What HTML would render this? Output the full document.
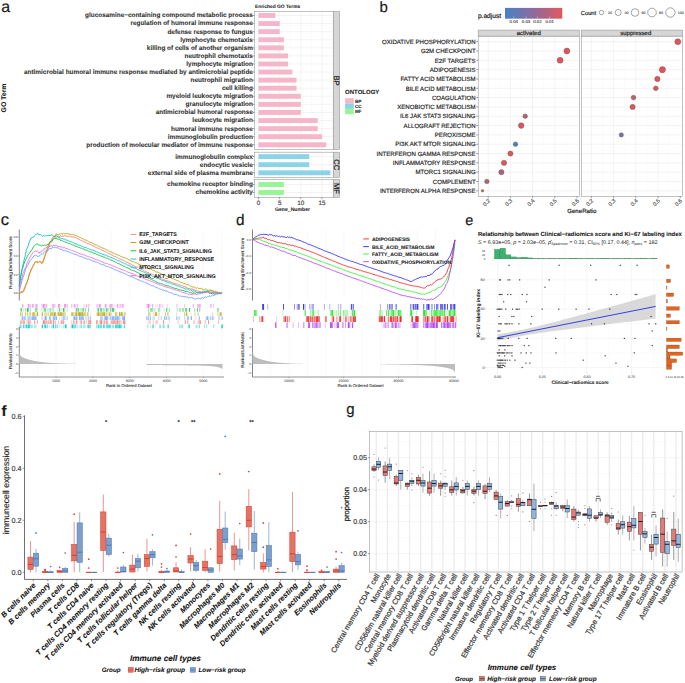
<!DOCTYPE html>
<html><head><meta charset="utf-8"><title>Figure</title>
<style>html,body{margin:0;padding:0;background:#fff;width:685px;height:683px;overflow:hidden}
svg{display:block;font-family:"Liberation Sans",sans-serif;text-rendering:geometricPrecision}</style></head>
<body><svg width="685" height="683" viewBox="0 0 685 683" font-family="Liberation Sans, sans-serif"><text x="1.2" y="12.2" font-size="16" text-anchor="start" fill="#1a1a1a" stroke="#1a1a1a" stroke-width="0.19">a</text>
<text x="255" y="7.8" font-size="4.85" font-weight="bold" text-anchor="start" fill="#1a1a1a" stroke="#1a1a1a" stroke-width="0.06">Enriched GO Terms</text>
<text x="6.2" y="98" font-size="6.9" font-weight="bold" text-anchor="middle" fill="#1a1a1a" stroke="#1a1a1a" stroke-width="0.08" transform="rotate(-90 6.2 98)">GO Term</text>
<rect x="254.5" y="11.6" width="78.9" height="137.8" fill="#fff" stroke="none" stroke-width="0.5"/>
<line x1="269.07" y1="11.6" x2="269.07" y2="149.4" stroke="#f3f3f3" stroke-width="0.35"/>
<line x1="290.23" y1="11.6" x2="290.23" y2="149.4" stroke="#f3f3f3" stroke-width="0.35"/>
<line x1="311.38" y1="11.6" x2="311.38" y2="149.4" stroke="#f3f3f3" stroke-width="0.35"/>
<line x1="332.52" y1="11.6" x2="332.52" y2="149.4" stroke="#f3f3f3" stroke-width="0.35"/>
<line x1="258.5" y1="11.6" x2="258.5" y2="149.4" stroke="#ebebeb" stroke-width="0.6"/>
<line x1="279.65" y1="11.6" x2="279.65" y2="149.4" stroke="#ebebeb" stroke-width="0.6"/>
<line x1="300.8" y1="11.6" x2="300.8" y2="149.4" stroke="#ebebeb" stroke-width="0.6"/>
<line x1="321.95" y1="11.6" x2="321.95" y2="149.4" stroke="#ebebeb" stroke-width="0.6"/>
<line x1="254.5" y1="15.5" x2="333.4" y2="15.5" stroke="#ebebeb" stroke-width="0.6"/>
<line x1="254.5" y1="23.58" x2="333.4" y2="23.58" stroke="#ebebeb" stroke-width="0.6"/>
<line x1="254.5" y1="31.66" x2="333.4" y2="31.66" stroke="#ebebeb" stroke-width="0.6"/>
<line x1="254.5" y1="39.74" x2="333.4" y2="39.74" stroke="#ebebeb" stroke-width="0.6"/>
<line x1="254.5" y1="47.82" x2="333.4" y2="47.82" stroke="#ebebeb" stroke-width="0.6"/>
<line x1="254.5" y1="55.9" x2="333.4" y2="55.9" stroke="#ebebeb" stroke-width="0.6"/>
<line x1="254.5" y1="63.98" x2="333.4" y2="63.98" stroke="#ebebeb" stroke-width="0.6"/>
<line x1="254.5" y1="72.06" x2="333.4" y2="72.06" stroke="#ebebeb" stroke-width="0.6"/>
<line x1="254.5" y1="80.14" x2="333.4" y2="80.14" stroke="#ebebeb" stroke-width="0.6"/>
<line x1="254.5" y1="88.22" x2="333.4" y2="88.22" stroke="#ebebeb" stroke-width="0.6"/>
<line x1="254.5" y1="96.3" x2="333.4" y2="96.3" stroke="#ebebeb" stroke-width="0.6"/>
<line x1="254.5" y1="104.38" x2="333.4" y2="104.38" stroke="#ebebeb" stroke-width="0.6"/>
<line x1="254.5" y1="112.46" x2="333.4" y2="112.46" stroke="#ebebeb" stroke-width="0.6"/>
<line x1="254.5" y1="120.54" x2="333.4" y2="120.54" stroke="#ebebeb" stroke-width="0.6"/>
<line x1="254.5" y1="128.62" x2="333.4" y2="128.62" stroke="#ebebeb" stroke-width="0.6"/>
<line x1="254.5" y1="136.7" x2="333.4" y2="136.7" stroke="#ebebeb" stroke-width="0.6"/>
<line x1="254.5" y1="144.78" x2="333.4" y2="144.78" stroke="#ebebeb" stroke-width="0.6"/>
<rect x="258.5" y="13.05" width="16.92" height="4.9" fill="#f4b6c8" stroke="none" stroke-width="0.5"/>
<text x="252.9" y="17.4" font-size="6.42" font-weight="bold" text-anchor="end" fill="#333" stroke="#333" stroke-width="0.08">glucosamine−containing compound metabolic process</text>
<line x1="252.6" y1="15.5" x2="254.5" y2="15.5" stroke="#444" stroke-width="0.5"/>
<rect x="258.5" y="21.13" width="21.15" height="4.9" fill="#f4b6c8" stroke="none" stroke-width="0.5"/>
<text x="252.9" y="25.48" font-size="6.42" font-weight="bold" text-anchor="end" fill="#333" stroke="#333" stroke-width="0.08">regulation of humoral immune response</text>
<line x1="252.6" y1="23.58" x2="254.5" y2="23.58" stroke="#444" stroke-width="0.5"/>
<rect x="258.5" y="29.21" width="21.15" height="4.9" fill="#f4b6c8" stroke="none" stroke-width="0.5"/>
<text x="252.9" y="33.56" font-size="6.42" font-weight="bold" text-anchor="end" fill="#333" stroke="#333" stroke-width="0.08">defense response to fungus</text>
<line x1="252.6" y1="31.66" x2="254.5" y2="31.66" stroke="#444" stroke-width="0.5"/>
<rect x="258.5" y="37.29" width="25.38" height="4.9" fill="#f4b6c8" stroke="none" stroke-width="0.5"/>
<text x="252.9" y="41.64" font-size="6.42" font-weight="bold" text-anchor="end" fill="#333" stroke="#333" stroke-width="0.08">lymphocyte chemotaxis</text>
<line x1="252.6" y1="39.74" x2="254.5" y2="39.74" stroke="#444" stroke-width="0.5"/>
<rect x="258.5" y="45.37" width="25.38" height="4.9" fill="#f4b6c8" stroke="none" stroke-width="0.5"/>
<text x="252.9" y="49.72" font-size="6.42" font-weight="bold" text-anchor="end" fill="#333" stroke="#333" stroke-width="0.08">killing of cells of another organism</text>
<line x1="252.6" y1="47.82" x2="254.5" y2="47.82" stroke="#444" stroke-width="0.5"/>
<rect x="258.5" y="53.45" width="29.61" height="4.9" fill="#f4b6c8" stroke="none" stroke-width="0.5"/>
<text x="252.9" y="57.8" font-size="6.42" font-weight="bold" text-anchor="end" fill="#333" stroke="#333" stroke-width="0.08">neutrophil chemotaxis</text>
<line x1="252.6" y1="55.9" x2="254.5" y2="55.9" stroke="#444" stroke-width="0.5"/>
<rect x="258.5" y="61.53" width="29.61" height="4.9" fill="#f4b6c8" stroke="none" stroke-width="0.5"/>
<text x="252.9" y="65.88" font-size="6.42" font-weight="bold" text-anchor="end" fill="#333" stroke="#333" stroke-width="0.08">lymphocyte migration</text>
<line x1="252.6" y1="63.98" x2="254.5" y2="63.98" stroke="#444" stroke-width="0.5"/>
<rect x="258.5" y="69.61" width="33.84" height="4.9" fill="#f4b6c8" stroke="none" stroke-width="0.5"/>
<text x="252.9" y="73.96" font-size="6.42" font-weight="bold" text-anchor="end" fill="#333" stroke="#333" stroke-width="0.08">antimicrobial humoral immune response mediated by antimicrobial peptide</text>
<line x1="252.6" y1="72.06" x2="254.5" y2="72.06" stroke="#444" stroke-width="0.5"/>
<rect x="258.5" y="77.69" width="38.07" height="4.9" fill="#f4b6c8" stroke="none" stroke-width="0.5"/>
<text x="252.9" y="82.04" font-size="6.42" font-weight="bold" text-anchor="end" fill="#333" stroke="#333" stroke-width="0.08">neutrophil migration</text>
<line x1="252.6" y1="80.14" x2="254.5" y2="80.14" stroke="#444" stroke-width="0.5"/>
<rect x="258.5" y="85.77" width="38.07" height="4.9" fill="#f4b6c8" stroke="none" stroke-width="0.5"/>
<text x="252.9" y="90.12" font-size="6.42" font-weight="bold" text-anchor="end" fill="#333" stroke="#333" stroke-width="0.08">cell killing</text>
<line x1="252.6" y1="88.22" x2="254.5" y2="88.22" stroke="#444" stroke-width="0.5"/>
<rect x="258.5" y="93.85" width="42.3" height="4.9" fill="#f4b6c8" stroke="none" stroke-width="0.5"/>
<text x="252.9" y="98.2" font-size="6.42" font-weight="bold" text-anchor="end" fill="#333" stroke="#333" stroke-width="0.08">myeloid leukocyte migration</text>
<line x1="252.6" y1="96.3" x2="254.5" y2="96.3" stroke="#444" stroke-width="0.5"/>
<rect x="258.5" y="101.93" width="42.3" height="4.9" fill="#f4b6c8" stroke="none" stroke-width="0.5"/>
<text x="252.9" y="106.28" font-size="6.42" font-weight="bold" text-anchor="end" fill="#333" stroke="#333" stroke-width="0.08">granulocyte migration</text>
<line x1="252.6" y1="104.38" x2="254.5" y2="104.38" stroke="#444" stroke-width="0.5"/>
<rect x="258.5" y="110.01" width="42.3" height="4.9" fill="#f4b6c8" stroke="none" stroke-width="0.5"/>
<text x="252.9" y="114.36" font-size="6.42" font-weight="bold" text-anchor="end" fill="#333" stroke="#333" stroke-width="0.08">antimicrobial humoral response</text>
<line x1="252.6" y1="112.46" x2="254.5" y2="112.46" stroke="#444" stroke-width="0.5"/>
<rect x="258.5" y="118.09" width="59.22" height="4.9" fill="#f4b6c8" stroke="none" stroke-width="0.5"/>
<text x="252.9" y="122.44" font-size="6.42" font-weight="bold" text-anchor="end" fill="#333" stroke="#333" stroke-width="0.08">leukocyte migration</text>
<line x1="252.6" y1="120.54" x2="254.5" y2="120.54" stroke="#444" stroke-width="0.5"/>
<rect x="258.5" y="126.17" width="59.22" height="4.9" fill="#f4b6c8" stroke="none" stroke-width="0.5"/>
<text x="252.9" y="130.52" font-size="6.42" font-weight="bold" text-anchor="end" fill="#333" stroke="#333" stroke-width="0.08">humoral immune response</text>
<line x1="252.6" y1="128.62" x2="254.5" y2="128.62" stroke="#444" stroke-width="0.5"/>
<rect x="258.5" y="134.25" width="63.45" height="4.9" fill="#f4b6c8" stroke="none" stroke-width="0.5"/>
<text x="252.9" y="138.6" font-size="6.42" font-weight="bold" text-anchor="end" fill="#333" stroke="#333" stroke-width="0.08">immunoglobulin production</text>
<line x1="252.6" y1="136.7" x2="254.5" y2="136.7" stroke="#444" stroke-width="0.5"/>
<rect x="258.5" y="142.33" width="67.68" height="4.9" fill="#f4b6c8" stroke="none" stroke-width="0.5"/>
<text x="252.9" y="146.68" font-size="6.42" font-weight="bold" text-anchor="end" fill="#333" stroke="#333" stroke-width="0.08">production of molecular mediator of immune response</text>
<line x1="252.6" y1="144.78" x2="254.5" y2="144.78" stroke="#444" stroke-width="0.5"/>
<rect x="254.5" y="11.6" width="78.9" height="137.8" fill="none" stroke="#9a9a9a" stroke-width="0.6"/>
<rect x="333.4" y="11.6" width="6.3" height="137.8" fill="#d6d6d6" stroke="#9a9a9a" stroke-width="0.6"/>
<text x="333.9" y="80.5" font-size="7.6" text-anchor="middle" fill="#1a1a1a" stroke="#1a1a1a" stroke-width="0.23" transform="rotate(90 333.9 80.5)">BP</text>
<rect x="254.5" y="152.2" width="78.9" height="25.2" fill="#fff" stroke="none" stroke-width="0.5"/>
<line x1="269.07" y1="152.2" x2="269.07" y2="177.4" stroke="#f3f3f3" stroke-width="0.35"/>
<line x1="290.23" y1="152.2" x2="290.23" y2="177.4" stroke="#f3f3f3" stroke-width="0.35"/>
<line x1="311.38" y1="152.2" x2="311.38" y2="177.4" stroke="#f3f3f3" stroke-width="0.35"/>
<line x1="332.52" y1="152.2" x2="332.52" y2="177.4" stroke="#f3f3f3" stroke-width="0.35"/>
<line x1="258.5" y1="152.2" x2="258.5" y2="177.4" stroke="#ebebeb" stroke-width="0.6"/>
<line x1="279.65" y1="152.2" x2="279.65" y2="177.4" stroke="#ebebeb" stroke-width="0.6"/>
<line x1="300.8" y1="152.2" x2="300.8" y2="177.4" stroke="#ebebeb" stroke-width="0.6"/>
<line x1="321.95" y1="152.2" x2="321.95" y2="177.4" stroke="#ebebeb" stroke-width="0.6"/>
<line x1="254.5" y1="156.6" x2="333.4" y2="156.6" stroke="#ebebeb" stroke-width="0.6"/>
<line x1="254.5" y1="164.7" x2="333.4" y2="164.7" stroke="#ebebeb" stroke-width="0.6"/>
<line x1="254.5" y1="172.8" x2="333.4" y2="172.8" stroke="#ebebeb" stroke-width="0.6"/>
<rect x="258.5" y="154.15" width="50.76" height="4.9" fill="#8dd3e8" stroke="none" stroke-width="0.5"/>
<text x="252.9" y="158.5" font-size="6.42" font-weight="bold" text-anchor="end" fill="#333" stroke="#333" stroke-width="0.08">immunoglobulin complex</text>
<line x1="252.6" y1="156.6" x2="254.5" y2="156.6" stroke="#444" stroke-width="0.5"/>
<rect x="258.5" y="162.25" width="50.76" height="4.9" fill="#8dd3e8" stroke="none" stroke-width="0.5"/>
<text x="252.9" y="166.6" font-size="6.42" font-weight="bold" text-anchor="end" fill="#333" stroke="#333" stroke-width="0.08">endocytic vesicle</text>
<line x1="252.6" y1="164.7" x2="254.5" y2="164.7" stroke="#444" stroke-width="0.5"/>
<rect x="258.5" y="170.35" width="71.91" height="4.9" fill="#8dd3e8" stroke="none" stroke-width="0.5"/>
<text x="252.9" y="174.7" font-size="6.42" font-weight="bold" text-anchor="end" fill="#333" stroke="#333" stroke-width="0.08">external side of plasma membrane</text>
<line x1="252.6" y1="172.8" x2="254.5" y2="172.8" stroke="#444" stroke-width="0.5"/>
<rect x="254.5" y="152.2" width="78.9" height="25.2" fill="none" stroke="#9a9a9a" stroke-width="0.6"/>
<rect x="333.4" y="152.2" width="6.3" height="25.2" fill="#d6d6d6" stroke="#9a9a9a" stroke-width="0.6"/>
<text x="333.9" y="164.8" font-size="7.6" text-anchor="middle" fill="#1a1a1a" stroke="#1a1a1a" stroke-width="0.23" transform="rotate(90 333.9 164.8)">CC</text>
<rect x="254.5" y="179.6" width="78.9" height="17.8" fill="#fff" stroke="none" stroke-width="0.5"/>
<line x1="269.07" y1="179.6" x2="269.07" y2="197.4" stroke="#f3f3f3" stroke-width="0.35"/>
<line x1="290.23" y1="179.6" x2="290.23" y2="197.4" stroke="#f3f3f3" stroke-width="0.35"/>
<line x1="311.38" y1="179.6" x2="311.38" y2="197.4" stroke="#f3f3f3" stroke-width="0.35"/>
<line x1="332.52" y1="179.6" x2="332.52" y2="197.4" stroke="#f3f3f3" stroke-width="0.35"/>
<line x1="258.5" y1="179.6" x2="258.5" y2="197.4" stroke="#ebebeb" stroke-width="0.6"/>
<line x1="279.65" y1="179.6" x2="279.65" y2="197.4" stroke="#ebebeb" stroke-width="0.6"/>
<line x1="300.8" y1="179.6" x2="300.8" y2="197.4" stroke="#ebebeb" stroke-width="0.6"/>
<line x1="321.95" y1="179.6" x2="321.95" y2="197.4" stroke="#ebebeb" stroke-width="0.6"/>
<line x1="254.5" y1="184.5" x2="333.4" y2="184.5" stroke="#ebebeb" stroke-width="0.6"/>
<line x1="254.5" y1="192.5" x2="333.4" y2="192.5" stroke="#ebebeb" stroke-width="0.6"/>
<rect x="258.5" y="182.05" width="25.38" height="4.9" fill="#97f595" stroke="none" stroke-width="0.5"/>
<text x="252.9" y="186.4" font-size="6.42" font-weight="bold" text-anchor="end" fill="#333" stroke="#333" stroke-width="0.08">chemokine receptor binding</text>
<line x1="252.6" y1="184.5" x2="254.5" y2="184.5" stroke="#444" stroke-width="0.5"/>
<rect x="258.5" y="190.05" width="25.38" height="4.9" fill="#97f595" stroke="none" stroke-width="0.5"/>
<text x="252.9" y="194.4" font-size="6.42" font-weight="bold" text-anchor="end" fill="#333" stroke="#333" stroke-width="0.08">chemokine activity</text>
<line x1="252.6" y1="192.5" x2="254.5" y2="192.5" stroke="#444" stroke-width="0.5"/>
<rect x="254.5" y="179.6" width="78.9" height="17.8" fill="none" stroke="#9a9a9a" stroke-width="0.6"/>
<rect x="333.4" y="179.6" width="6.3" height="17.8" fill="#d6d6d6" stroke="#9a9a9a" stroke-width="0.6"/>
<text x="333.9" y="188.5" font-size="7.6" text-anchor="middle" fill="#1a1a1a" stroke="#1a1a1a" stroke-width="0.23" transform="rotate(90 333.9 188.5)">MF</text>
<line x1="258.5" y1="197.4" x2="258.5" y2="199.2" stroke="#444" stroke-width="0.5"/>
<text x="258.5" y="205" font-size="6.3" text-anchor="middle" fill="#4d4d4d" stroke="#4d4d4d" stroke-width="0.19">0</text>
<line x1="279.65" y1="197.4" x2="279.65" y2="199.2" stroke="#444" stroke-width="0.5"/>
<text x="279.65" y="205" font-size="6.3" text-anchor="middle" fill="#4d4d4d" stroke="#4d4d4d" stroke-width="0.19">5</text>
<line x1="300.8" y1="197.4" x2="300.8" y2="199.2" stroke="#444" stroke-width="0.5"/>
<text x="300.8" y="205" font-size="6.3" text-anchor="middle" fill="#4d4d4d" stroke="#4d4d4d" stroke-width="0.19">10</text>
<line x1="321.95" y1="197.4" x2="321.95" y2="199.2" stroke="#444" stroke-width="0.5"/>
<text x="321.95" y="205" font-size="6.3" text-anchor="middle" fill="#4d4d4d" stroke="#4d4d4d" stroke-width="0.19">15</text>
<text x="292.5" y="210.7" font-size="5.12" font-weight="bold" text-anchor="middle" fill="#1a1a1a" stroke="#1a1a1a" stroke-width="0.06">Gene_Number</text>
<text x="345.1" y="94.1" font-size="6" font-weight="bold" text-anchor="start" fill="#1a1a1a" stroke="#1a1a1a" stroke-width="0.07">ONTOLOGY</text>
<rect x="345.1" y="98.2" width="8.7" height="5.35" fill="#f4b6c8" stroke="none" stroke-width="0.5"/>
<text x="355" y="102.6" font-size="4.6" font-weight="bold" text-anchor="start" fill="#1a1a1a" stroke="#1a1a1a" stroke-width="0.06">BP</text>
<rect x="345.1" y="103.55" width="8.7" height="5.35" fill="#8dd3e8" stroke="none" stroke-width="0.5"/>
<text x="355" y="107.95" font-size="4.6" font-weight="bold" text-anchor="start" fill="#1a1a1a" stroke="#1a1a1a" stroke-width="0.06">CC</text>
<rect x="345.1" y="108.9" width="8.7" height="5.35" fill="#97f595" stroke="none" stroke-width="0.5"/>
<text x="355" y="113.3" font-size="4.6" font-weight="bold" text-anchor="start" fill="#1a1a1a" stroke="#1a1a1a" stroke-width="0.06">MF</text>
<text x="379.5" y="12.3" font-size="15" text-anchor="start" fill="#1a1a1a" stroke="#1a1a1a" stroke-width="0.18">b</text>
<rect x="478.2" y="36.1" width="101.2" height="160.4" fill="#fff" stroke="none" stroke-width="0.5"/>
<line x1="488.2" y1="36.1" x2="488.2" y2="196.5" stroke="#ebebeb" stroke-width="0.6"/>
<line x1="499.3" y1="36.1" x2="499.3" y2="196.5" stroke="#f3f3f3" stroke-width="0.35"/>
<line x1="510.4" y1="36.1" x2="510.4" y2="196.5" stroke="#ebebeb" stroke-width="0.6"/>
<line x1="521.5" y1="36.1" x2="521.5" y2="196.5" stroke="#f3f3f3" stroke-width="0.35"/>
<line x1="532.6" y1="36.1" x2="532.6" y2="196.5" stroke="#ebebeb" stroke-width="0.6"/>
<line x1="543.7" y1="36.1" x2="543.7" y2="196.5" stroke="#f3f3f3" stroke-width="0.35"/>
<line x1="554.8" y1="36.1" x2="554.8" y2="196.5" stroke="#ebebeb" stroke-width="0.6"/>
<line x1="565.9" y1="36.1" x2="565.9" y2="196.5" stroke="#f3f3f3" stroke-width="0.35"/>
<line x1="478.2" y1="41.7" x2="579.4" y2="41.7" stroke="#ebebeb" stroke-width="0.6"/>
<line x1="478.2" y1="51.02" x2="579.4" y2="51.02" stroke="#ebebeb" stroke-width="0.6"/>
<line x1="478.2" y1="60.34" x2="579.4" y2="60.34" stroke="#ebebeb" stroke-width="0.6"/>
<line x1="478.2" y1="69.66" x2="579.4" y2="69.66" stroke="#ebebeb" stroke-width="0.6"/>
<line x1="478.2" y1="78.98" x2="579.4" y2="78.98" stroke="#ebebeb" stroke-width="0.6"/>
<line x1="478.2" y1="88.3" x2="579.4" y2="88.3" stroke="#ebebeb" stroke-width="0.6"/>
<line x1="478.2" y1="97.62" x2="579.4" y2="97.62" stroke="#ebebeb" stroke-width="0.6"/>
<line x1="478.2" y1="106.94" x2="579.4" y2="106.94" stroke="#ebebeb" stroke-width="0.6"/>
<line x1="478.2" y1="116.26" x2="579.4" y2="116.26" stroke="#ebebeb" stroke-width="0.6"/>
<line x1="478.2" y1="125.58" x2="579.4" y2="125.58" stroke="#ebebeb" stroke-width="0.6"/>
<line x1="478.2" y1="134.9" x2="579.4" y2="134.9" stroke="#ebebeb" stroke-width="0.6"/>
<line x1="478.2" y1="144.22" x2="579.4" y2="144.22" stroke="#ebebeb" stroke-width="0.6"/>
<line x1="478.2" y1="153.54" x2="579.4" y2="153.54" stroke="#ebebeb" stroke-width="0.6"/>
<line x1="478.2" y1="162.86" x2="579.4" y2="162.86" stroke="#ebebeb" stroke-width="0.6"/>
<line x1="478.2" y1="172.18" x2="579.4" y2="172.18" stroke="#ebebeb" stroke-width="0.6"/>
<line x1="478.2" y1="181.5" x2="579.4" y2="181.5" stroke="#ebebeb" stroke-width="0.6"/>
<line x1="478.2" y1="190.82" x2="579.4" y2="190.82" stroke="#ebebeb" stroke-width="0.6"/>
<rect x="478.2" y="36.1" width="101.2" height="160.4" fill="none" stroke="#9a9a9a" stroke-width="0.6"/>
<rect x="478.2" y="30.1" width="101.2" height="6" fill="#d6d6d6" stroke="#9a9a9a" stroke-width="0.6"/>
<text x="528.8" y="35" font-size="6" text-anchor="middle" fill="#1a1a1a" stroke="#1a1a1a" stroke-width="0.18">activated</text>
<line x1="488.2" y1="196.5" x2="488.2" y2="198.3" stroke="#444" stroke-width="0.5"/>
<text x="490.5" y="201" font-size="5.5" text-anchor="end" fill="#4d4d4d" stroke="#4d4d4d" stroke-width="0.16" transform="rotate(-45 490.5 201)">0.2</text>
<line x1="510.4" y1="196.5" x2="510.4" y2="198.3" stroke="#444" stroke-width="0.5"/>
<text x="512.7" y="201" font-size="5.5" text-anchor="end" fill="#4d4d4d" stroke="#4d4d4d" stroke-width="0.16" transform="rotate(-45 512.7 201)">0.3</text>
<line x1="532.6" y1="196.5" x2="532.6" y2="198.3" stroke="#444" stroke-width="0.5"/>
<text x="534.9" y="201" font-size="5.5" text-anchor="end" fill="#4d4d4d" stroke="#4d4d4d" stroke-width="0.16" transform="rotate(-45 534.9 201)">0.4</text>
<line x1="554.8" y1="196.5" x2="554.8" y2="198.3" stroke="#444" stroke-width="0.5"/>
<text x="557.1" y="201" font-size="5.5" text-anchor="end" fill="#4d4d4d" stroke="#4d4d4d" stroke-width="0.16" transform="rotate(-45 557.1 201)">0.5</text>
<line x1="577" y1="196.5" x2="577" y2="198.3" stroke="#444" stroke-width="0.5"/>
<text x="579.3" y="201" font-size="5.5" text-anchor="end" fill="#4d4d4d" stroke="#4d4d4d" stroke-width="0.16" transform="rotate(-45 579.3 201)">0.6</text>
<rect x="581.3" y="36.1" width="101.3" height="160.4" fill="#fff" stroke="none" stroke-width="0.5"/>
<line x1="591.4" y1="36.1" x2="591.4" y2="196.5" stroke="#ebebeb" stroke-width="0.6"/>
<line x1="602.5" y1="36.1" x2="602.5" y2="196.5" stroke="#f3f3f3" stroke-width="0.35"/>
<line x1="613.6" y1="36.1" x2="613.6" y2="196.5" stroke="#ebebeb" stroke-width="0.6"/>
<line x1="624.7" y1="36.1" x2="624.7" y2="196.5" stroke="#f3f3f3" stroke-width="0.35"/>
<line x1="635.8" y1="36.1" x2="635.8" y2="196.5" stroke="#ebebeb" stroke-width="0.6"/>
<line x1="646.9" y1="36.1" x2="646.9" y2="196.5" stroke="#f3f3f3" stroke-width="0.35"/>
<line x1="658" y1="36.1" x2="658" y2="196.5" stroke="#ebebeb" stroke-width="0.6"/>
<line x1="669.1" y1="36.1" x2="669.1" y2="196.5" stroke="#f3f3f3" stroke-width="0.35"/>
<line x1="581.3" y1="41.7" x2="682.6" y2="41.7" stroke="#ebebeb" stroke-width="0.6"/>
<line x1="581.3" y1="51.02" x2="682.6" y2="51.02" stroke="#ebebeb" stroke-width="0.6"/>
<line x1="581.3" y1="60.34" x2="682.6" y2="60.34" stroke="#ebebeb" stroke-width="0.6"/>
<line x1="581.3" y1="69.66" x2="682.6" y2="69.66" stroke="#ebebeb" stroke-width="0.6"/>
<line x1="581.3" y1="78.98" x2="682.6" y2="78.98" stroke="#ebebeb" stroke-width="0.6"/>
<line x1="581.3" y1="88.3" x2="682.6" y2="88.3" stroke="#ebebeb" stroke-width="0.6"/>
<line x1="581.3" y1="97.62" x2="682.6" y2="97.62" stroke="#ebebeb" stroke-width="0.6"/>
<line x1="581.3" y1="106.94" x2="682.6" y2="106.94" stroke="#ebebeb" stroke-width="0.6"/>
<line x1="581.3" y1="116.26" x2="682.6" y2="116.26" stroke="#ebebeb" stroke-width="0.6"/>
<line x1="581.3" y1="125.58" x2="682.6" y2="125.58" stroke="#ebebeb" stroke-width="0.6"/>
<line x1="581.3" y1="134.9" x2="682.6" y2="134.9" stroke="#ebebeb" stroke-width="0.6"/>
<line x1="581.3" y1="144.22" x2="682.6" y2="144.22" stroke="#ebebeb" stroke-width="0.6"/>
<line x1="581.3" y1="153.54" x2="682.6" y2="153.54" stroke="#ebebeb" stroke-width="0.6"/>
<line x1="581.3" y1="162.86" x2="682.6" y2="162.86" stroke="#ebebeb" stroke-width="0.6"/>
<line x1="581.3" y1="172.18" x2="682.6" y2="172.18" stroke="#ebebeb" stroke-width="0.6"/>
<line x1="581.3" y1="181.5" x2="682.6" y2="181.5" stroke="#ebebeb" stroke-width="0.6"/>
<line x1="581.3" y1="190.82" x2="682.6" y2="190.82" stroke="#ebebeb" stroke-width="0.6"/>
<rect x="581.3" y="36.1" width="101.3" height="160.4" fill="none" stroke="#9a9a9a" stroke-width="0.6"/>
<rect x="581.3" y="30.1" width="101.3" height="6" fill="#d6d6d6" stroke="#9a9a9a" stroke-width="0.6"/>
<text x="635.75" y="35" font-size="6" text-anchor="middle" fill="#1a1a1a" stroke="#1a1a1a" stroke-width="0.18">suppressed</text>
<line x1="591.4" y1="196.5" x2="591.4" y2="198.3" stroke="#444" stroke-width="0.5"/>
<text x="593.7" y="201" font-size="5.5" text-anchor="end" fill="#4d4d4d" stroke="#4d4d4d" stroke-width="0.16" transform="rotate(-45 593.7 201)">0.2</text>
<line x1="613.6" y1="196.5" x2="613.6" y2="198.3" stroke="#444" stroke-width="0.5"/>
<text x="615.9" y="201" font-size="5.5" text-anchor="end" fill="#4d4d4d" stroke="#4d4d4d" stroke-width="0.16" transform="rotate(-45 615.9 201)">0.3</text>
<line x1="635.8" y1="196.5" x2="635.8" y2="198.3" stroke="#444" stroke-width="0.5"/>
<text x="638.1" y="201" font-size="5.5" text-anchor="end" fill="#4d4d4d" stroke="#4d4d4d" stroke-width="0.16" transform="rotate(-45 638.1 201)">0.4</text>
<line x1="658" y1="196.5" x2="658" y2="198.3" stroke="#444" stroke-width="0.5"/>
<text x="660.3" y="201" font-size="5.5" text-anchor="end" fill="#4d4d4d" stroke="#4d4d4d" stroke-width="0.16" transform="rotate(-45 660.3 201)">0.5</text>
<line x1="680.2" y1="196.5" x2="680.2" y2="198.3" stroke="#444" stroke-width="0.5"/>
<text x="682.5" y="201" font-size="5.5" text-anchor="end" fill="#4d4d4d" stroke="#4d4d4d" stroke-width="0.16" transform="rotate(-45 682.5 201)">0.6</text>
<text x="475.6" y="43.9" font-size="6.07" text-anchor="end" fill="#2a2a2a" stroke="#2a2a2a" stroke-width="0.18">OXIDATIVE PHOSPHORYLATION</text>
<line x1="476.2" y1="41.7" x2="478.2" y2="41.7" stroke="#444" stroke-width="0.5"/>
<text x="475.6" y="53.22" font-size="6.07" text-anchor="end" fill="#2a2a2a" stroke="#2a2a2a" stroke-width="0.18">G2M CHECKPOINT</text>
<line x1="476.2" y1="51.02" x2="478.2" y2="51.02" stroke="#444" stroke-width="0.5"/>
<text x="475.6" y="62.54" font-size="6.07" text-anchor="end" fill="#2a2a2a" stroke="#2a2a2a" stroke-width="0.18">E2F TARGETS</text>
<line x1="476.2" y1="60.34" x2="478.2" y2="60.34" stroke="#444" stroke-width="0.5"/>
<text x="475.6" y="71.86" font-size="6.07" text-anchor="end" fill="#2a2a2a" stroke="#2a2a2a" stroke-width="0.18">ADIPOGENESIS</text>
<line x1="476.2" y1="69.66" x2="478.2" y2="69.66" stroke="#444" stroke-width="0.5"/>
<text x="475.6" y="81.18" font-size="6.07" text-anchor="end" fill="#2a2a2a" stroke="#2a2a2a" stroke-width="0.18">FATTY ACID METABOLISM</text>
<line x1="476.2" y1="78.98" x2="478.2" y2="78.98" stroke="#444" stroke-width="0.5"/>
<text x="475.6" y="90.5" font-size="6.07" text-anchor="end" fill="#2a2a2a" stroke="#2a2a2a" stroke-width="0.18">BILE ACID METABOLISM</text>
<line x1="476.2" y1="88.3" x2="478.2" y2="88.3" stroke="#444" stroke-width="0.5"/>
<text x="475.6" y="99.82" font-size="6.07" text-anchor="end" fill="#2a2a2a" stroke="#2a2a2a" stroke-width="0.18">COAGULATION</text>
<line x1="476.2" y1="97.62" x2="478.2" y2="97.62" stroke="#444" stroke-width="0.5"/>
<text x="475.6" y="109.14" font-size="6.07" text-anchor="end" fill="#2a2a2a" stroke="#2a2a2a" stroke-width="0.18">XENOBIOTIC METABOLISM</text>
<line x1="476.2" y1="106.94" x2="478.2" y2="106.94" stroke="#444" stroke-width="0.5"/>
<text x="475.6" y="118.46" font-size="6.07" text-anchor="end" fill="#2a2a2a" stroke="#2a2a2a" stroke-width="0.18">IL6 JAK STAT3 SIGNALING</text>
<line x1="476.2" y1="116.26" x2="478.2" y2="116.26" stroke="#444" stroke-width="0.5"/>
<text x="475.6" y="127.78" font-size="6.07" text-anchor="end" fill="#2a2a2a" stroke="#2a2a2a" stroke-width="0.18">ALLOGRAFT REJECTION</text>
<line x1="476.2" y1="125.58" x2="478.2" y2="125.58" stroke="#444" stroke-width="0.5"/>
<text x="475.6" y="137.1" font-size="6.07" text-anchor="end" fill="#2a2a2a" stroke="#2a2a2a" stroke-width="0.18">PEROXISOME</text>
<line x1="476.2" y1="134.9" x2="478.2" y2="134.9" stroke="#444" stroke-width="0.5"/>
<text x="475.6" y="146.42" font-size="6.07" text-anchor="end" fill="#2a2a2a" stroke="#2a2a2a" stroke-width="0.18">PI3K AKT MTOR SIGNALING</text>
<line x1="476.2" y1="144.22" x2="478.2" y2="144.22" stroke="#444" stroke-width="0.5"/>
<text x="475.6" y="155.74" font-size="6.07" text-anchor="end" fill="#2a2a2a" stroke="#2a2a2a" stroke-width="0.18">INTERFERON GAMMA RESPONSE</text>
<line x1="476.2" y1="153.54" x2="478.2" y2="153.54" stroke="#444" stroke-width="0.5"/>
<text x="475.6" y="165.06" font-size="6.07" text-anchor="end" fill="#2a2a2a" stroke="#2a2a2a" stroke-width="0.18">INFLAMMATORY RESPONSE</text>
<line x1="476.2" y1="162.86" x2="478.2" y2="162.86" stroke="#444" stroke-width="0.5"/>
<text x="475.6" y="174.38" font-size="6.07" text-anchor="end" fill="#2a2a2a" stroke="#2a2a2a" stroke-width="0.18">MTORC1 SIGNALING</text>
<line x1="476.2" y1="172.18" x2="478.2" y2="172.18" stroke="#444" stroke-width="0.5"/>
<text x="475.6" y="183.7" font-size="6.07" text-anchor="end" fill="#2a2a2a" stroke="#2a2a2a" stroke-width="0.18">COMPLEMENT</text>
<line x1="476.2" y1="181.5" x2="478.2" y2="181.5" stroke="#444" stroke-width="0.5"/>
<text x="475.6" y="193.02" font-size="6.07" text-anchor="end" fill="#2a2a2a" stroke="#2a2a2a" stroke-width="0.18">INTERFERON ALPHA RESPONSE</text>
<line x1="476.2" y1="190.82" x2="478.2" y2="190.82" stroke="#444" stroke-width="0.5"/>
<text x="581.8" y="212.6" font-size="6.1" text-anchor="middle" fill="#1a1a1a" stroke="#1a1a1a" stroke-width="0.18">GeneRatio</text>
<circle cx="566.9" cy="51.02" r="3" fill="#e0555a" stroke="#4a4a4a" stroke-width="0.35"/>
<circle cx="560.1" cy="60.34" r="3" fill="#e0555a" stroke="#4a4a4a" stroke-width="0.35"/>
<circle cx="525.2" cy="116.26" r="2.3" fill="#b96074" stroke="#4a4a4a" stroke-width="0.35"/>
<circle cx="521.2" cy="125.58" r="2.8" fill="#d8575f" stroke="#4a4a4a" stroke-width="0.35"/>
<circle cx="515.5" cy="144.22" r="2.3" fill="#4682c3" stroke="#4a4a4a" stroke-width="0.35"/>
<circle cx="510.4" cy="153.54" r="2.6" fill="#e0555a" stroke="#4a4a4a" stroke-width="0.35"/>
<circle cx="504" cy="162.86" r="2.7" fill="#e0555a" stroke="#4a4a4a" stroke-width="0.35"/>
<circle cx="501.4" cy="172.18" r="2.6" fill="#b16279" stroke="#4a4a4a" stroke-width="0.35"/>
<circle cx="486.9" cy="181.5" r="2.3" fill="#b96074" stroke="#4a4a4a" stroke-width="0.35"/>
<circle cx="482.5" cy="190.82" r="1.3" fill="#d05964" stroke="#4a4a4a" stroke-width="0.35"/>
<circle cx="677.8" cy="41.7" r="3" fill="#e0555a" stroke="#4a4a4a" stroke-width="0.35"/>
<circle cx="662.4" cy="69.66" r="3.1" fill="#e0555a" stroke="#4a4a4a" stroke-width="0.35"/>
<circle cx="657.4" cy="78.98" r="2.7" fill="#e0555a" stroke="#4a4a4a" stroke-width="0.35"/>
<circle cx="655.8" cy="88.3" r="2.4" fill="#e0555a" stroke="#4a4a4a" stroke-width="0.35"/>
<circle cx="633.5" cy="97.62" r="2.4" fill="#c15e6f" stroke="#4a4a4a" stroke-width="0.35"/>
<circle cx="632.6" cy="106.94" r="2.6" fill="#e0555a" stroke="#4a4a4a" stroke-width="0.35"/>
<circle cx="621.3" cy="134.9" r="2.2" fill="#7b729e" stroke="#4a4a4a" stroke-width="0.35"/>
<defs><linearGradient id="cb" x1="0" x2="1" y1="0" y2="0"><stop offset="0" stop-color="#4682c3"/><stop offset="0.5" stop-color="#8e6a9e"/><stop offset="1" stop-color="#e05a5e"/></linearGradient></defs>
<rect x="505" y="7.9" width="57.3" height="10.8" fill="url(#cb)" stroke="none" stroke-width="0.5"/>
<line x1="513.8" y1="16.5" x2="513.8" y2="18.7" stroke="#fff" stroke-width="0.4"/>
<line x1="526" y1="16.5" x2="526" y2="18.7" stroke="#fff" stroke-width="0.4"/>
<line x1="537.4" y1="16.5" x2="537.4" y2="18.7" stroke="#fff" stroke-width="0.4"/>
<line x1="549.7" y1="16.5" x2="549.7" y2="18.7" stroke="#fff" stroke-width="0.4"/>
<text x="513.8" y="23.4" font-size="4.3" text-anchor="middle" fill="#1a1a1a" stroke="#1a1a1a" stroke-width="0.09">0.04</text>
<text x="526" y="23.4" font-size="4.3" text-anchor="middle" fill="#1a1a1a" stroke="#1a1a1a" stroke-width="0.09">0.03</text>
<text x="537.4" y="23.4" font-size="4.3" text-anchor="middle" fill="#1a1a1a" stroke="#1a1a1a" stroke-width="0.09">0.02</text>
<text x="549.7" y="23.4" font-size="4.3" text-anchor="middle" fill="#1a1a1a" stroke="#1a1a1a" stroke-width="0.09">0.01</text>
<text x="477.9" y="17.6" font-size="6.65" text-anchor="start" fill="#1a1a1a" stroke="#1a1a1a" stroke-width="0.2">p.adjust</text>
<text x="580.8" y="14.6" font-size="5.77" text-anchor="start" fill="#1a1a1a" stroke="#1a1a1a" stroke-width="0.17">Count</text>
<circle cx="601.5" cy="12.5" r="2.2" fill="none" stroke="#333" stroke-width="0.45"/>
<text x="610.1" y="13.9" font-size="3.6" text-anchor="middle" fill="#1a1a1a" stroke="#1a1a1a" stroke-width="0.07">20</text>
<circle cx="618.2" cy="12.5" r="3" fill="none" stroke="#333" stroke-width="0.45"/>
<text x="626.5" y="13.9" font-size="3.6" text-anchor="middle" fill="#1a1a1a" stroke="#1a1a1a" stroke-width="0.07">40</text>
<circle cx="635" cy="12.5" r="3.8" fill="none" stroke="#333" stroke-width="0.45"/>
<text x="643.4" y="13.9" font-size="3.6" text-anchor="middle" fill="#1a1a1a" stroke="#1a1a1a" stroke-width="0.07">60</text>
<circle cx="652" cy="12.5" r="4.3" fill="none" stroke="#333" stroke-width="0.45"/>
<text x="661" y="13.9" font-size="3.6" text-anchor="middle" fill="#1a1a1a" stroke="#1a1a1a" stroke-width="0.07">80</text>
<circle cx="670.4" cy="12.5" r="4.7" fill="none" stroke="#333" stroke-width="0.45"/>
<text x="680.8" y="13.9" font-size="3.6" text-anchor="middle" fill="#1a1a1a" stroke="#1a1a1a" stroke-width="0.07">100</text>
<text x="0.8" y="224.8" font-size="16.5" text-anchor="start" fill="#1a1a1a" stroke="#1a1a1a" stroke-width="0.2">c</text>
<line x1="37.7" y1="230" x2="37.7" y2="300" stroke="#f0f0f0" stroke-width="0.5"/>
<line x1="37.7" y1="328" x2="37.7" y2="377" stroke="#f0f0f0" stroke-width="0.5"/>
<line x1="56.1" y1="230" x2="56.1" y2="300" stroke="#f0f0f0" stroke-width="0.5"/>
<line x1="56.1" y1="328" x2="56.1" y2="377" stroke="#f0f0f0" stroke-width="0.5"/>
<line x1="74.5" y1="230" x2="74.5" y2="300" stroke="#f0f0f0" stroke-width="0.5"/>
<line x1="74.5" y1="328" x2="74.5" y2="377" stroke="#f0f0f0" stroke-width="0.5"/>
<line x1="92.9" y1="230" x2="92.9" y2="300" stroke="#f0f0f0" stroke-width="0.5"/>
<line x1="92.9" y1="328" x2="92.9" y2="377" stroke="#f0f0f0" stroke-width="0.5"/>
<line x1="111.3" y1="230" x2="111.3" y2="300" stroke="#f0f0f0" stroke-width="0.5"/>
<line x1="111.3" y1="328" x2="111.3" y2="377" stroke="#f0f0f0" stroke-width="0.5"/>
<line x1="129.7" y1="230" x2="129.7" y2="300" stroke="#f0f0f0" stroke-width="0.5"/>
<line x1="129.7" y1="328" x2="129.7" y2="377" stroke="#f0f0f0" stroke-width="0.5"/>
<line x1="148.1" y1="230" x2="148.1" y2="300" stroke="#f0f0f0" stroke-width="0.5"/>
<line x1="148.1" y1="328" x2="148.1" y2="377" stroke="#f0f0f0" stroke-width="0.5"/>
<line x1="166.5" y1="230" x2="166.5" y2="300" stroke="#f0f0f0" stroke-width="0.5"/>
<line x1="166.5" y1="328" x2="166.5" y2="377" stroke="#f0f0f0" stroke-width="0.5"/>
<line x1="184.9" y1="230" x2="184.9" y2="300" stroke="#f0f0f0" stroke-width="0.5"/>
<line x1="184.9" y1="328" x2="184.9" y2="377" stroke="#f0f0f0" stroke-width="0.5"/>
<line x1="203.3" y1="230" x2="203.3" y2="300" stroke="#f0f0f0" stroke-width="0.5"/>
<line x1="203.3" y1="328" x2="203.3" y2="377" stroke="#f0f0f0" stroke-width="0.5"/>
<line x1="221.7" y1="230" x2="221.7" y2="300" stroke="#f0f0f0" stroke-width="0.5"/>
<line x1="221.7" y1="328" x2="221.7" y2="377" stroke="#f0f0f0" stroke-width="0.5"/>
<text x="17.7" y="294.25" font-size="2.9" text-anchor="end" fill="#555" stroke="#555" stroke-width="0.06">0.0</text>
<line x1="18.1" y1="293.2" x2="19.3" y2="293.2" stroke="#555" stroke-width="0.35"/>
<text x="17.7" y="275.65" font-size="2.9" text-anchor="end" fill="#555" stroke="#555" stroke-width="0.06">0.2</text>
<line x1="18.1" y1="274.6" x2="19.3" y2="274.6" stroke="#555" stroke-width="0.35"/>
<text x="17.7" y="257.05" font-size="2.9" text-anchor="end" fill="#555" stroke="#555" stroke-width="0.06">0.4</text>
<line x1="18.1" y1="256" x2="19.3" y2="256" stroke="#555" stroke-width="0.35"/>
<text x="17.7" y="238.45" font-size="2.9" text-anchor="end" fill="#555" stroke="#555" stroke-width="0.06">0.6</text>
<line x1="18.1" y1="237.4" x2="19.3" y2="237.4" stroke="#555" stroke-width="0.35"/>
<line x1="19.3" y1="229.5" x2="19.3" y2="300.5" stroke="#333" stroke-width="0.6"/>
<polyline points="19.3,294.13 20.2,292.64 21.1,292.35 22,292.43 22.9,292.26 23.8,291.25 24.7,289.09 25.6,286.21 26.5,284.49 27.4,281.38 28.3,278.37 29.2,275.03 30.1,272.78 31,270.62 31.9,268.16 32.8,266.62 33.7,265.41 34.6,262.68 35.5,261.71 36.4,261.81 37.3,261.52 38.2,262.25 39.1,261.47 40,261.3 40.9,261.81 41.8,262.32 42.7,263.06 43.6,260.75 44.5,258.09 45.4,255.25 46.3,252.78 47.2,251.18 48.1,248.28 49,246.87 49.9,243.74 50.8,242.51 51.7,241.71 52.6,239.06 53.5,238.07 54.4,237.09 55.3,236.98 56.2,237.64 57.1,236.56 58,235.73 58.9,236.63 59.8,236.48 60.7,235.64 61.6,236.62 62.5,236.03 63.4,236.5 64.3,235.38 65.2,235.87 66.1,236.05 67,236.32 67.9,236.33 68.8,236.37 69.7,236.26 70.6,236.9 71.5,236.79 72.4,236.85 73.3,237.09 74.2,237.08 75.1,237.42 76,237.6 76.9,238.25 77.8,238.69 78.7,239.2 79.6,239.54 80.5,240.1 81.4,240.42 82.3,241.02 83.2,241.51 84.1,241.94 85,242.12 85.9,242.52 86.8,243.06 87.7,243.72 88.6,243.75 89.5,244.11 90.4,244.51 91.3,244.99 92.2,245.39 93.1,245.81 94,246.46 94.9,246.98 95.8,247.23 96.7,247.91 97.6,248.02 98.5,248.43 99.4,248.84 100.3,249.45 101.2,249.66 102.1,250.31 103,250.82 103.9,251.13 104.8,251.36 105.7,251.84 106.6,252.34 107.5,253.19 108.4,253.31 109.3,253.81 110.2,254.16 111.1,254.47 112,255.26 112.9,255.4 113.8,256.21 114.7,256.58 115.6,256.67 116.5,257.38 117.4,257.53 118.3,258.39 119.2,258.8 120.1,258.91 121,259.73 121.9,259.85 122.8,260.09 123.7,260.74 124.6,261.09 125.5,261.92 126.4,261.99 127.3,262.44 128.2,262.9 129.1,263.44 130,263.89 130.9,263.96 131.8,264.96 132.7,265.4 133.6,265.28 134.5,266.18 135.4,266.65 136.3,267.03 137.2,267.11 138.1,267.47 139,268.45 139.9,268.64 140.8,269.27 141.7,269.61 142.6,270.07 143.5,270.25 144.4,270.86 145.3,271.4 146.2,271.64 147.1,272.36 148,272.75 148.9,272.66 149.8,273.57 150.7,273.91 151.6,274.12 152.5,274.49 153.4,274.88 154.3,275.76 155.2,275.9 156.1,276.16 157,277.13 157.9,277.2 158.8,277.53 159.7,278.27 160.6,278.67 161.5,278.77 162.4,279.17 163.3,279.64 164.2,279.77 165.1,280.11 166,280.32 166.9,280.67 167.8,281.09 168.7,281.37 169.6,281.39 170.5,282.05 171.4,282.17 172.3,282.8 173.2,282.68 174.1,283.23 175,283.71 175.9,283.87 176.8,284.2 177.7,284.09 178.6,284.75 179.5,285.1 180.4,285.36 181.3,285.32 182.2,285.81 183.1,286.13 184,286.38 184.9,286.88 185.8,287.17 186.7,287.33 187.6,288.47 188.5,288.5 189.4,288.59 190.3,289.03 191.2,288.71 192.1,289.38 193,288.91 193.9,289.65 194.8,290.15 195.7,290.44 196.6,290.28 197.5,290.97 198.4,290.89 199.3,292.08 200.2,291.74 201.1,292.22 202,292.57 202.9,292.23 203.8,292.49 204.7,292.58 205.6,292.13 206.5,291.61 207.4,291.85 208.3,291.79 209.2,291.22 210.1,290.45 211,290.63 211.9,291 212.8,292.21 213.7,291.28 214.6,292.1 215.5,293.2 216.4,292.43 217.3,292.11 218.2,293.05 219.1,292.71 220,293.32 220.9,293.54 221.8,292.86" fill="none" stroke="#f8766d" stroke-width="0.85"/>
<polyline points="19.3,293.2 20.2,293.31 21.1,291.82 22,291.52 22.9,291.67 23.8,289.35 24.7,287.46 25.6,285.2 26.5,282.84 27.4,281.02 28.3,278.26 29.2,274.21 30.1,271.95 31,269.04 31.9,268.61 32.8,266.4 33.7,264.43 34.6,263.61 35.5,261.76 36.4,261.68 37.3,262.82 38.2,262.68 39.1,261.76 40,261.5 40.9,262.91 41.8,263.73 42.7,261.51 43.6,259.46 44.5,256.55 45.4,253.59 46.3,251 47.2,248.91 48.1,246.42 49,243.95 49.9,242.11 50.8,241 51.7,240.03 52.6,237.46 53.5,237.01 54.4,236.02 55.3,235.84 56.2,233.87 57.1,233.99 58,235.01 58.9,234.61 59.8,233.95 60.7,233.89 61.6,233.47 62.5,234.16 63.4,233.47 64.3,233.63 65.2,233.92 66.1,233.67 67,233.52 67.9,233.69 68.8,234.04 69.7,234.14 70.6,234.62 71.5,234.65 72.4,234.47 73.3,234.84 74.2,235.14 75.1,235.09 76,235.42 76.9,235.86 77.8,236.47 78.7,236.85 79.6,237.23 80.5,237.5 81.4,238.07 82.3,238.57 83.2,238.94 84.1,239.63 85,240.05 85.9,240.08 86.8,240.34 87.7,240.99 88.6,241.53 89.5,242.09 90.4,242.32 91.3,242.45 92.2,243 93.1,243.56 94,243.8 94.9,244.59 95.8,244.85 96.7,245.01 97.6,245.66 98.5,246.15 99.4,246.69 100.3,246.95 101.2,247.13 102.1,248.11 103,248.07 103.9,248.48 104.8,248.86 105.7,249.37 106.6,249.75 107.5,250.35 108.4,250.75 109.3,251.25 110.2,251.89 111.1,251.79 112,252.36 112.9,252.98 113.8,253.19 114.7,253.59 115.6,254.06 116.5,254.46 117.4,254.73 118.3,255.07 119.2,255.47 120.1,255.96 121,256.6 121.9,256.88 122.8,257.3 123.7,257.45 124.6,257.68 125.5,258.1 126.4,258.5 127.3,258.88 128.2,259.6 129.1,259.65 130,260.14 130.9,260.88 131.8,261.31 132.7,261.7 133.6,261.66 134.5,262.35 135.4,262.82 136.3,262.91 137.2,263.47 138.1,264.02 139,264.36 139.9,264.53 140.8,265.14 141.7,265.47 142.6,265.6 143.5,266.14 144.4,266.61 145.3,266.92 146.2,267.58 147.1,267.75 148,268.12 148.9,268.65 149.8,269.09 150.7,269.01 151.6,269.64 152.5,270.21 153.4,270.36 154.3,270.63 155.2,271.49 156.1,271.89 157,272.2 157.9,272.25 158.8,272.98 159.7,273.05 160.6,273.45 161.5,273.91 162.4,274.48 163.3,274.42 164.2,274.9 165.1,275.45 166,276.01 166.9,276.14 167.8,276.67 168.7,276.95 169.6,277.48 170.5,277.68 171.4,278.4 172.3,278.64 173.2,278.63 174.1,279.06 175,279.78 175.9,279.84 176.8,280.55 177.7,280.55 178.6,281.05 179.5,281.63 180.4,282.11 181.3,282.64 182.2,282.5 183.1,283.38 184,283.3 184.9,283.6 185.8,284.21 186.7,284.83 187.6,284.47 188.5,284.7 189.4,285.48 190.3,286.1 191.2,286.52 192.1,286.79 193,287.23 193.9,286.76 194.8,287.34 195.7,287.93 196.6,288.28 197.5,287.68 198.4,288.45 199.3,288.37 200.2,288.84 201.1,288.19 202,288.3 202.9,289.77 203.8,289.66 204.7,289.63 205.6,288.8 206.5,289.26 207.4,290.08 208.3,290.44 209.2,289.96 210.1,289.93 211,290 211.9,291.08 212.8,290.49 213.7,290.99 214.6,291.5 215.5,290.97 216.4,292.29 217.3,291.77 218.2,292.93 219.1,293.02 220,292.12 220.9,293.37 221.8,292.77" fill="none" stroke="#b79f00" stroke-width="0.85"/>
<polyline points="19.3,287.06 20.2,280.33 21.1,274.29 22,269.98 22.9,267.6 23.8,264.14 24.7,261.95 25.6,259.71 26.5,258.11 27.4,256.24 28.3,254.81 29.2,253.42 30.1,252.62 31,250.88 31.9,249.77 32.8,248.11 33.7,246.54 34.6,245.44 35.5,244.88 36.4,243.86 37.3,243.85 38.2,244.65 39.1,245.11 40,244.91 40.9,245.58 41.8,245.94 42.7,245.09 43.6,245.39 44.5,245.1 45.4,245.34 46.3,245.41 47.2,244.72 48.1,244.76 49,243.48 49.9,241.97 50.8,241.67 51.7,241.62 52.6,239.78 53.5,239.14 54.4,238.55 55.3,238.38 56.2,238.69 57.1,238.74 58,239.48 58.9,238.89 59.8,239.27 60.7,240.81 61.6,240.28 62.5,240.69 63.4,241.41 64.3,241.66 65.2,242.06 66.1,242.15 67,242.75 67.9,242.9 68.8,243.54 69.7,243.57 70.6,243.91 71.5,244.52 72.4,244.81 73.3,244.95 74.2,245.41 75.1,245.9 76,246.41 76.9,246.7 77.8,246.83 78.7,247.49 79.6,247.4 80.5,248.13 81.4,248.1 82.3,248.8 83.2,248.77 84.1,249.27 85,249.74 85.9,250.08 86.8,250.35 87.7,250.73 88.6,251.25 89.5,251.66 90.4,251.83 91.3,251.93 92.2,252.46 93.1,253.13 94,253.04 94.9,253.45 95.8,253.69 96.7,254.46 97.6,254.48 98.5,255.24 99.4,255.24 100.3,255.81 101.2,256.19 102.1,256.15 103,256.96 103.9,257.06 104.8,257.21 105.7,257.92 106.6,258.29 107.5,258.24 108.4,258.87 109.3,259.04 110.2,259.82 111.1,260.05 112,260.6 112.9,260.74 113.8,261.52 114.7,261.43 115.6,262.42 116.5,262.44 117.4,263.29 118.3,263.58 119.2,263.69 120.1,264.51 121,264.93 121.9,265.06 122.8,265.68 123.7,266.31 124.6,266.18 125.5,267.12 126.4,267.62 127.3,267.87 128.2,268.14 129.1,268.5 130,269.31 130.9,269.61 131.8,270.22 132.7,270.41 133.6,270.65 134.5,271.1 135.4,271.44 136.3,271.96 137.2,272.33 138.1,272.86 139,273.43 139.9,274.01 140.8,274.18 141.7,274.82 142.6,275.38 143.5,275.61 144.4,275.79 145.3,276.67 146.2,276.83 147.1,277.38 148,277.74 148.9,278.39 149.8,278.34 150.7,279.19 151.6,279.42 152.5,279.96 153.4,280.64 154.3,280.75 155.2,281.43 156.1,281.91 157,282.36 157.9,282.72 158.8,283.19 159.7,283.3 160.6,283.71 161.5,283.7 162.4,284.01 163.3,284.25 164.2,284.98 165.1,285.13 166,285.52 166.9,285.59 167.8,285.85 168.7,286.02 169.6,286.35 170.5,286.9 171.4,287.07 172.3,287.29 173.2,287.87 174.1,288.13 175,288.19 175.9,288.64 176.8,288.55 177.7,289.11 178.6,289.47 179.5,289.7 180.4,289.95 181.3,290.23 182.2,290.33 183.1,290.64 184,291.01 184.9,291.09 185.8,291.62 186.7,291.48 187.6,291.31 188.5,291.93 189.4,292.65 190.3,292.72 191.2,292.61 192.1,293.4 193,292.86 193.9,292.7 194.8,293.21 195.7,293.34 196.6,292.28 197.5,292.93 198.4,292.71 199.3,292.11 200.2,292.52 201.1,292.79 202,291.55 202.9,292.25 203.8,292.57 204.7,291.37 205.6,292.03 206.5,291.82 207.4,291.38 208.3,291.97 209.2,293.3 210.1,293 211,293.41 211.9,293.65 212.8,294.06 213.7,293.45 214.6,294.18 215.5,293.82 216.4,293.65 217.3,292.77 218.2,294.01 219.1,292.96 220,293.75 220.9,293.14 221.8,293.37" fill="none" stroke="#00ba38" stroke-width="0.85"/>
<polyline points="19.3,285.3 20.2,280.24 21.1,274.35 22,269.33 22.9,265.05 23.8,261.08 24.7,257.97 25.6,254.11 26.5,249.3 27.4,247.83 28.3,245.52 29.2,242.05 30.1,240.49 31,238.15 31.9,237.98 32.8,237.02 33.7,237.04 34.6,235.61 35.5,234.55 36.4,234.36 37.3,233.32 38.2,233.78 39.1,235.04 40,234.36 40.9,234.97 41.8,235.76 42.7,236.39 43.6,235.34 44.5,236.11 45.4,235.94 46.3,235.59 47.2,235.68 48.1,235.23 49,235.86 49.9,235.11 50.8,235.62 51.7,234.89 52.6,234.98 53.5,236.33 54.4,236.46 55.3,236.54 56.2,235.63 57.1,236.76 58,236.82 58.9,237.65 59.8,237.69 60.7,238.22 61.6,238.61 62.5,238.61 63.4,238.95 64.3,238.82 65.2,239.66 66.1,239.86 67,240.25 67.9,240.51 68.8,241.05 69.7,241.69 70.6,241.62 71.5,241.91 72.4,242.29 73.3,242.83 74.2,243.09 75.1,243.73 76,243.71 76.9,244.21 77.8,244.72 78.7,245.2 79.6,245.07 80.5,245.34 81.4,246.22 82.3,246.14 83.2,246.72 84.1,247.22 85,247.48 85.9,247.54 86.8,247.82 87.7,248.66 88.6,248.66 89.5,249.35 90.4,249.29 91.3,249.87 92.2,249.89 93.1,250.17 94,250.8 94.9,250.85 95.8,251.6 96.7,252.09 97.6,252.12 98.5,252.8 99.4,253.05 100.3,253.27 101.2,253.49 102.1,254.11 103,254.52 103.9,254.37 104.8,255.05 105.7,255.01 106.6,255.39 107.5,256.05 108.4,256.34 109.3,256.65 110.2,256.93 111.1,257.37 112,257.79 112.9,258.16 113.8,258.38 114.7,259.04 115.6,259.49 116.5,259.72 117.4,260.42 118.3,260.78 119.2,260.79 120.1,261.46 121,261.85 121.9,262.58 122.8,262.74 123.7,263.05 124.6,263.79 125.5,263.84 126.4,264.23 127.3,264.98 128.2,265.05 129.1,265.55 130,265.83 130.9,266.43 131.8,266.62 132.7,267.01 133.6,267.84 134.5,268.22 135.4,268.26 136.3,268.49 137.2,269.32 138.1,269.6 139,269.93 139.9,270.5 140.8,270.87 141.7,271.31 142.6,271.68 143.5,271.95 144.4,272.53 145.3,272.89 146.2,273.06 147.1,273.91 148,273.99 148.9,274.3 149.8,274.96 150.7,275.42 151.6,275.47 152.5,276.22 153.4,276.65 154.3,276.91 155.2,277.16 156.1,277.92 157,278.19 157.9,278.59 158.8,278.7 159.7,279.34 160.6,279.44 161.5,280.18 162.4,280.41 163.3,280.55 164.2,280.74 165.1,281.33 166,281.79 166.9,282.19 167.8,282.27 168.7,282.8 169.6,282.77 170.5,283.08 171.4,283.79 172.3,284.07 173.2,284.08 174.1,284.51 175,284.74 175.9,285.34 176.8,285.8 177.7,286.03 178.6,286.06 179.5,286.71 180.4,286.99 181.3,287.28 182.2,287.6 183.1,287.94 184,287.96 184.9,288.75 185.8,289.17 186.7,288.94 187.6,288.97 188.5,289.14 189.4,290.29 190.3,289.81 191.2,290.05 192.1,291.31 193,290.74 193.9,290.82 194.8,291.28 195.7,291.71 196.6,292.26 197.5,292.39 198.4,292.77 199.3,293.21 200.2,292.57 201.1,292.86 202,291.92 202.9,292.91 203.8,291.47 204.7,291.63 205.6,291.13 206.5,291.01 207.4,290.85 208.3,291.32 209.2,292.44 210.1,291.63 211,292.76 211.9,292.85 212.8,292.59 213.7,293.07 214.6,293.33 215.5,292.55 216.4,293.03 217.3,293.44 218.2,293.57 219.1,292.66 220,293.23 220.9,292.78 221.8,293.42" fill="none" stroke="#00bfc4" stroke-width="0.85"/>
<polyline points="19.3,290.41 20.2,287.45 21.1,284.3 22,280.52 22.9,277.64 23.8,275.38 24.7,272.49 25.6,269.33 26.5,267.23 27.4,265.44 28.3,264.4 29.2,262.09 30.1,260.63 31,259.31 31.9,258.67 32.8,257.77 33.7,255.97 34.6,255.37 35.5,255.17 36.4,255.35 37.3,256.43 38.2,256.43 39.1,256.13 40,255.51 40.9,254.56 41.8,253.76 42.7,254.17 43.6,252.63 44.5,251.76 45.4,251.24 46.3,251.26 47.2,250.38 48.1,250.51 49,248.82 49.9,248.49 50.8,248.52 51.7,248.46 52.6,247.11 53.5,247.6 54.4,247.12 55.3,247.15 56.2,247.63 57.1,247.8 58,247.85 58.9,248.44 59.8,249.18 60.7,249.3 61.6,248.88 62.5,250.36 63.4,250.69 64.3,250.16 65.2,250.81 66.1,250.99 67,251.37 67.9,251.78 68.8,251.72 69.7,252.54 70.6,252.74 71.5,253.2 72.4,253.28 73.3,253.83 74.2,254.11 75.1,254.22 76,254.8 76.9,255 77.8,255.13 78.7,255.94 79.6,256.3 80.5,256.53 81.4,256.55 82.3,256.97 83.2,257.53 84.1,257.81 85,258.24 85.9,258.41 86.8,258.99 87.7,258.93 88.6,259.15 89.5,259.45 90.4,259.92 91.3,260.12 92.2,261.01 93.1,261.18 94,261.12 94.9,261.56 95.8,262.12 96.7,262.13 97.6,262.66 98.5,262.88 99.4,263.53 100.3,263.92 101.2,264.11 102.1,264.62 103,264.81 103.9,264.8 104.8,265.51 105.7,266.04 106.6,266.35 107.5,266.61 108.4,266.58 109.3,267.17 110.2,267.56 111.1,268.06 112,267.93 112.9,268.65 113.8,269.17 114.7,269.65 115.6,270.05 116.5,270.37 117.4,270.46 118.3,271.17 119.2,271.62 120.1,271.75 121,272.28 121.9,272.23 122.8,273.14 123.7,273.29 124.6,273.54 125.5,274.15 126.4,274.19 127.3,274.89 128.2,275.42 129.1,275.71 130,276.33 130.9,276.49 131.8,276.98 132.7,276.99 133.6,277.42 134.5,278.01 135.4,278.68 136.3,278.94 137.2,279.34 138.1,279.75 139,280.13 139.9,280.14 140.8,280.96 141.7,281.41 142.6,281.28 143.5,281.89 144.4,282.03 145.3,282.77 146.2,282.86 147.1,283.4 148,283.71 148.9,284.13 149.8,284.67 150.7,285.3 151.6,285.62 152.5,285.62 153.4,286 154.3,286.37 155.2,287.12 156.1,287.32 157,287.62 157.9,288.11 158.8,288.4 159.7,288.96 160.6,289.22 161.5,289.51 162.4,290.07 163.3,289.99 164.2,290.28 165.1,291.12 166,290.89 166.9,291.21 167.8,291.69 168.7,292.37 169.6,292.17 170.5,292.94 171.4,292.75 172.3,293.24 173.2,293.91 174.1,294.16 175,294.19 175.9,294.54 176.8,294.74 177.7,294.94 178.6,295.68 179.5,296.11 180.4,295.81 181.3,296.52 182.2,296.18 183.1,296.8 184,296.55 184.9,296.73 185.8,296.84 186.7,297.21 187.6,296.84 188.5,298.01 189.4,297.48 190.3,298.14 191.2,297.41 192.1,297.69 193,298.24 193.9,298.26 194.8,299.11 195.7,299.21 196.6,298.48 197.5,298.74 198.4,298.16 199.3,298.36 200.2,298.88 201.1,298.37 202,297.58 202.9,297.77 203.8,298.35 204.7,296.94 205.6,296.74 206.5,297.6 207.4,296.68 208.3,296.68 209.2,295.84 210.1,296.31 211,296.19 211.9,295.57 212.8,294.65 213.7,295.73 214.6,295.49 215.5,294.53 216.4,293.93 217.3,294.27 218.2,294.18 219.1,293.34 220,293.25 220.9,294.1 221.8,292.68" fill="none" stroke="#619cff" stroke-width="0.85"/>
<polyline points="19.3,288.55 20.2,284.78 21.1,281.02 22,277.35 22.9,273.68 23.8,271.59 24.7,268.92 25.6,267.86 26.5,264.91 27.4,262.2 28.3,260.64 29.2,258.27 30.1,257.44 31,255.22 31.9,254.46 32.8,252.93 33.7,251.79 34.6,251.54 35.5,251.04 36.4,251.48 37.3,251.07 38.2,251.83 39.1,253.26 40,251.98 40.9,252.19 41.8,250.71 42.7,250.67 43.6,250.09 44.5,248.02 45.4,248.24 46.3,247.94 47.2,246.56 48.1,246.49 49,247.12 49.9,245.88 50.8,246.28 51.7,245.83 52.6,246.3 53.5,245.21 54.4,245.58 55.3,245.17 56.2,245.28 57.1,246.16 58,246.07 58.9,246.36 59.8,246.47 60.7,246.92 61.6,246.91 62.5,246.8 63.4,248.03 64.3,247.36 65.2,248.06 66.1,248.41 67,248.45 67.9,248.98 68.8,249.42 69.7,249.66 70.6,249.86 71.5,250.58 72.4,250.37 73.3,251.28 74.2,251.18 75.1,251.46 76,252.29 76.9,252.17 77.8,252.76 78.7,252.97 79.6,253.65 80.5,253.96 81.4,254.22 82.3,254.1 83.2,254.88 84.1,254.89 85,255.12 85.9,255.45 86.8,256.14 87.7,256.48 88.6,256.71 89.5,256.9 90.4,257.63 91.3,257.59 92.2,257.9 93.1,258.2 94,259.02 94.9,258.82 95.8,259.67 96.7,259.85 97.6,260.03 98.5,260.19 99.4,260.87 100.3,260.86 101.2,261.42 102.1,261.89 103,262.23 103.9,262.65 104.8,263.05 105.7,263.34 106.6,263.36 107.5,263.51 108.4,264.34 109.3,264.75 110.2,264.53 111.1,265.17 112,265.61 112.9,266.07 113.8,266.23 114.7,266.45 115.6,267.04 116.5,267.42 117.4,268.01 118.3,267.86 119.2,268.75 120.1,268.84 121,269 121.9,269.79 122.8,269.79 123.7,270.03 124.6,270.58 125.5,270.86 126.4,271.63 127.3,271.8 128.2,272.33 129.1,272.28 130,272.97 130.9,273.24 131.8,273.28 132.7,273.74 133.6,274.03 134.5,274.7 135.4,275.05 136.3,275.27 137.2,275.78 138.1,276.26 139,276.56 139.9,277.08 140.8,277.3 141.7,277.31 142.6,277.69 143.5,278.25 144.4,278.69 145.3,279.15 146.2,279.66 147.1,279.92 148,279.98 148.9,280.3 149.8,280.96 150.7,281.07 151.6,281.45 152.5,281.86 153.4,282.24 154.3,282.55 155.2,283.15 156.1,283.31 157,283.93 157.9,284.17 158.8,284.37 159.7,284.78 160.6,285.33 161.5,285.23 162.4,285.7 163.3,286.03 164.2,286.66 165.1,286.63 166,287.1 166.9,287.14 167.8,287.55 168.7,287.63 169.6,288.02 170.5,288.22 171.4,288.78 172.3,288.9 173.2,289.13 174.1,289.37 175,289.94 175.9,289.94 176.8,290.21 177.7,290.61 178.6,290.73 179.5,291.03 180.4,291.58 181.3,291.87 182.2,292.37 183.1,292.26 184,292.49 184.9,293.06 185.8,293.22 186.7,293.49 187.6,293.57 188.5,294.69 189.4,294.08 190.3,294.54 191.2,294.33 192.1,294.61 193,294.22 193.9,293.92 194.8,294.04 195.7,293.83 196.6,294.76 197.5,294.46 198.4,293.94 199.3,293.52 200.2,294.02 201.1,293.05 202,292.85 202.9,293.45 203.8,292.53 204.7,292.62 205.6,292.59 206.5,292.41 207.4,292.24 208.3,292.55 209.2,292.63 210.1,292.97 211,292.44 211.9,292.67 212.8,292.43 213.7,292.57 214.6,293.16 215.5,292.22 216.4,293.62 217.3,293.07 218.2,293.31 219.1,293.17 220,293.66 220.9,292.64 221.8,293.38" fill="none" stroke="#f564e3" stroke-width="0.85"/>
<line x1="130.7" y1="234.4" x2="136.3" y2="234.4" stroke="#f8766d" stroke-width="0.9"/>
<text x="139.3" y="236.3" font-size="5.3" font-weight="bold" text-anchor="start" fill="#1a1a1a" stroke="#1a1a1a" stroke-width="0.06">E2F_TARGETS</text>
<line x1="130.7" y1="242.5" x2="136.3" y2="242.5" stroke="#b79f00" stroke-width="0.9"/>
<text x="139.3" y="244.4" font-size="5.3" font-weight="bold" text-anchor="start" fill="#1a1a1a" stroke="#1a1a1a" stroke-width="0.06">G2M_CHECKPOINT</text>
<line x1="130.7" y1="250.8" x2="136.3" y2="250.8" stroke="#00ba38" stroke-width="0.9"/>
<text x="139.3" y="252.7" font-size="5.3" font-weight="bold" text-anchor="start" fill="#1a1a1a" stroke="#1a1a1a" stroke-width="0.06">IL6_JAK_STAT3_SIGNALING</text>
<line x1="130.7" y1="259" x2="136.3" y2="259" stroke="#00bfc4" stroke-width="0.9"/>
<text x="139.3" y="260.9" font-size="5.3" font-weight="bold" text-anchor="start" fill="#1a1a1a" stroke="#1a1a1a" stroke-width="0.06">INFLAMMATORY_RESPONSE</text>
<line x1="130.7" y1="267.3" x2="136.3" y2="267.3" stroke="#619cff" stroke-width="0.9"/>
<text x="139.3" y="269.2" font-size="5.3" font-weight="bold" text-anchor="start" fill="#1a1a1a" stroke="#1a1a1a" stroke-width="0.06">MTORC1_SIGNALING</text>
<line x1="130.7" y1="275.6" x2="136.3" y2="275.6" stroke="#f564e3" stroke-width="0.9"/>
<text x="139.3" y="277.5" font-size="5.3" font-weight="bold" text-anchor="start" fill="#1a1a1a" stroke="#1a1a1a" stroke-width="0.06">PI3K_AKT_MTOR_SIGNALING</text>
<path d="M22.4 304h0.6v3.78h-0.6zM28.55 304h0.8v3.78h-0.8zM32.18 304h1.3v3.78h-1.3zM35.7 304h1v3.78h-1zM42.53 304h0.8v3.78h-0.8zM44.75 304h0.6v3.78h-0.6zM59.27 304h0.5v3.78h-0.5zM74.96 304h0.5v3.78h-0.5zM77.49 304h0.6v3.78h-0.6zM83.8 304h0.5v3.78h-0.5zM96.88 304h0.5v3.78h-0.5zM100.41 304h0.5v3.78h-0.5zM105.4 304h1v3.78h-1zM147.93 304h0.8v3.78h-0.8zM149.43 304h0.8v3.78h-0.8zM159.35 304h1v3.78h-1zM166.8 304h0.5v3.78h-0.5zM192.81 304h0.8v3.78h-0.8zM197.71 304h1v3.78h-1zM210.4 304h1v3.78h-1zM213.09 304h0.5v3.78h-0.5z" fill="#f564e3" fill-opacity="0.75"/>
<path d="M22.53 304h1v3.78h-1zM36.41 304h1.3v3.78h-1.3zM41.51 304h0.5v3.78h-0.5zM43.26 304h1.3v3.78h-1.3zM52.45 304h1.3v3.78h-1.3zM52.89 304h1v3.78h-1zM53.36 304h1.3v3.78h-1.3zM58.13 304h0.8v3.78h-0.8zM58.18 304h1.3v3.78h-1.3zM60.64 304h0.6v3.78h-0.6zM64.1 304h1.3v3.78h-1.3zM66.59 304h1.3v3.78h-1.3zM71.05 304h0.6v3.78h-0.6zM76.75 304h0.5v3.78h-0.5zM109.44 304h1.3v3.78h-1.3zM111.49 304h0.5v3.78h-0.5zM119.79 304h0.6v3.78h-0.6zM122.45 304h1v3.78h-1zM146.19 304h0.6v3.78h-0.6zM152.33 304h0.5v3.78h-0.5zM184.14 304h1v3.78h-1zM199.72 304h0.6v3.78h-0.6z" fill="#f564e3" fill-opacity="0.42"/>
<path d="M27.71 304h0.8v3.78h-0.8zM30.09 304h0.5v3.78h-0.5zM43 304h1.3v3.78h-1.3zM45.87 304h1v3.78h-1zM57.97 304h1.3v3.78h-1.3zM64.49 304h1.3v3.78h-1.3zM65.16 304h1v3.78h-1zM73.67 304h1.3v3.78h-1.3zM73.86 304h0.5v3.78h-0.5zM73.86 304h0.8v3.78h-0.8zM74.05 304h0.8v3.78h-0.8zM86.09 304h1v3.78h-1zM88.33 304h1v3.78h-1zM98.72 304h1.3v3.78h-1.3zM104.84 304h0.8v3.78h-0.8zM110.82 304h0.6v3.78h-0.6zM112.11 304h0.6v3.78h-0.6zM113.8 304h0.5v3.78h-0.5zM116.91 304h1v3.78h-1zM122.63 304h0.8v3.78h-0.8zM147.17 304h1v3.78h-1zM147.7 304h1.3v3.78h-1.3zM152.21 304h0.8v3.78h-0.8zM176.56 304h0.8v3.78h-0.8zM199.23 304h1.3v3.78h-1.3z" fill="#f564e3" fill-opacity="0.58"/>
<path d="M27.97 304h1.3v3.78h-1.3zM30.35 304h1v3.78h-1zM35.4 304h0.5v3.78h-0.5zM46.73 304h0.5v3.78h-0.5zM52.08 304h1v3.78h-1zM52.12 304h1.3v3.78h-1.3zM54.53 304h1v3.78h-1zM64.17 304h0.6v3.78h-0.6zM71.16 304h0.5v3.78h-0.5zM71.91 304h0.5v3.78h-0.5zM79.71 304h0.5v3.78h-0.5zM96.48 304h1v3.78h-1zM99.53 304h0.6v3.78h-0.6zM100.34 304h0.8v3.78h-0.8zM109.21 304h1.3v3.78h-1.3zM110 304h1v3.78h-1zM110.65 304h0.8v3.78h-0.8zM110.81 304h1.3v3.78h-1.3zM117.28 304h0.8v3.78h-0.8zM118.27 304h0.5v3.78h-0.5zM118.73 304h0.6v3.78h-0.6zM119.88 304h1.3v3.78h-1.3zM121.31 304h1v3.78h-1zM121.62 304h0.8v3.78h-0.8zM148.39 304h0.5v3.78h-0.5zM155.3 304h0.8v3.78h-0.8zM157.45 304h0.8v3.78h-0.8zM161.43 304h0.6v3.78h-0.6zM162.22 304h1.3v3.78h-1.3zM197.23 304h0.6v3.78h-0.6z" fill="#f564e3" fill-opacity="0.29"/>
<path d="M20.56 308.08h1.3v3.78h-1.3zM20.92 308.08h0.6v3.78h-0.6zM27.23 308.08h1v3.78h-1zM35.73 308.08h0.6v3.78h-0.6zM48.81 308.08h0.5v3.78h-0.5zM50.23 308.08h0.6v3.78h-0.6zM59.21 308.08h0.8v3.78h-0.8zM62.96 308.08h1v3.78h-1zM83.31 308.08h0.8v3.78h-0.8zM88.24 308.08h0.5v3.78h-0.5zM100.29 308.08h1v3.78h-1zM100.9 308.08h0.6v3.78h-0.6zM106.12 308.08h0.6v3.78h-0.6zM106.14 308.08h0.8v3.78h-0.8zM112.23 308.08h1.3v3.78h-1.3zM148.51 308.08h0.5v3.78h-0.5zM159.54 308.08h0.6v3.78h-0.6zM166.1 308.08h0.8v3.78h-0.8zM179.58 308.08h0.8v3.78h-0.8zM185.41 308.08h1.3v3.78h-1.3zM188.88 308.08h1.3v3.78h-1.3zM189.04 308.08h0.8v3.78h-0.8zM217.48 308.08h1v3.78h-1z" fill="#00ba38" fill-opacity="0.75"/>
<path d="M23.57 308.08h0.6v3.78h-0.6zM26.68 308.08h0.8v3.78h-0.8zM35.09 308.08h0.6v3.78h-0.6zM35.81 308.08h1v3.78h-1zM37.49 308.08h0.5v3.78h-0.5zM43.25 308.08h0.5v3.78h-0.5zM60.71 308.08h0.6v3.78h-0.6zM63.56 308.08h1.3v3.78h-1.3zM80.49 308.08h0.6v3.78h-0.6zM87.87 308.08h0.5v3.78h-0.5zM98.13 308.08h0.6v3.78h-0.6zM101.61 308.08h0.8v3.78h-0.8zM103.11 308.08h0.5v3.78h-0.5zM107.07 308.08h0.5v3.78h-0.5zM107.27 308.08h1v3.78h-1zM110.03 308.08h0.6v3.78h-0.6zM112.94 308.08h1v3.78h-1zM149.91 308.08h0.6v3.78h-0.6zM151.85 308.08h1v3.78h-1zM154.68 308.08h0.6v3.78h-0.6zM157.85 308.08h1v3.78h-1zM158.09 308.08h0.5v3.78h-0.5zM176.85 308.08h0.8v3.78h-0.8zM182.44 308.08h0.8v3.78h-0.8zM182.68 308.08h0.5v3.78h-0.5zM185.86 308.08h0.5v3.78h-0.5zM194.22 308.08h0.8v3.78h-0.8zM198.96 308.08h1.3v3.78h-1.3z" fill="#00ba38" fill-opacity="0.42"/>
<path d="M24.98 308.08h1v3.78h-1zM28.09 308.08h1.3v3.78h-1.3zM51.78 308.08h0.6v3.78h-0.6zM53.36 308.08h0.5v3.78h-0.5zM57.09 308.08h0.6v3.78h-0.6zM66.67 308.08h1v3.78h-1zM78.01 308.08h1.3v3.78h-1.3zM85.4 308.08h0.6v3.78h-0.6zM97.9 308.08h0.5v3.78h-0.5zM101.61 308.08h0.5v3.78h-0.5zM103.64 308.08h1.3v3.78h-1.3zM108.55 308.08h0.6v3.78h-0.6zM110.71 308.08h0.8v3.78h-0.8zM114.21 308.08h0.8v3.78h-0.8zM153.47 308.08h1v3.78h-1zM163.76 308.08h0.6v3.78h-0.6zM167.2 308.08h1v3.78h-1zM197.04 308.08h0.6v3.78h-0.6z" fill="#00ba38" fill-opacity="0.29"/>
<path d="M27.28 308.08h1v3.78h-1zM30.05 308.08h0.5v3.78h-0.5zM41.71 308.08h0.5v3.78h-0.5zM44.11 308.08h1.3v3.78h-1.3zM44.86 308.08h1v3.78h-1zM46.81 308.08h0.5v3.78h-0.5zM52.73 308.08h0.5v3.78h-0.5zM75.65 308.08h1.3v3.78h-1.3zM77.32 308.08h1.3v3.78h-1.3zM81.68 308.08h1v3.78h-1zM85.37 308.08h0.5v3.78h-0.5zM97.5 308.08h1.3v3.78h-1.3zM110.53 308.08h0.6v3.78h-0.6zM112.26 308.08h0.5v3.78h-0.5zM150.68 308.08h1v3.78h-1zM168.94 308.08h0.6v3.78h-0.6zM182.7 308.08h0.8v3.78h-0.8zM197.02 308.08h1v3.78h-1z" fill="#00ba38" fill-opacity="0.58"/>
<path d="M20.02 312.16h1v3.78h-1zM22.2 312.16h0.8v3.78h-0.8zM27.17 312.16h1v3.78h-1zM32.12 312.16h0.8v3.78h-0.8zM50.01 312.16h0.6v3.78h-0.6zM54.42 312.16h1.3v3.78h-1.3zM57.82 312.16h1.3v3.78h-1.3zM57.86 312.16h1.3v3.78h-1.3zM58.73 312.16h0.6v3.78h-0.6zM58.76 312.16h0.6v3.78h-0.6zM59.53 312.16h1.3v3.78h-1.3zM59.63 312.16h1v3.78h-1zM60.77 312.16h1.3v3.78h-1.3zM64.36 312.16h0.5v3.78h-0.5zM70.99 312.16h0.6v3.78h-0.6zM71.63 312.16h1v3.78h-1zM72.6 312.16h0.6v3.78h-0.6zM74.85 312.16h0.8v3.78h-0.8zM75.14 312.16h1.3v3.78h-1.3zM75.86 312.16h1.3v3.78h-1.3zM76.31 312.16h1v3.78h-1zM79.18 312.16h1v3.78h-1zM79.49 312.16h0.5v3.78h-0.5zM80.51 312.16h1v3.78h-1zM81.56 312.16h0.6v3.78h-0.6zM81.86 312.16h1.3v3.78h-1.3zM82.26 312.16h0.5v3.78h-0.5zM82.34 312.16h1v3.78h-1zM82.56 312.16h0.6v3.78h-0.6zM83.65 312.16h0.6v3.78h-0.6zM84.91 312.16h0.6v3.78h-0.6zM102.08 312.16h0.5v3.78h-0.5zM103.51 312.16h1.3v3.78h-1.3zM106.45 312.16h1v3.78h-1zM109.27 312.16h0.5v3.78h-0.5zM110.32 312.16h0.6v3.78h-0.6zM111.58 312.16h0.5v3.78h-0.5zM118.95 312.16h1v3.78h-1zM120.82 312.16h0.8v3.78h-0.8zM124.27 312.16h1.3v3.78h-1.3zM153.66 312.16h0.5v3.78h-0.5zM158.91 312.16h0.5v3.78h-0.5zM167.24 312.16h1.3v3.78h-1.3zM217.55 312.16h0.8v3.78h-0.8z" fill="#b79f00" fill-opacity="0.58"/>
<path d="M21.15 312.16h0.8v3.78h-0.8zM24.9 312.16h0.6v3.78h-0.6zM25.34 312.16h0.6v3.78h-0.6zM30.22 312.16h0.8v3.78h-0.8zM32.64 312.16h0.5v3.78h-0.5zM34.58 312.16h1.3v3.78h-1.3zM43.72 312.16h1.3v3.78h-1.3zM46.55 312.16h0.6v3.78h-0.6zM46.64 312.16h0.5v3.78h-0.5zM51.5 312.16h0.6v3.78h-0.6zM52.39 312.16h0.5v3.78h-0.5zM56.49 312.16h1.3v3.78h-1.3zM57.43 312.16h0.5v3.78h-0.5zM58.64 312.16h1v3.78h-1zM64.14 312.16h0.5v3.78h-0.5zM72.44 312.16h1v3.78h-1zM73.95 312.16h0.6v3.78h-0.6zM76.06 312.16h1.3v3.78h-1.3zM77.91 312.16h0.8v3.78h-0.8zM79.44 312.16h0.6v3.78h-0.6zM80.2 312.16h0.6v3.78h-0.6zM80.25 312.16h1v3.78h-1zM85.68 312.16h0.8v3.78h-0.8zM86.86 312.16h0.8v3.78h-0.8zM90.04 312.16h0.5v3.78h-0.5zM96.05 312.16h0.8v3.78h-0.8zM98.68 312.16h0.5v3.78h-0.5zM99.96 312.16h0.6v3.78h-0.6zM100.51 312.16h1.3v3.78h-1.3zM101.47 312.16h0.6v3.78h-0.6zM103.2 312.16h0.5v3.78h-0.5zM106.63 312.16h0.5v3.78h-0.5zM110.51 312.16h0.6v3.78h-0.6zM115.17 312.16h0.5v3.78h-0.5zM119.08 312.16h1v3.78h-1zM120.16 312.16h0.6v3.78h-0.6zM121.52 312.16h1.3v3.78h-1.3zM122.3 312.16h0.6v3.78h-0.6zM123.28 312.16h0.5v3.78h-0.5zM123.48 312.16h0.6v3.78h-0.6zM149.37 312.16h1.3v3.78h-1.3zM149.96 312.16h0.6v3.78h-0.6zM154.49 312.16h0.8v3.78h-0.8zM155.33 312.16h0.8v3.78h-0.8zM158.37 312.16h0.5v3.78h-0.5zM161.79 312.16h0.5v3.78h-0.5zM176.24 312.16h0.8v3.78h-0.8zM185.37 312.16h0.8v3.78h-0.8zM211.91 312.16h1.3v3.78h-1.3zM220.45 312.16h0.8v3.78h-0.8z" fill="#b79f00" fill-opacity="0.29"/>
<path d="M25.26 312.16h1v3.78h-1zM29.21 312.16h1.3v3.78h-1.3zM29.47 312.16h1.3v3.78h-1.3zM33.18 312.16h1v3.78h-1zM37.1 312.16h1.3v3.78h-1.3zM45.19 312.16h1.3v3.78h-1.3zM47.48 312.16h0.6v3.78h-0.6zM55.33 312.16h0.6v3.78h-0.6zM58.34 312.16h0.6v3.78h-0.6zM60.43 312.16h1v3.78h-1zM61.25 312.16h0.6v3.78h-0.6zM65.28 312.16h0.8v3.78h-0.8zM73.66 312.16h0.5v3.78h-0.5zM75.71 312.16h1v3.78h-1zM79.95 312.16h1.3v3.78h-1.3zM81.82 312.16h1.3v3.78h-1.3zM83.8 312.16h1.3v3.78h-1.3zM98.21 312.16h1v3.78h-1zM101.7 312.16h0.6v3.78h-0.6zM102.38 312.16h0.5v3.78h-0.5zM102.51 312.16h0.8v3.78h-0.8zM104.36 312.16h1v3.78h-1zM104.84 312.16h0.6v3.78h-0.6zM115.42 312.16h0.6v3.78h-0.6zM115.89 312.16h0.5v3.78h-0.5zM119.08 312.16h1.3v3.78h-1.3zM119.73 312.16h1v3.78h-1zM120.04 312.16h0.6v3.78h-0.6zM149.37 312.16h0.8v3.78h-0.8zM155.06 312.16h1v3.78h-1zM190.77 312.16h0.5v3.78h-0.5zM197.61 312.16h1.3v3.78h-1.3zM221 312.16h0.8v3.78h-0.8zM221.48 312.16h0.5v3.78h-0.5z" fill="#b79f00" fill-opacity="0.42"/>
<path d="M33.34 312.16h0.5v3.78h-0.5zM33.86 312.16h0.8v3.78h-0.8zM36.68 312.16h1.3v3.78h-1.3zM41.7 312.16h1v3.78h-1zM41.94 312.16h1v3.78h-1zM48.56 312.16h0.6v3.78h-0.6zM50.32 312.16h0.5v3.78h-0.5zM51.44 312.16h1.3v3.78h-1.3zM52.11 312.16h0.5v3.78h-0.5zM53.36 312.16h0.6v3.78h-0.6zM54.01 312.16h1.3v3.78h-1.3zM60.74 312.16h0.5v3.78h-0.5zM62.42 312.16h1.3v3.78h-1.3zM77.9 312.16h1.3v3.78h-1.3zM78.37 312.16h1v3.78h-1zM79.51 312.16h0.6v3.78h-0.6zM87.45 312.16h1v3.78h-1zM97.19 312.16h0.6v3.78h-0.6zM97.7 312.16h1.3v3.78h-1.3zM97.73 312.16h1v3.78h-1zM99.4 312.16h1v3.78h-1zM101.66 312.16h0.5v3.78h-0.5zM103.42 312.16h0.6v3.78h-0.6zM104.32 312.16h0.8v3.78h-0.8zM104.39 312.16h0.8v3.78h-0.8zM108.67 312.16h0.5v3.78h-0.5zM108.73 312.16h1v3.78h-1zM115.46 312.16h0.8v3.78h-0.8zM115.75 312.16h0.5v3.78h-0.5zM116.75 312.16h0.5v3.78h-0.5zM121.24 312.16h1v3.78h-1zM122.06 312.16h0.5v3.78h-0.5zM148.04 312.16h0.6v3.78h-0.6zM155.62 312.16h0.8v3.78h-0.8zM156.36 312.16h0.8v3.78h-0.8zM165.08 312.16h0.6v3.78h-0.6zM184.26 312.16h0.6v3.78h-0.6zM186.02 312.16h1.3v3.78h-1.3zM194.69 312.16h0.6v3.78h-0.6zM219.6 312.16h1.3v3.78h-1.3z" fill="#b79f00" fill-opacity="0.75"/>
<path d="M20.64 316.24h0.5v3.78h-0.5zM20.87 316.24h1.3v3.78h-1.3zM21.75 316.24h0.6v3.78h-0.6zM23.71 316.24h0.8v3.78h-0.8zM26.86 316.24h1v3.78h-1zM28.89 316.24h1v3.78h-1zM42.45 316.24h0.8v3.78h-0.8zM51.53 316.24h0.5v3.78h-0.5zM52.83 316.24h1v3.78h-1zM59.19 316.24h1v3.78h-1zM63 316.24h0.5v3.78h-0.5zM65.26 316.24h0.5v3.78h-0.5zM73.15 316.24h1.3v3.78h-1.3zM79 316.24h1v3.78h-1zM81.14 316.24h1.3v3.78h-1.3zM105.43 316.24h0.6v3.78h-0.6zM106.02 316.24h1v3.78h-1zM106.65 316.24h0.5v3.78h-0.5zM108.42 316.24h1.3v3.78h-1.3zM111.3 316.24h0.6v3.78h-0.6zM112.32 316.24h1v3.78h-1zM113.69 316.24h1v3.78h-1zM114.25 316.24h1.3v3.78h-1.3zM115.03 316.24h1v3.78h-1zM116.68 316.24h0.6v3.78h-0.6zM118.8 316.24h0.5v3.78h-0.5zM119.24 316.24h1v3.78h-1zM120.56 316.24h0.8v3.78h-0.8zM120.86 316.24h0.5v3.78h-0.5zM123.09 316.24h1.3v3.78h-1.3zM123.32 316.24h1.3v3.78h-1.3zM123.34 316.24h1.3v3.78h-1.3zM124.65 316.24h0.5v3.78h-0.5zM146.31 316.24h0.8v3.78h-0.8zM152.26 316.24h1v3.78h-1zM163.92 316.24h1v3.78h-1zM165.73 316.24h0.5v3.78h-0.5zM194.53 316.24h0.5v3.78h-0.5zM205.48 316.24h0.8v3.78h-0.8zM205.64 316.24h1.3v3.78h-1.3zM208.83 316.24h0.8v3.78h-0.8zM212.93 316.24h1.3v3.78h-1.3zM219.56 316.24h0.6v3.78h-0.6z" fill="#619cff" fill-opacity="0.29"/>
<path d="M22.31 316.24h1v3.78h-1zM22.79 316.24h0.6v3.78h-0.6zM24.31 316.24h1v3.78h-1zM24.48 316.24h0.5v3.78h-0.5zM30.56 316.24h1v3.78h-1zM32.05 316.24h1v3.78h-1zM32.77 316.24h1.3v3.78h-1.3zM33.49 316.24h0.8v3.78h-0.8zM34.77 316.24h0.8v3.78h-0.8zM45.19 316.24h1v3.78h-1zM46.25 316.24h0.5v3.78h-0.5zM49.67 316.24h0.8v3.78h-0.8zM53.38 316.24h1v3.78h-1zM56.04 316.24h1v3.78h-1zM63.92 316.24h0.6v3.78h-0.6zM74.01 316.24h1.3v3.78h-1.3zM75.65 316.24h1v3.78h-1zM76.62 316.24h0.8v3.78h-0.8zM79.34 316.24h1.3v3.78h-1.3zM82.02 316.24h0.5v3.78h-0.5zM83.06 316.24h0.8v3.78h-0.8zM105.09 316.24h1.3v3.78h-1.3zM112.13 316.24h1.3v3.78h-1.3zM112.91 316.24h0.5v3.78h-0.5zM115.2 316.24h1.3v3.78h-1.3zM117.4 316.24h1.3v3.78h-1.3zM122.15 316.24h0.6v3.78h-0.6zM123.82 316.24h0.8v3.78h-0.8zM150.12 316.24h0.8v3.78h-0.8zM164.25 316.24h1v3.78h-1zM176.32 316.24h1v3.78h-1zM178.65 316.24h0.6v3.78h-0.6zM184.07 316.24h0.5v3.78h-0.5zM187.34 316.24h1.3v3.78h-1.3zM191.21 316.24h0.6v3.78h-0.6zM198.81 316.24h1v3.78h-1zM206.97 316.24h1.3v3.78h-1.3zM221.64 316.24h1v3.78h-1z" fill="#619cff" fill-opacity="0.75"/>
<path d="M22.59 316.24h0.5v3.78h-0.5zM25.3 316.24h0.6v3.78h-0.6zM27.69 316.24h1v3.78h-1zM27.98 316.24h1.3v3.78h-1.3zM29.17 316.24h0.6v3.78h-0.6zM35.13 316.24h0.6v3.78h-0.6zM35.52 316.24h0.8v3.78h-0.8zM44.16 316.24h1v3.78h-1zM44.34 316.24h0.8v3.78h-0.8zM49.13 316.24h1.3v3.78h-1.3zM52.82 316.24h0.8v3.78h-0.8zM54.26 316.24h1.3v3.78h-1.3zM61.5 316.24h0.6v3.78h-0.6zM61.86 316.24h0.8v3.78h-0.8zM64.64 316.24h0.6v3.78h-0.6zM73.22 316.24h0.8v3.78h-0.8zM79.01 316.24h1.3v3.78h-1.3zM79.55 316.24h0.8v3.78h-0.8zM81.48 316.24h0.5v3.78h-0.5zM81.97 316.24h0.6v3.78h-0.6zM84.92 316.24h0.8v3.78h-0.8zM86.18 316.24h0.5v3.78h-0.5zM87.64 316.24h0.5v3.78h-0.5zM110.23 316.24h1.3v3.78h-1.3zM113.4 316.24h0.5v3.78h-0.5zM123.89 316.24h0.6v3.78h-0.6zM124.31 316.24h0.5v3.78h-0.5zM146.02 316.24h1.3v3.78h-1.3zM146.15 316.24h1.3v3.78h-1.3zM147.1 316.24h0.5v3.78h-0.5zM158.28 316.24h1v3.78h-1zM179.08 316.24h0.5v3.78h-0.5zM186.81 316.24h0.6v3.78h-0.6zM195.72 316.24h0.6v3.78h-0.6zM206.09 316.24h0.6v3.78h-0.6zM218.26 316.24h0.6v3.78h-0.6zM219.04 316.24h0.6v3.78h-0.6z" fill="#619cff" fill-opacity="0.42"/>
<path d="M34.35 316.24h0.8v3.78h-0.8zM36.02 316.24h0.6v3.78h-0.6zM41.63 316.24h0.6v3.78h-0.6zM44.94 316.24h0.8v3.78h-0.8zM49.41 316.24h0.6v3.78h-0.6zM54.47 316.24h1v3.78h-1zM62.96 316.24h0.8v3.78h-0.8zM66.62 316.24h1v3.78h-1zM81.38 316.24h0.8v3.78h-0.8zM87.91 316.24h0.8v3.78h-0.8zM89.83 316.24h1v3.78h-1zM100.1 316.24h0.8v3.78h-0.8zM100.31 316.24h0.5v3.78h-0.5zM101.15 316.24h0.8v3.78h-0.8zM101.43 316.24h1.3v3.78h-1.3zM104.16 316.24h1v3.78h-1zM106.1 316.24h1v3.78h-1zM106.74 316.24h0.8v3.78h-0.8zM107.42 316.24h0.6v3.78h-0.6zM110.01 316.24h0.5v3.78h-0.5zM113.34 316.24h1v3.78h-1zM116.57 316.24h1.3v3.78h-1.3zM118.85 316.24h0.5v3.78h-0.5zM122.76 316.24h1.3v3.78h-1.3zM124.09 316.24h0.6v3.78h-0.6zM147.94 316.24h1v3.78h-1zM148.81 316.24h0.5v3.78h-0.5zM153.77 316.24h0.8v3.78h-0.8zM153.93 316.24h0.5v3.78h-0.5zM160.78 316.24h0.8v3.78h-0.8zM165.87 316.24h1.3v3.78h-1.3zM168.4 316.24h1.3v3.78h-1.3zM190.61 316.24h1.3v3.78h-1.3zM210.03 316.24h0.8v3.78h-0.8zM211.76 316.24h1.3v3.78h-1.3z" fill="#619cff" fill-opacity="0.58"/>
<path d="M20.27 320.32h0.6v3.78h-0.6zM21.58 320.32h0.8v3.78h-0.8zM23.12 320.32h0.5v3.78h-0.5zM28.36 320.32h0.8v3.78h-0.8zM37.03 320.32h0.8v3.78h-0.8zM42.76 320.32h0.6v3.78h-0.6zM43.29 320.32h0.5v3.78h-0.5zM43.32 320.32h1.3v3.78h-1.3zM49.67 320.32h1v3.78h-1zM52.95 320.32h1v3.78h-1zM73.18 320.32h0.8v3.78h-0.8zM76.07 320.32h1.3v3.78h-1.3zM80.74 320.32h0.6v3.78h-0.6zM83.6 320.32h1.3v3.78h-1.3zM89.37 320.32h1v3.78h-1zM90.07 320.32h1v3.78h-1zM96.26 320.32h1.3v3.78h-1.3zM100.45 320.32h0.8v3.78h-0.8zM100.64 320.32h1.3v3.78h-1.3zM104 320.32h0.5v3.78h-0.5zM106.34 320.32h0.6v3.78h-0.6zM113.22 320.32h0.5v3.78h-0.5zM114.4 320.32h1v3.78h-1zM117.34 320.32h0.8v3.78h-0.8zM119.61 320.32h0.8v3.78h-0.8zM123.15 320.32h0.8v3.78h-0.8zM123.59 320.32h0.8v3.78h-0.8zM124.05 320.32h1.3v3.78h-1.3zM149.68 320.32h0.8v3.78h-0.8zM163.16 320.32h1v3.78h-1zM184.83 320.32h0.8v3.78h-0.8zM187.28 320.32h1v3.78h-1zM199.63 320.32h1.3v3.78h-1.3zM207.97 320.32h1v3.78h-1z" fill="#f8766d" fill-opacity="0.75"/>
<path d="M20.76 320.32h1v3.78h-1zM23.84 320.32h1.3v3.78h-1.3zM27.32 320.32h1v3.78h-1zM27.9 320.32h0.8v3.78h-0.8zM28.08 320.32h0.5v3.78h-0.5zM29.13 320.32h1v3.78h-1zM30.22 320.32h0.6v3.78h-0.6zM34.42 320.32h0.5v3.78h-0.5zM43.58 320.32h1.3v3.78h-1.3zM44.23 320.32h0.8v3.78h-0.8zM46.8 320.32h1v3.78h-1zM58.07 320.32h1v3.78h-1zM60.75 320.32h1.3v3.78h-1.3zM62.53 320.32h1v3.78h-1zM62.71 320.32h1v3.78h-1zM63.83 320.32h0.5v3.78h-0.5zM73.84 320.32h1v3.78h-1zM88.55 320.32h0.8v3.78h-0.8zM101.08 320.32h1v3.78h-1zM101.09 320.32h0.8v3.78h-0.8zM105.83 320.32h1.3v3.78h-1.3zM113.45 320.32h0.6v3.78h-0.6zM113.62 320.32h1v3.78h-1zM117.33 320.32h1v3.78h-1zM119.28 320.32h0.5v3.78h-0.5zM148.56 320.32h0.5v3.78h-0.5zM157.22 320.32h1v3.78h-1zM177.59 320.32h0.8v3.78h-0.8zM184.77 320.32h1v3.78h-1zM197.69 320.32h1.3v3.78h-1.3zM198.92 320.32h0.8v3.78h-0.8zM199.76 320.32h0.5v3.78h-0.5zM204.86 320.32h1.3v3.78h-1.3z" fill="#f8766d" fill-opacity="0.42"/>
<path d="M23.48 320.32h1v3.78h-1zM33.96 320.32h1v3.78h-1zM43.39 320.32h0.8v3.78h-0.8zM45.01 320.32h0.8v3.78h-0.8zM46.11 320.32h0.6v3.78h-0.6zM48.08 320.32h1v3.78h-1zM50.66 320.32h1.3v3.78h-1.3zM53.21 320.32h0.6v3.78h-0.6zM54.79 320.32h1v3.78h-1zM60.93 320.32h1v3.78h-1zM62.1 320.32h0.5v3.78h-0.5zM63.19 320.32h0.8v3.78h-0.8zM80.54 320.32h1v3.78h-1zM81.42 320.32h0.6v3.78h-0.6zM88.23 320.32h0.8v3.78h-0.8zM90.4 320.32h0.8v3.78h-0.8zM96.32 320.32h0.5v3.78h-0.5zM100.14 320.32h0.8v3.78h-0.8zM101.27 320.32h1v3.78h-1zM103.52 320.32h1v3.78h-1zM104.8 320.32h0.5v3.78h-0.5zM107.09 320.32h1v3.78h-1zM107.21 320.32h0.6v3.78h-0.6zM110.68 320.32h0.6v3.78h-0.6zM111.22 320.32h0.6v3.78h-0.6zM111.74 320.32h1.3v3.78h-1.3zM113.54 320.32h0.6v3.78h-0.6zM115.81 320.32h1v3.78h-1zM117.18 320.32h1.3v3.78h-1.3zM121.08 320.32h0.5v3.78h-0.5zM123.04 320.32h0.6v3.78h-0.6zM123.97 320.32h0.5v3.78h-0.5zM155.67 320.32h1v3.78h-1zM163.32 320.32h0.6v3.78h-0.6zM168.9 320.32h0.5v3.78h-0.5zM193.32 320.32h0.5v3.78h-0.5zM194.34 320.32h0.6v3.78h-0.6zM218.12 320.32h0.8v3.78h-0.8z" fill="#f8766d" fill-opacity="0.58"/>
<path d="M26.4 320.32h0.6v3.78h-0.6zM28.91 320.32h0.6v3.78h-0.6zM30.52 320.32h0.8v3.78h-0.8zM35.56 320.32h0.6v3.78h-0.6zM46.09 320.32h1v3.78h-1zM49.9 320.32h0.8v3.78h-0.8zM53.71 320.32h0.5v3.78h-0.5zM70.88 320.32h1.3v3.78h-1.3zM71.42 320.32h0.6v3.78h-0.6zM75.72 320.32h1.3v3.78h-1.3zM79.43 320.32h0.6v3.78h-0.6zM85.84 320.32h1.3v3.78h-1.3zM88.63 320.32h0.6v3.78h-0.6zM96.87 320.32h0.6v3.78h-0.6zM98.78 320.32h1.3v3.78h-1.3zM113.86 320.32h0.8v3.78h-0.8zM115.38 320.32h0.8v3.78h-0.8zM118.6 320.32h0.6v3.78h-0.6zM146.74 320.32h0.5v3.78h-0.5zM152.68 320.32h1.3v3.78h-1.3zM178.26 320.32h0.5v3.78h-0.5zM208.1 320.32h0.8v3.78h-0.8z" fill="#f8766d" fill-opacity="0.29"/>
<path d="M19.69 324.4h1v3.78h-1zM22.98 324.4h0.8v3.78h-0.8zM25.65 324.4h1.3v3.78h-1.3zM28.23 324.4h1.3v3.78h-1.3zM41.72 324.4h1.3v3.78h-1.3zM45.15 324.4h1.3v3.78h-1.3zM52.58 324.4h1.3v3.78h-1.3zM55.21 324.4h0.6v3.78h-0.6zM57.48 324.4h0.6v3.78h-0.6zM63.63 324.4h0.6v3.78h-0.6zM65.53 324.4h1v3.78h-1zM71.5 324.4h1.3v3.78h-1.3zM72.23 324.4h0.8v3.78h-0.8zM87.42 324.4h1.3v3.78h-1.3zM96.27 324.4h0.5v3.78h-0.5zM98.32 324.4h0.5v3.78h-0.5zM98.76 324.4h0.6v3.78h-0.6zM103.23 324.4h1.3v3.78h-1.3zM109.33 324.4h1v3.78h-1zM115.57 324.4h1v3.78h-1zM115.81 324.4h0.6v3.78h-0.6zM116.89 324.4h0.5v3.78h-0.5zM119.18 324.4h0.8v3.78h-0.8zM152.64 324.4h1v3.78h-1zM159.56 324.4h0.8v3.78h-0.8zM159.75 324.4h0.8v3.78h-0.8zM168.42 324.4h0.6v3.78h-0.6zM180.6 324.4h0.5v3.78h-0.5zM188.3 324.4h0.6v3.78h-0.6zM188.61 324.4h1.3v3.78h-1.3zM198.81 324.4h0.8v3.78h-0.8zM204.11 324.4h0.5v3.78h-0.5zM221.56 324.4h1.3v3.78h-1.3z" fill="#00bfc4" fill-opacity="0.75"/>
<path d="M21.17 324.4h1v3.78h-1zM23.44 324.4h1.3v3.78h-1.3zM24.46 324.4h1v3.78h-1zM26.7 324.4h1v3.78h-1zM29.6 324.4h0.6v3.78h-0.6zM30.3 324.4h1.3v3.78h-1.3zM31.14 324.4h0.8v3.78h-0.8zM44.6 324.4h0.6v3.78h-0.6zM46.96 324.4h0.6v3.78h-0.6zM48.84 324.4h0.8v3.78h-0.8zM51.05 324.4h1v3.78h-1zM53.03 324.4h0.6v3.78h-0.6zM53.21 324.4h0.6v3.78h-0.6zM55.96 324.4h0.8v3.78h-0.8zM56.82 324.4h0.6v3.78h-0.6zM61.44 324.4h0.8v3.78h-0.8zM75.33 324.4h0.6v3.78h-0.6zM77.42 324.4h0.5v3.78h-0.5zM79.44 324.4h1.3v3.78h-1.3zM82.97 324.4h0.5v3.78h-0.5zM83.04 324.4h0.8v3.78h-0.8zM83.84 324.4h0.6v3.78h-0.6zM89.33 324.4h0.6v3.78h-0.6zM89.34 324.4h0.8v3.78h-0.8zM98.2 324.4h0.8v3.78h-0.8zM99.75 324.4h0.6v3.78h-0.6zM100.99 324.4h0.8v3.78h-0.8zM103.26 324.4h0.6v3.78h-0.6zM103.43 324.4h1.3v3.78h-1.3zM106.94 324.4h1v3.78h-1zM107.48 324.4h1v3.78h-1zM109.57 324.4h0.5v3.78h-0.5zM110.08 324.4h1v3.78h-1zM111.53 324.4h0.6v3.78h-0.6zM115.33 324.4h1.3v3.78h-1.3zM123.57 324.4h1.3v3.78h-1.3zM146.82 324.4h0.8v3.78h-0.8zM155.5 324.4h0.5v3.78h-0.5zM162.23 324.4h1v3.78h-1zM163.3 324.4h0.6v3.78h-0.6zM164.33 324.4h0.5v3.78h-0.5zM167.33 324.4h0.5v3.78h-0.5zM194.98 324.4h0.5v3.78h-0.5zM212.9 324.4h0.5v3.78h-0.5z" fill="#00bfc4" fill-opacity="0.29"/>
<path d="M26.95 324.4h0.8v3.78h-0.8zM30.71 324.4h0.5v3.78h-0.5zM34.16 324.4h0.6v3.78h-0.6zM34.25 324.4h1v3.78h-1zM35.58 324.4h0.8v3.78h-0.8zM42.28 324.4h0.5v3.78h-0.5zM46.98 324.4h1v3.78h-1zM55.14 324.4h0.5v3.78h-0.5zM65.06 324.4h1v3.78h-1zM71.92 324.4h0.6v3.78h-0.6zM72.79 324.4h1.3v3.78h-1.3zM75.8 324.4h0.6v3.78h-0.6zM77.75 324.4h0.6v3.78h-0.6zM80.77 324.4h1.3v3.78h-1.3zM88.22 324.4h0.5v3.78h-0.5zM88.98 324.4h0.8v3.78h-0.8zM89.31 324.4h1.3v3.78h-1.3zM90.46 324.4h0.5v3.78h-0.5zM97.09 324.4h0.8v3.78h-0.8zM99.82 324.4h0.5v3.78h-0.5zM106.08 324.4h1v3.78h-1zM107.37 324.4h0.5v3.78h-0.5zM108.03 324.4h1.3v3.78h-1.3zM115.01 324.4h1.3v3.78h-1.3zM120.74 324.4h1v3.78h-1zM147.67 324.4h0.6v3.78h-0.6zM150.51 324.4h0.6v3.78h-0.6zM152.37 324.4h0.8v3.78h-0.8zM163.24 324.4h1v3.78h-1zM163.3 324.4h1v3.78h-1zM181.37 324.4h0.6v3.78h-0.6zM182.75 324.4h0.5v3.78h-0.5zM197.12 324.4h0.5v3.78h-0.5zM206.26 324.4h1v3.78h-1zM213.39 324.4h0.8v3.78h-0.8z" fill="#00bfc4" fill-opacity="0.42"/>
<path d="M28.13 324.4h0.8v3.78h-0.8zM28.39 324.4h1.3v3.78h-1.3zM32.05 324.4h0.5v3.78h-0.5zM44.1 324.4h1v3.78h-1zM44.19 324.4h0.6v3.78h-0.6zM44.38 324.4h0.8v3.78h-0.8zM44.83 324.4h0.5v3.78h-0.5zM52.99 324.4h0.6v3.78h-0.6zM59.61 324.4h0.5v3.78h-0.5zM64.96 324.4h1.3v3.78h-1.3zM72.58 324.4h0.5v3.78h-0.5zM73.91 324.4h0.6v3.78h-0.6zM74.73 324.4h0.6v3.78h-0.6zM75.34 324.4h0.5v3.78h-0.5zM84.6 324.4h0.8v3.78h-0.8zM100.26 324.4h1.3v3.78h-1.3zM101.01 324.4h0.6v3.78h-0.6zM106.57 324.4h0.8v3.78h-0.8zM112.38 324.4h1.3v3.78h-1.3zM117.21 324.4h0.5v3.78h-0.5zM117.75 324.4h1.3v3.78h-1.3zM118.78 324.4h0.6v3.78h-0.6zM119.31 324.4h0.6v3.78h-0.6zM119.96 324.4h1v3.78h-1zM120.91 324.4h0.5v3.78h-0.5zM124.06 324.4h1v3.78h-1zM167.62 324.4h0.8v3.78h-0.8zM179.28 324.4h0.5v3.78h-0.5zM182.2 324.4h0.5v3.78h-0.5zM196.1 324.4h0.6v3.78h-0.6zM221.39 324.4h1v3.78h-1z" fill="#00bfc4" fill-opacity="0.58"/>
<line x1="19.3" y1="327" x2="19.3" y2="377" stroke="#333" stroke-width="0.6"/>
<line x1="19.3" y1="377" x2="224" y2="377" stroke="#777" stroke-width="0.8"/>
<text x="17.7" y="329.95" font-size="2.9" text-anchor="end" fill="#555" stroke="#555" stroke-width="0.06">4</text>
<line x1="18.1" y1="328.9" x2="19.3" y2="328.9" stroke="#555" stroke-width="0.35"/>
<text x="17.7" y="338.75" font-size="2.9" text-anchor="end" fill="#555" stroke="#555" stroke-width="0.06">3</text>
<line x1="18.1" y1="337.7" x2="19.3" y2="337.7" stroke="#555" stroke-width="0.35"/>
<text x="17.7" y="347.55" font-size="2.9" text-anchor="end" fill="#555" stroke="#555" stroke-width="0.06">2</text>
<line x1="18.1" y1="346.5" x2="19.3" y2="346.5" stroke="#555" stroke-width="0.35"/>
<text x="17.7" y="356.35" font-size="2.9" text-anchor="end" fill="#555" stroke="#555" stroke-width="0.06">1</text>
<line x1="18.1" y1="355.3" x2="19.3" y2="355.3" stroke="#555" stroke-width="0.35"/>
<text x="17.7" y="365.15" font-size="2.9" text-anchor="end" fill="#555" stroke="#555" stroke-width="0.06">0</text>
<line x1="18.1" y1="364.1" x2="19.3" y2="364.1" stroke="#555" stroke-width="0.35"/>
<text x="17.7" y="373.95" font-size="2.9" text-anchor="end" fill="#555" stroke="#555" stroke-width="0.06">−1</text>
<line x1="18.1" y1="372.9" x2="19.3" y2="372.9" stroke="#555" stroke-width="0.35"/>
<polyline points="19.3,364.1 19.3,347.6 19.7,352.23 20.1,354.43 20.5,355.53 20.9,356.14 21.3,356.52 21.7,356.79 22.1,357.02 22.5,357.22 22.9,357.41 23.3,357.59 23.7,357.76 24.1,357.92 24.5,358.08 24.9,358.24 25.3,358.39 25.7,358.54 26.1,358.68 26.5,358.82 26.9,358.96 27.3,359.09 27.7,359.21 28.1,359.34 28.5,359.46 28.9,359.58 29.3,359.69 29.7,359.8 30.1,359.91 30.5,360.02 30.9,360.12 31.3,360.22 31.7,360.32 32.1,360.41 32.5,360.5 32.9,360.59 33.3,360.68 33.7,360.76 34.1,360.84 34.5,360.92 34.9,361 35.3,361.08 35.7,361.15 36.1,361.22 36.5,361.29 36.9,361.36 37.3,361.43 37.7,361.49 38.1,361.55 38.5,361.62 38.9,361.67 39.3,361.73 39.7,361.79 40.1,361.84 40.5,361.9 40.9,361.95 41.3,362 41.7,362.05 42.1,362.1 42.5,362.15 42.9,362.19 43.3,362.24 43.7,362.28 44.1,362.32 44.5,362.36 44.9,362.41 45.3,362.44 45.7,362.48 46.1,362.52 46.5,362.56 46.9,362.59 47.3,362.63 47.7,362.66 48.1,362.7 48.5,362.73 48.9,362.76 49.3,362.79 49.7,362.82 50.1,362.85 50.5,362.88 50.9,362.91 51.3,362.93 51.7,362.96 52.1,362.99 52.5,363.01 52.9,363.04 53.3,363.06 53.7,363.09 54.1,363.11 54.5,363.13 54.9,363.16 55.3,363.18 55.7,363.2 56.1,363.22 56.5,363.24 56.9,363.26 57.3,363.28 57.7,363.3 58.1,363.32 58.5,363.34 58.9,363.35 59.3,363.37 59.7,363.39 60.1,363.41 60.5,363.42 60.9,363.44 61.3,363.45 61.7,363.47 62.1,363.48 62.5,363.5 62.9,363.51 63.3,363.53 63.7,363.54 64.1,363.56 64.5,363.57 64.9,363.58 65.3,363.59 65.7,363.61 66.1,363.62 66.5,363.63 66.9,363.64 67.3,363.65 67.7,363.67 68.1,363.68 68.5,363.69 68.9,363.7 69.3,363.71 69.7,363.72 70.1,363.73 70.5,363.74 70.9,363.75 71.3,363.76 71.7,363.77 72.1,363.78 72.5,363.79 72.9,363.8 73.3,363.8 73.7,363.81 74.1,363.82 74.5,363.83 74.9,363.84 75.3,363.85 75.7,363.85 76.1,363.86 76.5,363.87 76.9,363.88 77.3,363.88 77.7,363.89 78.1,363.9 78.5,363.9 78.9,363.91 79.3,363.92 79.7,363.92 80.1,363.93 80.5,363.94 80.9,363.94 81.3,363.95 81.7,363.95 82.1,363.96 82.5,363.97 82.9,363.97 83.3,363.98 83.7,363.98 84.1,363.99 84.5,363.99 84.9,364 85.3,364 85.7,364.01 86.1,364.01 86.5,364.02 86.9,364.02 87.3,364.03 87.7,364.03 88.1,364.04 88.5,364.04 88.9,364.04 89.3,364.05 89.7,364.05 90.1,364.06 90.5,364.06 90.9,364.06 91.3,364.07 91.7,364.07 92.1,364.08 92.5,364.08 92.9,364.08 93.3,364.09 93.7,364.09 94.1,364.09 94.5,364.1 94.9,364.1 94.9,364.1 19.3,364.1" fill="#bdbdbd" stroke="none" stroke-width="0"/>
<polyline points="146.5,364.1 146.5,364.98 146.8,364.98 147.1,364.99 147.4,364.99 147.7,364.99 148,364.99 148.3,365 148.6,365 148.9,365 149.2,365.01 149.5,365.01 149.8,365.01 150.1,365.01 150.4,365.02 150.7,365.02 151,365.02 151.3,365.02 151.6,365.03 151.9,365.03 152.2,365.03 152.5,365.04 152.8,365.04 153.1,365.04 153.4,365.04 153.7,365.05 154,365.05 154.3,365.05 154.6,365.06 154.9,365.06 155.2,365.06 155.5,365.06 155.8,365.07 156.1,365.07 156.4,365.07 156.7,365.07 157,365.08 157.3,365.08 157.6,365.08 157.9,365.09 158.2,365.09 158.5,365.09 158.8,365.09 159.1,365.1 159.4,365.1 159.7,365.1 160,365.11 160.3,365.11 160.6,365.11 160.9,365.11 161.2,365.12 161.5,365.12 161.8,365.12 162.1,365.12 162.4,365.13 162.7,365.13 163,365.13 163.3,365.14 163.6,365.14 163.9,365.14 164.2,365.14 164.5,365.15 164.8,365.15 165.1,365.15 165.4,365.16 165.7,365.16 166,365.16 166.3,365.16 166.6,365.17 166.9,365.17 167.2,365.17 167.5,365.17 167.8,365.18 168.1,365.18 168.4,365.18 168.7,365.19 169,365.19 169.3,365.19 169.6,365.19 169.9,365.2 170.2,365.2 170.5,365.2 170.8,365.21 171.1,365.21 171.4,365.21 171.7,365.21 172,365.22 172.3,365.22 172.6,365.22 172.9,365.23 173.2,365.23 173.5,365.23 173.8,365.23 174.1,365.24 174.4,365.24 174.7,365.24 175,365.24 175.3,365.25 175.6,365.25 175.9,365.25 176.2,365.26 176.5,365.26 176.8,365.26 177.1,365.26 177.4,365.27 177.7,365.27 178,365.27 178.3,365.28 178.6,365.28 178.9,365.28 179.2,365.29 179.5,365.29 179.8,365.29 180.1,365.29 180.4,365.3 180.7,365.3 181,365.3 181.3,365.31 181.6,365.31 181.9,365.31 182.2,365.32 182.5,365.32 182.8,365.32 183.1,365.33 183.4,365.33 183.7,365.33 184,365.34 184.3,365.34 184.6,365.34 184.9,365.35 185.2,365.35 185.5,365.35 185.8,365.36 186.1,365.36 186.4,365.36 186.7,365.37 187,365.37 187.3,365.37 187.6,365.38 187.9,365.38 188.2,365.38 188.5,365.39 188.8,365.39 189.1,365.4 189.4,365.4 189.7,365.4 190,365.41 190.3,365.41 190.6,365.42 190.9,365.42 191.2,365.43 191.5,365.43 191.8,365.43 192.1,365.44 192.4,365.44 192.7,365.45 193,365.45 193.3,365.46 193.6,365.46 193.9,365.47 194.2,365.47 194.5,365.48 194.8,365.49 195.1,365.49 195.4,365.5 195.7,365.5 196,365.51 196.3,365.52 196.6,365.52 196.9,365.53 197.2,365.54 197.5,365.54 197.8,365.55 198.1,365.56 198.4,365.56 198.7,365.57 199,365.58 199.3,365.59 199.6,365.6 199.9,365.61 200.2,365.61 200.5,365.62 200.8,365.63 201.1,365.64 201.4,365.65 201.7,365.66 202,365.67 202.3,365.68 202.6,365.69 202.9,365.7 203.2,365.72 203.5,365.73 203.8,365.74 204.1,365.75 204.4,365.77 204.7,365.78 205,365.79 205.3,365.81 205.6,365.82 205.9,365.84 206.2,365.85 206.5,365.87 206.8,365.88 207.1,365.9 207.4,365.92 207.7,365.94 208,365.95 208.3,365.97 208.6,365.99 208.9,366.01 209.2,366.03 209.5,366.05 209.8,366.08 210.1,366.1 210.4,366.12 210.7,366.15 211,366.17 211.3,366.2 211.6,366.22 211.9,366.25 212.2,366.28 212.5,366.31 212.8,366.34 213.1,366.37 213.4,366.4 213.7,366.43 214,366.47 214.3,366.5 214.6,366.54 214.9,366.58 215.2,366.62 215.5,366.66 215.8,366.71 216.1,366.75 216.4,366.8 216.7,366.85 217,366.9 217.3,366.96 217.6,367.02 217.9,367.09 218.2,367.15 218.5,367.23 218.8,367.3 219.1,367.39 219.4,367.48 219.7,367.58 220,367.69 220.3,367.81 220.6,367.94 220.9,368.09 221.2,368.25 221.5,368.43 221.8,368.63 222.1,368.86 222.4,369.11 222.4,364.1" fill="#bdbdbd" stroke="none" stroke-width="0"/>
<line x1="56.1" y1="377" x2="56.1" y2="378.2" stroke="#555" stroke-width="0.35"/>
<text x="56.1" y="381.8" font-size="3.6" text-anchor="middle" fill="#4d4d4d" stroke="#4d4d4d" stroke-width="0.07">1000</text>
<line x1="92.9" y1="377" x2="92.9" y2="378.2" stroke="#555" stroke-width="0.35"/>
<text x="92.9" y="381.8" font-size="3.6" text-anchor="middle" fill="#4d4d4d" stroke="#4d4d4d" stroke-width="0.07">2000</text>
<line x1="129.7" y1="377" x2="129.7" y2="378.2" stroke="#555" stroke-width="0.35"/>
<text x="129.7" y="381.8" font-size="3.6" text-anchor="middle" fill="#4d4d4d" stroke="#4d4d4d" stroke-width="0.07">3000</text>
<line x1="166.5" y1="377" x2="166.5" y2="378.2" stroke="#555" stroke-width="0.35"/>
<text x="166.5" y="381.8" font-size="3.6" text-anchor="middle" fill="#4d4d4d" stroke="#4d4d4d" stroke-width="0.07">4000</text>
<line x1="203.3" y1="377" x2="203.3" y2="378.2" stroke="#555" stroke-width="0.35"/>
<text x="203.3" y="381.8" font-size="3.6" text-anchor="middle" fill="#4d4d4d" stroke="#4d4d4d" stroke-width="0.07">5000</text>
<text x="129" y="387.3" font-size="4.16" text-anchor="middle" fill="#1a1a1a" stroke="#1a1a1a" stroke-width="0.08">Rank in Ordered Dataset</text>
<text x="12.4" y="262.5" font-size="4.39" text-anchor="middle" fill="#1a1a1a" stroke="#1a1a1a" stroke-width="0.09" transform="rotate(-90 12.4 262.5)">Running Enrichment Score</text>
<text x="12.4" y="351" font-size="4.35" text-anchor="middle" fill="#1a1a1a" stroke="#1a1a1a" stroke-width="0.09" transform="rotate(-90 12.4 351)">Ranked List Metric</text>
<text x="236" y="224.9" font-size="15.3" text-anchor="start" fill="#1a1a1a" stroke="#1a1a1a" stroke-width="0.18">d</text>
<line x1="270.7" y1="230" x2="270.7" y2="300" stroke="#f0f0f0" stroke-width="0.5"/>
<line x1="270.7" y1="329" x2="270.7" y2="377" stroke="#f0f0f0" stroke-width="0.5"/>
<line x1="289.03" y1="230" x2="289.03" y2="300" stroke="#f0f0f0" stroke-width="0.5"/>
<line x1="289.03" y1="329" x2="289.03" y2="377" stroke="#f0f0f0" stroke-width="0.5"/>
<line x1="307.36" y1="230" x2="307.36" y2="300" stroke="#f0f0f0" stroke-width="0.5"/>
<line x1="307.36" y1="329" x2="307.36" y2="377" stroke="#f0f0f0" stroke-width="0.5"/>
<line x1="325.69" y1="230" x2="325.69" y2="300" stroke="#f0f0f0" stroke-width="0.5"/>
<line x1="325.69" y1="329" x2="325.69" y2="377" stroke="#f0f0f0" stroke-width="0.5"/>
<line x1="344.02" y1="230" x2="344.02" y2="300" stroke="#f0f0f0" stroke-width="0.5"/>
<line x1="344.02" y1="329" x2="344.02" y2="377" stroke="#f0f0f0" stroke-width="0.5"/>
<line x1="362.35" y1="230" x2="362.35" y2="300" stroke="#f0f0f0" stroke-width="0.5"/>
<line x1="362.35" y1="329" x2="362.35" y2="377" stroke="#f0f0f0" stroke-width="0.5"/>
<line x1="380.68" y1="230" x2="380.68" y2="300" stroke="#f0f0f0" stroke-width="0.5"/>
<line x1="380.68" y1="329" x2="380.68" y2="377" stroke="#f0f0f0" stroke-width="0.5"/>
<line x1="399.01" y1="230" x2="399.01" y2="300" stroke="#f0f0f0" stroke-width="0.5"/>
<line x1="399.01" y1="329" x2="399.01" y2="377" stroke="#f0f0f0" stroke-width="0.5"/>
<line x1="417.34" y1="230" x2="417.34" y2="300" stroke="#f0f0f0" stroke-width="0.5"/>
<line x1="417.34" y1="329" x2="417.34" y2="377" stroke="#f0f0f0" stroke-width="0.5"/>
<line x1="435.67" y1="230" x2="435.67" y2="300" stroke="#f0f0f0" stroke-width="0.5"/>
<line x1="435.67" y1="329" x2="435.67" y2="377" stroke="#f0f0f0" stroke-width="0.5"/>
<line x1="454" y1="230" x2="454" y2="300" stroke="#f0f0f0" stroke-width="0.5"/>
<line x1="454" y1="329" x2="454" y2="377" stroke="#f0f0f0" stroke-width="0.5"/>
<text x="250.9" y="240.85" font-size="2.9" text-anchor="end" fill="#555" stroke="#555" stroke-width="0.06">0.0</text>
<line x1="251.3" y1="239.8" x2="252.5" y2="239.8" stroke="#555" stroke-width="0.35"/>
<text x="250.9" y="257.25" font-size="2.9" text-anchor="end" fill="#555" stroke="#555" stroke-width="0.06">−0.2</text>
<line x1="251.3" y1="256.2" x2="252.5" y2="256.2" stroke="#555" stroke-width="0.35"/>
<text x="250.9" y="273.65" font-size="2.9" text-anchor="end" fill="#555" stroke="#555" stroke-width="0.06">−0.4</text>
<line x1="251.3" y1="272.6" x2="252.5" y2="272.6" stroke="#555" stroke-width="0.35"/>
<text x="250.9" y="290.05" font-size="2.9" text-anchor="end" fill="#555" stroke="#555" stroke-width="0.06">−0.6</text>
<line x1="251.3" y1="289" x2="252.5" y2="289" stroke="#555" stroke-width="0.35"/>
<line x1="252.5" y1="229.5" x2="252.5" y2="300.5" stroke="#333" stroke-width="0.6"/>
<polyline points="252.5,239.8 253.4,239.19 254.3,239.2 255.2,238.91 256.1,238.56 257,239.01 257.9,238.46 258.8,238.01 259.7,237.86 260.6,237.92 261.5,238.08 262.4,237.59 263.3,236.98 264.2,238.22 265.1,238.38 266,238.13 266.9,238.99 267.8,239.59 268.7,239.79 269.6,239.48 270.5,240.32 271.4,240.51 272.3,240.58 273.2,240.65 274.1,241.2 275,241.85 275.9,241.61 276.8,242.39 277.7,242.58 278.6,242.69 279.5,242.4 280.4,242.99 281.3,242.79 282.2,243.5 283.1,243.74 284,244.03 284.9,243.56 285.8,243.6 286.7,244.42 287.6,244.6 288.5,245.02 289.4,244.59 290.3,245.13 291.2,245.48 292.1,245.18 293,245.42 293.9,245.76 294.8,246.25 295.7,246.07 296.6,246.47 297.5,246.92 298.4,247.31 299.3,247.34 300.2,247.69 301.1,248.08 302,248.29 302.9,248.78 303.8,249.19 304.7,249.61 305.6,249.74 306.5,250.1 307.4,250.46 308.3,250.57 309.2,250.95 310.1,251.56 311,251.59 311.9,252.26 312.8,252.37 313.7,252.87 314.6,253.08 315.5,253.37 316.4,253.9 317.3,254.18 318.2,254.83 319.1,254.96 320,255.55 320.9,255.79 321.8,256.21 322.7,256.68 323.6,256.79 324.5,257.42 325.4,257.72 326.3,258.16 327.2,258.31 328.1,258.82 329,259.29 329.9,259.67 330.8,259.97 331.7,260.22 332.6,260.79 333.5,261.16 334.4,261.27 335.3,261.7 336.2,262.23 337.1,262.53 338,262.97 338.9,263.28 339.8,263.61 340.7,264.05 341.6,264.43 342.5,264.79 343.4,265.13 344.3,265.4 345.2,265.62 346.1,265.99 347,266.34 347.9,266.79 348.8,266.99 349.7,267.09 350.6,267.45 351.5,267.55 352.4,267.8 353.3,268.32 354.2,268.56 355.1,268.86 356,268.99 356.9,269.49 357.8,269.69 358.7,269.73 359.6,270.2 360.5,270.24 361.4,270.74 362.3,270.84 363.2,271.26 364.1,271.68 365,271.76 365.9,272.18 366.8,272.18 367.7,272.54 368.6,272.88 369.5,273 370.4,273.42 371.3,273.53 372.2,273.9 373.1,274.38 374,274.61 374.9,274.67 375.8,275.24 376.7,275.16 377.6,275.81 378.5,275.8 379.4,276.13 380.3,276.49 381.2,276.68 382.1,276.96 383,277.32 383.9,277.63 384.8,277.99 385.7,278.03 386.6,278.21 387.5,278.69 388.4,278.77 389.3,279.23 390.2,279.56 391.1,279.61 392,279.84 392.9,280.44 393.8,280.41 394.7,280.9 395.6,280.99 396.5,281.46 397.4,281.46 398.3,281.99 399.2,282.31 400.1,282.64 401,282.86 401.9,283.12 402.8,283.08 403.7,283.64 404.6,283.85 405.5,284.05 406.4,284.33 407.3,284.33 408.2,284.88 409.1,284.86 410,285.23 410.9,285.56 411.8,285.77 412.7,285.81 413.6,286.04 414.5,286.1 415.4,286.23 416.3,286.29 417.2,286.35 418.1,286.65 419,286.77 419.9,286.97 420.8,287.51 421.7,287.29 422.6,288.21 423.5,288.05 424.4,288.08 425.3,287.75 426.2,286.67 427.1,285.93 428,285.74 428.9,285.68 429.8,284.95 430.7,284.68 431.6,284.86 432.5,284.33 433.4,283.33 434.3,282.34 435.2,281.44 436.1,280.72 437,280.14 437.9,279.78 438.8,279.51 439.7,279.25 440.6,279.04 441.5,278.83 442.4,277.92 443.3,277.2 444.2,276.11 445.1,275.48 446,273.84 446.9,272.39 447.8,269.44 448.7,267.53 449.6,264.98 450.5,261.97 451.4,258.98 452.3,255.19 453.2,250.38 454.1,245.18 455,240.21" fill="none" stroke="#f52020" stroke-width="0.85"/>
<polyline points="252.5,239.8 253.4,239.24 254.3,237.84 255.2,237.1 256.1,236.76 257,236.53 257.9,235.47 258.8,235.07 259.7,234.99 260.6,234.63 261.5,234.52 262.4,234.59 263.3,234.32 264.2,234.2 265.1,234.8 266,234.18 266.9,234.83 267.8,234.92 268.7,235.2 269.6,234.35 270.5,234.73 271.4,234.74 272.3,235.14 273.2,235.86 274.1,235.72 275,235.7 275.9,236.23 276.8,235.55 277.7,236.27 278.6,236.63 279.5,236.13 280.4,236.92 281.3,236.21 282.2,236.75 283.1,236.72 284,237 284.9,236.94 285.8,237.3 286.7,237.52 287.6,236.78 288.5,237.48 289.4,237.02 290.3,237.73 291.2,237.27 292.1,237.64 293,238.07 293.9,238.36 294.8,238.83 295.7,238.98 296.6,239.88 297.5,239.82 298.4,239.97 299.3,240.51 300.2,240.54 301.1,240.92 302,241.48 302.9,241.86 303.8,242.2 304.7,242.59 305.6,242.72 306.5,243.33 307.4,243.84 308.3,244.18 309.2,244.31 310.1,244.57 311,245.13 311.9,245.5 312.8,245.85 313.7,246.14 314.6,246.72 315.5,246.93 316.4,247.32 317.3,247.66 318.2,248.21 319.1,248.58 320,248.88 320.9,249.02 321.8,249.62 322.7,249.89 323.6,250.37 324.5,250.82 325.4,251.2 326.3,251.28 327.2,251.66 328.1,252.19 329,252.44 329.9,252.81 330.8,253.09 331.7,253.44 332.6,254.02 333.5,254.16 334.4,254.54 335.3,255.06 336.2,255.31 337.1,255.83 338,256.25 338.9,256.67 339.8,256.79 340.7,257.44 341.6,257.85 342.5,257.92 343.4,258.31 344.3,258.79 345.2,259.01 346.1,259.62 347,259.84 347.9,260.14 348.8,260.39 349.7,260.8 350.6,261.14 351.5,261.34 352.4,261.43 353.3,261.7 354.2,262.1 355.1,262.51 356,262.9 356.9,262.93 357.8,263.41 358.7,263.63 359.6,264.22 360.5,264.45 361.4,264.51 362.3,264.83 363.2,265.1 364.1,265.52 365,265.89 365.9,266.14 366.8,266.34 367.7,266.86 368.6,267.07 369.5,267.48 370.4,267.59 371.3,268.2 372.2,268.24 373.1,268.44 374,269.11 374.9,269.19 375.8,269.48 376.7,269.7 377.6,270.11 378.5,270.55 379.4,270.79 380.3,270.88 381.2,271.19 382.1,271.79 383,272.1 383.9,272.4 384.8,272.72 385.7,272.85 386.6,273.27 387.5,273.28 388.4,273.65 389.3,274.16 390.2,274.29 391.1,274.67 392,274.9 392.9,275.3 393.8,275.62 394.7,275.91 395.6,276.12 396.5,276.29 397.4,276.65 398.3,277.14 399.2,277.17 400.1,277.41 401,277.74 401.9,278.03 402.8,278.63 403.7,278.75 404.6,279.2 405.5,279.26 406.4,279.86 407.3,280.02 408.2,280.57 409.1,280.76 410,281.28 410.9,281.76 411.8,281.27 412.7,280.86 413.6,280.18 414.5,279.98 415.4,279.45 416.3,279.02 417.2,278.49 418.1,278.46 419,277.89 419.9,277.56 420.8,277.16 421.7,276.78 422.6,277.28 423.5,276.75 424.4,276.77 425.3,276.54 426.2,276.74 427.1,275.7 428,275.25 428.9,275.56 429.8,275.3 430.7,274 431.6,274.13 432.5,273.43 433.4,272.69 434.3,271.22 435.2,270.54 436.1,270.11 437,269.2 437.9,269.05 438.8,267.7 439.7,267.16 440.6,266.55 441.5,266.23 442.4,265.78 443.3,265.51 444.2,265.24 445.1,264.3 446,263.01 446.9,261.08 447.8,259.5 448.7,258.11 449.6,256.9 450.5,255.09 451.4,252.49 452.3,249.93 453.2,247.05 454.1,243.03 455,240.21" fill="none" stroke="#2424f5" stroke-width="0.85"/>
<polyline points="252.5,239.8 253.4,239.21 254.3,239.89 255.2,239.87 256.1,238.77 257,239.44 257.9,239.37 258.8,239.16 259.7,239.83 260.6,239.66 261.5,240.68 262.4,240.33 263.3,241.33 264.2,241.42 265.1,241.47 266,242.08 266.9,242.21 267.8,242.79 268.7,243.81 269.6,243.36 270.5,243.96 271.4,244.49 272.3,244.87 273.2,244.47 274.1,245 275,244.9 275.9,245.32 276.8,245.4 277.7,246.04 278.6,246.17 279.5,246.52 280.4,247.12 281.3,246.69 282.2,247.59 283.1,247.38 284,247.47 284.9,248.03 285.8,248.79 286.7,248.37 287.6,248.79 288.5,249.52 289.4,249.91 290.3,249.72 291.2,250.55 292.1,250.01 293,250.77 293.9,251.09 294.8,251.54 295.7,251.63 296.6,251.72 297.5,252.66 298.4,252.86 299.3,253.12 300.2,253.57 301.1,253.79 302,254.15 302.9,254.53 303.8,254.78 304.7,255.17 305.6,255.69 306.5,255.67 307.4,256.26 308.3,256.57 309.2,256.92 310.1,257.05 311,257.38 311.9,257.9 312.8,258.28 313.7,258.74 314.6,258.76 315.5,259.39 316.4,259.58 317.3,260 318.2,260.34 319.1,260.67 320,261.08 320.9,261.48 321.8,261.62 322.7,261.86 323.6,262.26 324.5,262.77 325.4,262.92 326.3,263.51 327.2,263.71 328.1,263.88 329,264.19 329.9,264.71 330.8,264.89 331.7,265.37 332.6,265.7 333.5,266.01 334.4,266.19 335.3,266.63 336.2,267.08 337.1,267.32 338,267.69 338.9,268.14 339.8,268.31 340.7,268.64 341.6,269.06 342.5,269.27 343.4,269.97 344.3,270.12 345.2,270.4 346.1,270.82 347,271.19 347.9,271.29 348.8,271.7 349.7,272.07 350.6,272.46 351.5,272.4 352.4,272.95 353.3,273.35 354.2,273.61 355.1,273.9 356,273.96 356.9,274.54 357.8,274.81 358.7,275.18 359.6,275.34 360.5,275.75 361.4,276 362.3,276.15 363.2,276.38 364.1,276.72 365,277.34 365.9,277.51 366.8,277.63 367.7,278.25 368.6,278.49 369.5,278.68 370.4,279.03 371.3,279.19 372.2,279.51 373.1,279.91 374,280.3 374.9,280.61 375.8,280.9 376.7,281.29 377.6,281.35 378.5,281.86 379.4,281.87 380.3,282.28 381.2,282.81 382.1,282.94 383,283.21 383.9,283.73 384.8,283.86 385.7,284.35 386.6,284.36 387.5,284.96 388.4,285.02 389.3,285.19 390.2,285.55 391.1,286.09 392,286.28 392.9,286.74 393.8,286.96 394.7,287.06 395.6,287.39 396.5,288.01 397.4,288.17 398.3,288.37 399.2,288.86 400.1,288.9 401,289.06 401.9,289.4 402.8,289.67 403.7,289.67 404.6,290 405.5,290.33 406.4,290.49 407.3,290.73 408.2,290.66 409.1,290.99 410,291.11 410.9,291.26 411.8,291.39 412.7,291.9 413.6,292.01 414.5,292.02 415.4,292.28 416.3,292.64 417.2,292.76 418.1,293.16 419,293.4 419.9,293.66 420.8,293.83 421.7,294.19 422.6,294.13 423.5,293.91 424.4,294.69 425.3,293.96 426.2,293.32 427.1,293.25 428,292.99 428.9,292.42 429.8,292.82 430.7,291.46 431.6,291.22 432.5,290.61 433.4,290.1 434.3,290.32 435.2,289.86 436.1,289.28 437,288.59 437.9,287.79 438.8,287.45 439.7,287.57 440.6,286.99 441.5,286.51 442.4,286.13 443.3,284.21 444.2,282.95 445.1,281.87 446,280.4 446.9,278.29 447.8,276.22 448.7,274.33 449.6,272.16 450.5,268.76 451.4,264.51 452.3,259.22 453.2,255.09 454.1,249.45 455,243.26" fill="none" stroke="#2ef02e" stroke-width="0.85"/>
<polyline points="252.5,239.8 253.4,239.78 254.3,240.15 255.2,240.59 256.1,241.78 257,241.68 257.9,242.24 258.8,242.53 259.7,243.31 260.6,243.6 261.5,243.67 262.4,244.21 263.3,244.3 264.2,245.04 265.1,245.3 266,245.01 266.9,245.61 267.8,245.84 268.7,245.94 269.6,246.63 270.5,247.25 271.4,246.85 272.3,247.36 273.2,247.62 274.1,247.97 275,247.95 275.9,248.86 276.8,248.79 277.7,249.5 278.6,249.62 279.5,249.85 280.4,250.51 281.3,251.06 282.2,250.99 283.1,251.07 284,251.52 284.9,251.98 285.8,252.11 286.7,252.88 287.6,253.2 288.5,253.38 289.4,253.22 290.3,254.16 291.2,254.58 292.1,254.95 293,255.36 293.9,255.47 294.8,255.53 295.7,255.63 296.6,256.46 297.5,256.78 298.4,257.08 299.3,257.42 300.2,257.58 301.1,258.02 302,258.49 302.9,258.9 303.8,258.98 304.7,259.36 305.6,259.66 306.5,260.24 307.4,260.47 308.3,260.67 309.2,261.15 310.1,261.36 311,262.01 311.9,262.04 312.8,262.75 313.7,262.96 314.6,263.46 315.5,263.5 316.4,263.9 317.3,264.14 318.2,264.55 319.1,264.84 320,265.35 320.9,265.53 321.8,265.97 322.7,266.48 323.6,266.58 324.5,267.16 325.4,267.58 326.3,267.98 327.2,268.17 328.1,268.63 329,268.69 329.9,269.03 330.8,269.67 331.7,270.06 332.6,270.24 333.5,270.73 334.4,270.93 335.3,271.18 336.2,271.75 337.1,272.03 338,272.19 338.9,272.72 339.8,273.11 340.7,273.24 341.6,273.62 342.5,273.94 343.4,274.37 344.3,274.82 345.2,275.06 346.1,275.32 347,275.72 347.9,276.2 348.8,276.5 349.7,276.78 350.6,276.96 351.5,277.36 352.4,277.69 353.3,277.9 354.2,278.51 355.1,278.62 356,279.06 356.9,279.29 357.8,279.51 358.7,280.06 359.6,280.11 360.5,280.77 361.4,280.9 362.3,281.23 363.2,281.68 364.1,281.87 365,282.23 365.9,282.56 366.8,282.77 367.7,283.38 368.6,283.55 369.5,283.71 370.4,284.29 371.3,284.33 372.2,284.91 373.1,285.04 374,285.57 374.9,285.78 375.8,286.11 376.7,286.57 377.6,286.65 378.5,287.05 379.4,287.29 380.3,287.68 381.2,287.99 382.1,288.32 383,288.74 383.9,288.82 384.8,289.46 385.7,289.47 386.6,289.8 387.5,290.27 388.4,290.48 389.3,290.84 390.2,291.19 391.1,291.64 392,291.95 392.9,292.26 393.8,292.6 394.7,292.66 395.6,293.23 396.5,293.53 397.4,293.84 398.3,294.01 399.2,294.46 400.1,294.74 401,295.05 401.9,295.24 402.8,295.51 403.7,295.66 404.6,295.84 405.5,295.8 406.4,296.14 407.3,296.49 408.2,296.55 409.1,296.88 410,296.9 410.9,297.15 411.8,297.18 412.7,297.61 413.6,297.58 414.5,298.01 415.4,297.89 416.3,298.16 417.2,298.53 418.1,298.37 419,298.71 419.9,298.82 420.8,299.25 421.7,298.7 422.6,299.57 423.5,299.07 424.4,299.55 425.3,299.4 426.2,299.92 427.1,300.27 428,299.58 428.9,299.66 429.8,299.97 430.7,299 431.6,298.89 432.5,299.44 433.4,299.43 434.3,298.53 435.2,298.38 436.1,297.18 437,296.82 437.9,295.97 438.8,295.49 439.7,294.68 440.6,293.56 441.5,292.49 442.4,291.21 443.3,290.17 444.2,288.95 445.1,287.15 446,284.55 446.9,283.34 447.8,281.28 448.7,278.11 449.6,274.12 450.5,270.52 451.4,265.69 452.3,260.57 453.2,254.7 454.1,247.03 455,239.56" fill="none" stroke="#b040f5" stroke-width="0.85"/>
<line x1="363.3" y1="238.9" x2="368.9" y2="238.9" stroke="#f52020" stroke-width="0.9"/>
<text x="371.9" y="240.8" font-size="5" font-weight="bold" text-anchor="start" fill="#1a1a1a" stroke="#1a1a1a" stroke-width="0.06">ADIPOGENESIS</text>
<line x1="363.3" y1="246.6" x2="368.9" y2="246.6" stroke="#2424f5" stroke-width="0.9"/>
<text x="371.9" y="248.5" font-size="5" font-weight="bold" text-anchor="start" fill="#1a1a1a" stroke="#1a1a1a" stroke-width="0.06">BILE_ACID_METABOLISM</text>
<line x1="363.3" y1="254" x2="368.9" y2="254" stroke="#2ef02e" stroke-width="0.9"/>
<text x="371.9" y="255.9" font-size="5" font-weight="bold" text-anchor="start" fill="#1a1a1a" stroke="#1a1a1a" stroke-width="0.06">FATTY_ACID_METABOLISM</text>
<line x1="363.3" y1="261.7" x2="368.9" y2="261.7" stroke="#b040f5" stroke-width="0.9"/>
<text x="371.9" y="263.6" font-size="5" font-weight="bold" text-anchor="start" fill="#1a1a1a" stroke="#1a1a1a" stroke-width="0.06">OXIDATIVE_PHOSPHORYLATION</text>
<path d="M262.31 304h0.5v5.8h-0.5zM262.76 304h1.3v5.8h-1.3zM298.29 304h1.3v5.8h-1.3zM303.01 304h1v5.8h-1zM389.26 304h0.8v5.8h-0.8zM413 304h0.5v5.8h-0.5zM415.1 304h0.6v5.8h-0.6zM416.22 304h0.6v5.8h-0.6zM417.61 304h0.6v5.8h-0.6zM427.94 304h0.5v5.8h-0.5zM431.59 304h0.8v5.8h-0.8zM440.2 304h0.5v5.8h-0.5zM440.24 304h0.8v5.8h-0.8zM444.25 304h1v5.8h-1zM450.42 304h1v5.8h-1zM450.56 304h0.5v5.8h-0.5zM453.29 304h1v5.8h-1zM454.05 304h1.3v5.8h-1.3z" fill="#2b2bf0" fill-opacity="0.87"/>
<path d="M262.61 304h0.6v5.8h-0.6zM283.1 304h0.8v5.8h-0.8zM296.86 304h0.5v5.8h-0.5zM312.61 304h0.8v5.8h-0.8zM350.94 304h0.6v5.8h-0.6zM391.7 304h0.8v5.8h-0.8zM417.22 304h1v5.8h-1zM423.39 304h0.8v5.8h-0.8zM428.17 304h1.3v5.8h-1.3zM434.3 304h0.5v5.8h-0.5zM436.17 304h0.6v5.8h-0.6zM442.19 304h0.5v5.8h-0.5zM447.11 304h0.8v5.8h-0.8z" fill="#2b2bf0" fill-opacity="1.13"/>
<path d="M267.6 304h0.5v5.8h-0.5zM294.15 304h0.8v5.8h-0.8zM303.09 304h0.8v5.8h-0.8zM304.61 304h0.8v5.8h-0.8zM337.94 304h0.5v5.8h-0.5zM350.87 304h1.3v5.8h-1.3zM352.71 304h1v5.8h-1zM379.96 304h0.6v5.8h-0.6zM395.49 304h1v5.8h-1zM395.54 304h1.3v5.8h-1.3zM410.35 304h1v5.8h-1zM412.53 304h1.3v5.8h-1.3zM414.5 304h1v5.8h-1zM426.49 304h0.8v5.8h-0.8zM426.92 304h1.3v5.8h-1.3zM436.91 304h1v5.8h-1zM437.93 304h0.5v5.8h-0.5zM440.93 304h1.3v5.8h-1.3zM441.05 304h0.5v5.8h-0.5zM451.89 304h0.5v5.8h-0.5z" fill="#2b2bf0" fill-opacity="0.62"/>
<path d="M309.35 304h0.8v5.8h-0.8zM310.68 304h0.8v5.8h-0.8zM324.17 304h0.8v5.8h-0.8zM329.43 304h0.8v5.8h-0.8zM340.28 304h1v5.8h-1zM353.03 304h0.8v5.8h-0.8zM386.99 304h1.3v5.8h-1.3zM389.98 304h0.8v5.8h-0.8zM390.97 304h0.6v5.8h-0.6zM410.16 304h0.5v5.8h-0.5zM413.6 304h0.6v5.8h-0.6zM426.33 304h0.6v5.8h-0.6zM442.13 304h1.3v5.8h-1.3zM444.03 304h0.8v5.8h-0.8zM444.65 304h1.3v5.8h-1.3zM450.23 304h1.3v5.8h-1.3zM451 304h1v5.8h-1z" fill="#2b2bf0" fill-opacity="0.44"/>
<path d="M254.14 310.1h1.3v5.8h-1.3zM304.98 310.1h0.6v5.8h-0.6zM312.61 310.1h0.8v5.8h-0.8zM331.49 310.1h1.3v5.8h-1.3zM332.21 310.1h0.5v5.8h-0.5zM332.46 310.1h0.5v5.8h-0.5zM340 310.1h0.6v5.8h-0.6zM352.3 310.1h1v5.8h-1zM353.81 310.1h1.3v5.8h-1.3zM379.58 310.1h1v5.8h-1zM381.78 310.1h0.5v5.8h-0.5zM392.6 310.1h1.3v5.8h-1.3zM397.58 310.1h1v5.8h-1zM397.62 310.1h1.3v5.8h-1.3zM410.26 310.1h0.6v5.8h-0.6zM410.51 310.1h1v5.8h-1zM411.23 310.1h1v5.8h-1zM423.51 310.1h1.3v5.8h-1.3zM424.39 310.1h0.8v5.8h-0.8zM424.74 310.1h0.8v5.8h-0.8zM435.44 310.1h0.5v5.8h-0.5zM435.97 310.1h0.8v5.8h-0.8zM440.24 310.1h1.3v5.8h-1.3zM440.71 310.1h0.8v5.8h-0.8zM442.16 310.1h0.5v5.8h-0.5zM443.84 310.1h1v5.8h-1zM449.22 310.1h1v5.8h-1zM450.24 310.1h0.6v5.8h-0.6zM453.93 310.1h1.3v5.8h-1.3z" fill="#2ee82e" fill-opacity="0.98"/>
<path d="M255.39 310.1h1.3v5.8h-1.3zM313.52 310.1h0.8v5.8h-0.8zM330.11 310.1h0.5v5.8h-0.5zM335.8 310.1h0.5v5.8h-0.5zM343.57 310.1h0.8v5.8h-0.8zM386.11 310.1h1v5.8h-1zM386.17 310.1h0.6v5.8h-0.6zM388.46 310.1h0.8v5.8h-0.8zM393.14 310.1h1.3v5.8h-1.3zM399.17 310.1h0.8v5.8h-0.8zM400.07 310.1h1.3v5.8h-1.3zM400.18 310.1h0.6v5.8h-0.6zM423.19 310.1h0.8v5.8h-0.8zM425.7 310.1h0.6v5.8h-0.6zM426.47 310.1h0.5v5.8h-0.5zM431.05 310.1h1v5.8h-1zM433.81 310.1h1.3v5.8h-1.3zM437.03 310.1h0.6v5.8h-0.6zM439.13 310.1h0.8v5.8h-0.8zM444.63 310.1h0.6v5.8h-0.6zM452.48 310.1h1v5.8h-1zM453.78 310.1h1.3v5.8h-1.3z" fill="#2ee82e" fill-opacity="0.76"/>
<path d="M257.38 310.1h0.5v5.8h-0.5zM282.11 310.1h0.6v5.8h-0.6zM309.89 310.1h1v5.8h-1zM310.7 310.1h0.8v5.8h-0.8zM310.77 310.1h0.8v5.8h-0.8zM312.05 310.1h1.3v5.8h-1.3zM312.39 310.1h1v5.8h-1zM312.99 310.1h0.8v5.8h-0.8zM317.53 310.1h1.3v5.8h-1.3zM330.52 310.1h1v5.8h-1zM331.52 310.1h0.5v5.8h-0.5zM336.49 310.1h0.5v5.8h-0.5zM345.58 310.1h1v5.8h-1zM345.71 310.1h0.8v5.8h-0.8zM347.94 310.1h0.5v5.8h-0.5zM352.12 310.1h0.6v5.8h-0.6zM353.74 310.1h1.3v5.8h-1.3zM387.91 310.1h0.8v5.8h-0.8zM388.33 310.1h0.8v5.8h-0.8zM390.27 310.1h0.8v5.8h-0.8zM390.5 310.1h0.6v5.8h-0.6zM390.64 310.1h1.3v5.8h-1.3zM395.02 310.1h1.3v5.8h-1.3zM413.55 310.1h0.5v5.8h-0.5zM423.25 310.1h1.3v5.8h-1.3zM432.95 310.1h0.8v5.8h-0.8zM435.8 310.1h0.6v5.8h-0.6zM437.51 310.1h0.6v5.8h-0.6zM438.23 310.1h0.6v5.8h-0.6zM442.92 310.1h1v5.8h-1zM449.18 310.1h0.5v5.8h-0.5zM452.41 310.1h1.3v5.8h-1.3zM455.2 310.1h0.6v5.8h-0.6z" fill="#2ee82e" fill-opacity="0.38"/>
<path d="M304.38 310.1h1v5.8h-1zM304.45 310.1h1.3v5.8h-1.3zM333.59 310.1h0.8v5.8h-0.8zM338.17 310.1h1v5.8h-1zM343.19 310.1h0.6v5.8h-0.6zM344.93 310.1h0.5v5.8h-0.5zM346.77 310.1h0.8v5.8h-0.8zM351.59 310.1h0.6v5.8h-0.6zM387.96 310.1h1v5.8h-1zM391.27 310.1h0.8v5.8h-0.8zM391.86 310.1h1.3v5.8h-1.3zM399.07 310.1h0.5v5.8h-0.5zM416.34 310.1h0.5v5.8h-0.5zM428.88 310.1h0.6v5.8h-0.6zM432.54 310.1h0.8v5.8h-0.8zM435.1 310.1h1v5.8h-1zM437.57 310.1h1v5.8h-1zM441.58 310.1h0.6v5.8h-0.6zM442.53 310.1h0.5v5.8h-0.5zM442.59 310.1h0.5v5.8h-0.5zM446.62 310.1h0.5v5.8h-0.5zM448.33 310.1h0.6v5.8h-0.6zM448.45 310.1h0.5v5.8h-0.5zM449.22 310.1h1v5.8h-1zM451.2 310.1h0.5v5.8h-0.5zM451.34 310.1h0.6v5.8h-0.6z" fill="#2ee82e" fill-opacity="0.54"/>
<path d="M253.14 316.2h0.5v5.8h-0.5zM259.44 316.2h0.8v5.8h-0.8zM260.95 316.2h0.5v5.8h-0.5zM262.02 316.2h0.5v5.8h-0.5zM262.97 316.2h0.5v5.8h-0.5zM284.8 316.2h0.6v5.8h-0.6zM319.1 316.2h0.5v5.8h-0.5zM324.92 316.2h0.8v5.8h-0.8zM340.19 316.2h1v5.8h-1zM344.92 316.2h0.6v5.8h-0.6zM345.57 316.2h0.5v5.8h-0.5zM347.82 316.2h0.6v5.8h-0.6zM349.67 316.2h1.3v5.8h-1.3zM380.76 316.2h1v5.8h-1zM381.62 316.2h0.8v5.8h-0.8zM387.66 316.2h1.3v5.8h-1.3zM395.28 316.2h0.5v5.8h-0.5zM396.33 316.2h1.3v5.8h-1.3zM399.4 316.2h0.5v5.8h-0.5zM411.48 316.2h1v5.8h-1zM411.69 316.2h0.8v5.8h-0.8zM414.98 316.2h1.3v5.8h-1.3zM425.28 316.2h0.5v5.8h-0.5zM426.89 316.2h1v5.8h-1zM428.53 316.2h1v5.8h-1zM431.81 316.2h1v5.8h-1zM437.79 316.2h0.6v5.8h-0.6zM444.39 316.2h1.3v5.8h-1.3zM450.11 316.2h0.8v5.8h-0.8zM450.59 316.2h0.5v5.8h-0.5zM453.21 316.2h1v5.8h-1z" fill="#ee2a2a" fill-opacity="0.62"/>
<path d="M261.59 316.2h1.3v5.8h-1.3zM276.29 316.2h0.5v5.8h-0.5zM284.48 316.2h0.6v5.8h-0.6zM285.42 316.2h0.6v5.8h-0.6zM288.5 316.2h1v5.8h-1zM288.88 316.2h1.3v5.8h-1.3zM306.89 316.2h1v5.8h-1zM308.68 316.2h1v5.8h-1zM308.87 316.2h0.5v5.8h-0.5zM314.31 316.2h1v5.8h-1zM331.62 316.2h1.3v5.8h-1.3zM339.67 316.2h0.5v5.8h-0.5zM340.17 316.2h0.5v5.8h-0.5zM343.55 316.2h0.5v5.8h-0.5zM350.93 316.2h1v5.8h-1zM378.64 316.2h1.3v5.8h-1.3zM383.93 316.2h0.5v5.8h-0.5zM391.69 316.2h0.5v5.8h-0.5zM397.22 316.2h0.8v5.8h-0.8zM397.48 316.2h1v5.8h-1zM400.62 316.2h1v5.8h-1zM411.94 316.2h1v5.8h-1zM415.38 316.2h0.8v5.8h-0.8zM416.33 316.2h0.8v5.8h-0.8zM427.46 316.2h0.5v5.8h-0.5zM435.25 316.2h0.6v5.8h-0.6zM436.47 316.2h0.8v5.8h-0.8zM440.2 316.2h0.5v5.8h-0.5zM442.55 316.2h1.3v5.8h-1.3zM444.56 316.2h1v5.8h-1zM447.39 316.2h1.3v5.8h-1.3zM449.48 316.2h0.6v5.8h-0.6zM450.32 316.2h1.3v5.8h-1.3zM452.39 316.2h0.5v5.8h-0.5z" fill="#ee2a2a" fill-opacity="0.44"/>
<path d="M261.69 316.2h0.6v5.8h-0.6zM283.6 316.2h0.8v5.8h-0.8zM287 316.2h0.8v5.8h-0.8zM307.5 316.2h0.5v5.8h-0.5zM309.9 316.2h1v5.8h-1zM311.35 316.2h0.5v5.8h-0.5zM312.17 316.2h1.3v5.8h-1.3zM314.45 316.2h0.8v5.8h-0.8zM316.61 316.2h0.8v5.8h-0.8zM317.22 316.2h1.3v5.8h-1.3zM332.89 316.2h1.3v5.8h-1.3zM333.42 316.2h0.5v5.8h-0.5zM352.69 316.2h1.3v5.8h-1.3zM353.3 316.2h1v5.8h-1zM354.64 316.2h1.3v5.8h-1.3zM379.27 316.2h0.8v5.8h-0.8zM380.25 316.2h1v5.8h-1zM381.96 316.2h0.6v5.8h-0.6zM382.11 316.2h0.5v5.8h-0.5zM383.8 316.2h1.3v5.8h-1.3zM390.64 316.2h1.3v5.8h-1.3zM391.17 316.2h1.3v5.8h-1.3zM393.16 316.2h0.6v5.8h-0.6zM394.6 316.2h1v5.8h-1zM400.56 316.2h0.5v5.8h-0.5zM400.74 316.2h0.5v5.8h-0.5zM411.54 316.2h1.3v5.8h-1.3zM416.5 316.2h0.6v5.8h-0.6zM417.62 316.2h1v5.8h-1zM426.68 316.2h1.3v5.8h-1.3zM432.31 316.2h1v5.8h-1zM434.5 316.2h0.6v5.8h-0.6zM434.6 316.2h0.5v5.8h-0.5zM436.03 316.2h0.6v5.8h-0.6zM437.12 316.2h0.6v5.8h-0.6zM437.96 316.2h0.8v5.8h-0.8zM439.22 316.2h1.3v5.8h-1.3zM439.39 316.2h1.3v5.8h-1.3zM439.99 316.2h0.5v5.8h-0.5zM445.38 316.2h0.6v5.8h-0.6zM446.97 316.2h0.8v5.8h-0.8zM450.9 316.2h1v5.8h-1zM452.38 316.2h0.8v5.8h-0.8zM452.61 316.2h1.3v5.8h-1.3z" fill="#ee2a2a" fill-opacity="0.87"/>
<path d="M262.13 316.2h0.6v5.8h-0.6zM285.23 316.2h1v5.8h-1zM285.5 316.2h0.6v5.8h-0.6zM306.12 316.2h0.6v5.8h-0.6zM307.54 316.2h1.3v5.8h-1.3zM315.8 316.2h1v5.8h-1zM317.02 316.2h0.6v5.8h-0.6zM318.67 316.2h0.8v5.8h-0.8zM325.73 316.2h0.8v5.8h-0.8zM336.63 316.2h0.6v5.8h-0.6zM339.33 316.2h1.3v5.8h-1.3zM345.97 316.2h0.5v5.8h-0.5zM353.73 316.2h0.8v5.8h-0.8zM381.01 316.2h0.6v5.8h-0.6zM382.19 316.2h0.6v5.8h-0.6zM384.14 316.2h0.8v5.8h-0.8zM389.88 316.2h1v5.8h-1zM393.46 316.2h0.8v5.8h-0.8zM396.8 316.2h0.8v5.8h-0.8zM399.78 316.2h1.3v5.8h-1.3zM400.01 316.2h1.3v5.8h-1.3zM415.94 316.2h1.3v5.8h-1.3zM416.98 316.2h1.3v5.8h-1.3zM423.03 316.2h0.5v5.8h-0.5zM424.59 316.2h1v5.8h-1zM427.44 316.2h1v5.8h-1zM431.24 316.2h0.6v5.8h-0.6zM433.82 316.2h0.5v5.8h-0.5zM436.85 316.2h0.8v5.8h-0.8zM437.19 316.2h0.6v5.8h-0.6zM439 316.2h1v5.8h-1zM446.76 316.2h1v5.8h-1zM452.26 316.2h0.8v5.8h-0.8zM455.77 316.2h0.5v5.8h-0.5z" fill="#ee2a2a" fill-opacity="1.13"/>
<path d="M274.93 322.3h0.5v5.8h-0.5zM298.2 322.3h0.6v5.8h-0.6zM312.24 322.3h0.8v5.8h-0.8zM314.92 322.3h1.3v5.8h-1.3zM316.05 322.3h0.6v5.8h-0.6zM316.67 322.3h0.6v5.8h-0.6zM319.06 322.3h0.8v5.8h-0.8zM320.07 322.3h0.8v5.8h-0.8zM330.53 322.3h0.8v5.8h-0.8zM331.42 322.3h0.6v5.8h-0.6zM336.89 322.3h0.6v5.8h-0.6zM352.5 322.3h0.8v5.8h-0.8zM384.65 322.3h1v5.8h-1zM386.52 322.3h1v5.8h-1zM388.55 322.3h0.5v5.8h-0.5zM391.5 322.3h1.3v5.8h-1.3zM397.61 322.3h1v5.8h-1zM416.17 322.3h1.3v5.8h-1.3zM417.41 322.3h0.8v5.8h-0.8zM425.05 322.3h1.3v5.8h-1.3zM426.99 322.3h1.3v5.8h-1.3zM427.1 322.3h1v5.8h-1zM429.69 322.3h1v5.8h-1zM430.98 322.3h0.8v5.8h-0.8zM431.88 322.3h0.5v5.8h-0.5zM433.28 322.3h1v5.8h-1zM441.07 322.3h1.3v5.8h-1.3zM444.39 322.3h0.6v5.8h-0.6zM449.33 322.3h1v5.8h-1zM449.66 322.3h1v5.8h-1zM452.06 322.3h1v5.8h-1zM455.02 322.3h0.6v5.8h-0.6z" fill="#b54cf0" fill-opacity="0.62"/>
<path d="M275.21 322.3h1.3v5.8h-1.3zM286.57 322.3h1v5.8h-1zM303.46 322.3h0.5v5.8h-0.5zM308 322.3h1v5.8h-1zM308.85 322.3h1.3v5.8h-1.3zM312.68 322.3h0.8v5.8h-0.8zM336.64 322.3h1v5.8h-1zM342.67 322.3h0.5v5.8h-0.5zM345.35 322.3h0.6v5.8h-0.6zM348.09 322.3h1v5.8h-1zM348.11 322.3h0.5v5.8h-0.5zM395.29 322.3h1.3v5.8h-1.3zM399.7 322.3h0.6v5.8h-0.6zM399.73 322.3h0.5v5.8h-0.5zM413.56 322.3h0.6v5.8h-0.6zM413.61 322.3h1.3v5.8h-1.3zM413.86 322.3h1.3v5.8h-1.3zM414.24 322.3h0.8v5.8h-0.8zM414.96 322.3h0.8v5.8h-0.8zM423.62 322.3h0.6v5.8h-0.6zM426.03 322.3h1.3v5.8h-1.3zM426.08 322.3h1.3v5.8h-1.3zM434.7 322.3h0.5v5.8h-0.5zM435.91 322.3h1.3v5.8h-1.3zM436.38 322.3h0.8v5.8h-0.8zM436.62 322.3h1.3v5.8h-1.3zM443.71 322.3h1v5.8h-1zM444.21 322.3h0.6v5.8h-0.6zM446.61 322.3h1.3v5.8h-1.3zM447.82 322.3h0.8v5.8h-0.8zM447.86 322.3h1.3v5.8h-1.3zM448.5 322.3h1v5.8h-1z" fill="#b54cf0" fill-opacity="0.87"/>
<path d="M292.69 322.3h0.8v5.8h-0.8zM293.06 322.3h0.5v5.8h-0.5zM303.75 322.3h0.8v5.8h-0.8zM313.83 322.3h1.3v5.8h-1.3zM315.95 322.3h1.3v5.8h-1.3zM324.96 322.3h0.6v5.8h-0.6zM331.29 322.3h1.3v5.8h-1.3zM331.9 322.3h0.8v5.8h-0.8zM331.93 322.3h1v5.8h-1zM334.45 322.3h1v5.8h-1zM336.94 322.3h0.8v5.8h-0.8zM342.29 322.3h1.3v5.8h-1.3zM348.8 322.3h0.6v5.8h-0.6zM349.18 322.3h1.3v5.8h-1.3zM351.86 322.3h0.6v5.8h-0.6zM381.81 322.3h0.5v5.8h-0.5zM383.15 322.3h0.6v5.8h-0.6zM388.36 322.3h0.6v5.8h-0.6zM390.95 322.3h0.6v5.8h-0.6zM392.25 322.3h0.5v5.8h-0.5zM396.04 322.3h1v5.8h-1zM398.71 322.3h0.5v5.8h-0.5zM410.59 322.3h0.8v5.8h-0.8zM412.87 322.3h1v5.8h-1zM414.49 322.3h1.3v5.8h-1.3zM414.55 322.3h0.5v5.8h-0.5zM415.07 322.3h0.5v5.8h-0.5zM415.19 322.3h0.5v5.8h-0.5zM416.47 322.3h0.6v5.8h-0.6zM417.93 322.3h0.5v5.8h-0.5zM423.2 322.3h1v5.8h-1zM424.71 322.3h0.5v5.8h-0.5zM428.85 322.3h0.5v5.8h-0.5zM429.51 322.3h0.8v5.8h-0.8zM430.31 322.3h0.6v5.8h-0.6zM431.18 322.3h0.8v5.8h-0.8zM433.56 322.3h1.3v5.8h-1.3zM435.31 322.3h1v5.8h-1zM436.61 322.3h1v5.8h-1zM441.06 322.3h0.6v5.8h-0.6zM441.2 322.3h1v5.8h-1zM441.39 322.3h0.8v5.8h-0.8zM443.56 322.3h1v5.8h-1zM443.65 322.3h0.8v5.8h-0.8zM443.95 322.3h1.3v5.8h-1.3zM446.31 322.3h0.8v5.8h-0.8zM447.53 322.3h1v5.8h-1zM447.59 322.3h0.8v5.8h-0.8zM450.03 322.3h1v5.8h-1zM450.23 322.3h1.3v5.8h-1.3zM455.47 322.3h1v5.8h-1z" fill="#b54cf0" fill-opacity="0.44"/>
<path d="M317.59 322.3h0.8v5.8h-0.8zM330.05 322.3h1v5.8h-1zM331.51 322.3h1v5.8h-1zM337.6 322.3h1.3v5.8h-1.3zM347.79 322.3h1.3v5.8h-1.3zM348.49 322.3h0.8v5.8h-0.8zM352.06 322.3h0.8v5.8h-0.8zM384.87 322.3h0.5v5.8h-0.5zM392.62 322.3h0.8v5.8h-0.8zM394.62 322.3h1v5.8h-1zM412.52 322.3h1v5.8h-1zM426.62 322.3h1.3v5.8h-1.3zM427.73 322.3h0.8v5.8h-0.8zM431.79 322.3h0.6v5.8h-0.6zM432.66 322.3h1.3v5.8h-1.3zM432.69 322.3h1v5.8h-1zM434.18 322.3h0.6v5.8h-0.6zM436.15 322.3h0.8v5.8h-0.8zM443.5 322.3h0.5v5.8h-0.5zM445.24 322.3h0.6v5.8h-0.6zM446.89 322.3h1v5.8h-1zM453.29 322.3h0.8v5.8h-0.8zM454.75 322.3h0.8v5.8h-0.8z" fill="#b54cf0" fill-opacity="1.13"/>
<line x1="252.5" y1="328" x2="252.5" y2="377" stroke="#333" stroke-width="0.6"/>
<line x1="252.5" y1="377" x2="456" y2="377" stroke="#777" stroke-width="0.8"/>
<text x="250.9" y="330.35" font-size="2.9" text-anchor="end" fill="#555" stroke="#555" stroke-width="0.06">4</text>
<line x1="251.3" y1="329.3" x2="252.5" y2="329.3" stroke="#555" stroke-width="0.35"/>
<text x="250.9" y="339.05" font-size="2.9" text-anchor="end" fill="#555" stroke="#555" stroke-width="0.06">3</text>
<line x1="251.3" y1="338" x2="252.5" y2="338" stroke="#555" stroke-width="0.35"/>
<text x="250.9" y="347.75" font-size="2.9" text-anchor="end" fill="#555" stroke="#555" stroke-width="0.06">2</text>
<line x1="251.3" y1="346.7" x2="252.5" y2="346.7" stroke="#555" stroke-width="0.35"/>
<text x="250.9" y="356.45" font-size="2.9" text-anchor="end" fill="#555" stroke="#555" stroke-width="0.06">1</text>
<line x1="251.3" y1="355.4" x2="252.5" y2="355.4" stroke="#555" stroke-width="0.35"/>
<text x="250.9" y="365.15" font-size="2.9" text-anchor="end" fill="#555" stroke="#555" stroke-width="0.06">0</text>
<line x1="251.3" y1="364.1" x2="252.5" y2="364.1" stroke="#555" stroke-width="0.35"/>
<text x="250.9" y="373.85" font-size="2.9" text-anchor="end" fill="#555" stroke="#555" stroke-width="0.06">−1</text>
<line x1="251.3" y1="372.8" x2="252.5" y2="372.8" stroke="#555" stroke-width="0.35"/>
<polyline points="252.5,364.1 252.5,346.6 252.9,351.79 253.3,354.24 253.7,355.46 254.1,356.12 254.5,356.52 254.9,356.82 255.3,357.05 255.7,357.26 256.1,357.45 256.5,357.63 256.9,357.81 257.3,357.98 257.7,358.15 258.1,358.31 258.5,358.46 258.9,358.61 259.3,358.76 259.7,358.9 260.1,359.04 260.5,359.18 260.9,359.31 261.3,359.44 261.7,359.56 262.1,359.69 262.5,359.8 262.9,359.92 263.3,360.03 263.7,360.14 264.1,360.24 264.5,360.35 264.9,360.45 265.3,360.54 265.7,360.64 266.1,360.73 266.5,360.82 266.9,360.91 267.3,360.99 267.7,361.08 268.1,361.16 268.5,361.23 268.9,361.31 269.3,361.38 269.7,361.46 270.1,361.53 270.5,361.59 270.9,361.66 271.3,361.72 271.7,361.79 272.1,361.85 272.5,361.91 272.9,361.97 273.3,362.02 273.7,362.08 274.1,362.13 274.5,362.18 274.9,362.23 275.3,362.28 275.7,362.33 276.1,362.38 276.5,362.42 276.9,362.47 277.3,362.51 277.7,362.55 278.1,362.6 278.5,362.64 278.9,362.67 279.3,362.71 279.7,362.75 280.1,362.79 280.5,362.82 280.9,362.86 281.3,362.89 281.7,362.92 282.1,362.95 282.5,362.98 282.9,363.01 283.3,363.04 283.7,363.07 284.1,363.1 284.5,363.13 284.9,363.15 285.3,363.18 285.7,363.21 286.1,363.23 286.5,363.25 286.9,363.28 287.3,363.3 287.7,363.32 288.1,363.34 288.5,363.37 288.9,363.39 289.3,363.41 289.7,363.43 290.1,363.45 290.5,363.46 290.9,363.48 291.3,363.5 291.7,363.52 292.1,363.54 292.5,363.55 292.9,363.57 293.3,363.58 293.7,363.6 294.1,363.62 294.5,363.63 294.9,363.64 295.3,363.66 295.7,363.67 296.1,363.69 296.5,363.7 296.9,363.71 297.3,363.72 297.7,363.74 298.1,363.75 298.5,363.76 298.9,363.77 299.3,363.78 299.7,363.79 300.1,363.81 300.5,363.82 300.9,363.83 301.3,363.84 301.7,363.85 302.1,363.85 302.5,363.86 302.9,363.87 303.3,363.88 303.7,363.89 304.1,363.9 304.5,363.91 304.9,363.92 305.3,363.92 305.7,363.93 306.1,363.94 306.5,363.95 306.9,363.95 307.3,363.96 307.7,363.97 308.1,363.97 308.5,363.98 308.9,363.99 309.3,363.99 309.7,364 310.1,364.01 310.5,364.01 310.9,364.02 311.3,364.02 311.7,364.03 312.1,364.03 312.5,364.04 312.9,364.04 313.3,364.05 313.7,364.05 314.1,364.06 314.5,364.06 314.9,364.07 315.3,364.07 315.7,364.08 316.1,364.08 316.5,364.09 316.9,364.09 317.3,364.09 317.7,364.1 317.7,364.1 252.5,364.1" fill="#bdbdbd" stroke="none" stroke-width="0"/>
<polyline points="380,364.1 380,364.27 380.3,364.28 380.6,364.28 380.9,364.29 381.2,364.29 381.5,364.3 381.8,364.31 382.1,364.31 382.4,364.32 382.7,364.32 383,364.33 383.3,364.33 383.6,364.34 383.9,364.34 384.2,364.35 384.5,364.35 384.8,364.36 385.1,364.36 385.4,364.37 385.7,364.37 386,364.38 386.3,364.38 386.6,364.39 386.9,364.39 387.2,364.4 387.5,364.4 387.8,364.41 388.1,364.42 388.4,364.42 388.7,364.43 389,364.43 389.3,364.44 389.6,364.44 389.9,364.45 390.2,364.45 390.5,364.46 390.8,364.46 391.1,364.47 391.4,364.47 391.7,364.48 392,364.48 392.3,364.49 392.6,364.49 392.9,364.5 393.2,364.5 393.5,364.51 393.8,364.52 394.1,364.52 394.4,364.53 394.7,364.53 395,364.54 395.3,364.54 395.6,364.55 395.9,364.55 396.2,364.56 396.5,364.56 396.8,364.57 397.1,364.57 397.4,364.58 397.7,364.59 398,364.59 398.3,364.6 398.6,364.6 398.9,364.61 399.2,364.61 399.5,364.62 399.8,364.62 400.1,364.63 400.4,364.64 400.7,364.64 401,364.65 401.3,364.65 401.6,364.66 401.9,364.66 402.2,364.67 402.5,364.68 402.8,364.68 403.1,364.69 403.4,364.69 403.7,364.7 404,364.71 404.3,364.71 404.6,364.72 404.9,364.72 405.2,364.73 405.5,364.74 405.8,364.74 406.1,364.75 406.4,364.76 406.7,364.76 407,364.77 407.3,364.78 407.6,364.78 407.9,364.79 408.2,364.8 408.5,364.8 408.8,364.81 409.1,364.82 409.4,364.83 409.7,364.83 410,364.84 410.3,364.85 410.6,364.86 410.9,364.86 411.2,364.87 411.5,364.88 411.8,364.89 412.1,364.9 412.4,364.9 412.7,364.91 413,364.92 413.3,364.93 413.6,364.94 413.9,364.95 414.2,364.95 414.5,364.96 414.8,364.97 415.1,364.98 415.4,364.99 415.7,365 416,365.01 416.3,365.02 416.6,365.03 416.9,365.04 417.2,365.05 417.5,365.06 417.8,365.07 418.1,365.08 418.4,365.1 418.7,365.11 419,365.12 419.3,365.13 419.6,365.14 419.9,365.15 420.2,365.17 420.5,365.18 420.8,365.19 421.1,365.2 421.4,365.22 421.7,365.23 422,365.24 422.3,365.26 422.6,365.27 422.9,365.29 423.2,365.3 423.5,365.32 423.8,365.33 424.1,365.35 424.4,365.36 424.7,365.38 425,365.4 425.3,365.41 425.6,365.43 425.9,365.45 426.2,365.46 426.5,365.48 426.8,365.5 427.1,365.52 427.4,365.54 427.7,365.56 428,365.58 428.3,365.6 428.6,365.62 428.9,365.64 429.2,365.66 429.5,365.68 429.8,365.7 430.1,365.72 430.4,365.75 430.7,365.77 431,365.79 431.3,365.82 431.6,365.84 431.9,365.87 432.2,365.89 432.5,365.92 432.8,365.94 433.1,365.97 433.4,366 433.7,366.03 434,366.06 434.3,366.08 434.6,366.11 434.9,366.14 435.2,366.17 435.5,366.2 435.8,366.24 436.1,366.27 436.4,366.3 436.7,366.33 437,366.37 437.3,366.4 437.6,366.44 437.9,366.47 438.2,366.51 438.5,366.55 438.8,366.59 439.1,366.62 439.4,366.66 439.7,366.7 440,366.74 440.3,366.78 440.6,366.83 440.9,366.87 441.2,366.91 441.5,366.96 441.8,367 442.1,367.05 442.4,367.09 442.7,367.14 443,367.19 443.3,367.24 443.6,367.29 443.9,367.34 444.2,367.39 444.5,367.44 444.8,367.5 445.1,367.55 445.4,367.61 445.7,367.66 446,367.72 446.3,367.78 446.6,367.84 446.9,367.9 447.2,367.97 447.5,368.03 447.8,368.1 448.1,368.16 448.4,368.23 448.7,368.31 449,368.38 449.3,368.46 449.6,368.54 449.9,368.63 450.2,368.72 450.5,368.81 450.8,368.91 451.1,369.02 451.4,369.14 451.7,369.27 452,369.41 452.3,369.57 452.6,369.75 452.9,369.95 453.2,370.17 453.5,370.44 453.8,370.74 454.1,371.09 454.4,371.49 454.7,371.97 455,372.54 455,364.1" fill="#bdbdbd" stroke="none" stroke-width="0"/>
<line x1="289" y1="377" x2="289" y2="378.2" stroke="#555" stroke-width="0.35"/>
<text x="289" y="381.8" font-size="3.6" text-anchor="middle" fill="#4d4d4d" stroke="#4d4d4d" stroke-width="0.07">10000</text>
<line x1="343.6" y1="377" x2="343.6" y2="378.2" stroke="#555" stroke-width="0.35"/>
<text x="343.6" y="381.8" font-size="3.6" text-anchor="middle" fill="#4d4d4d" stroke="#4d4d4d" stroke-width="0.07">20000</text>
<line x1="398.5" y1="377" x2="398.5" y2="378.2" stroke="#555" stroke-width="0.35"/>
<text x="398.5" y="381.8" font-size="3.6" text-anchor="middle" fill="#4d4d4d" stroke="#4d4d4d" stroke-width="0.07">30000</text>
<line x1="453.7" y1="377" x2="453.7" y2="378.2" stroke="#555" stroke-width="0.35"/>
<text x="453.7" y="381.8" font-size="3.6" text-anchor="middle" fill="#4d4d4d" stroke="#4d4d4d" stroke-width="0.07">40000</text>
<text x="360.6" y="387.3" font-size="4.16" text-anchor="middle" fill="#1a1a1a" stroke="#1a1a1a" stroke-width="0.08">Rank in Ordered Dataset</text>
<text x="244" y="263.9" font-size="4.39" text-anchor="middle" fill="#1a1a1a" stroke="#1a1a1a" stroke-width="0.09" transform="rotate(-90 244 263.9)">Running Enrichment Score</text>
<text x="244" y="349.6" font-size="4.35" text-anchor="middle" fill="#1a1a1a" stroke="#1a1a1a" stroke-width="0.09" transform="rotate(-90 244 349.6)">Ranked List Metric</text>
<text x="465.3" y="224.5" font-size="14.5" text-anchor="start" fill="#1a1a1a" stroke="#1a1a1a" stroke-width="0.17">e</text>
<text x="477.9" y="235.9" font-size="5.94" font-weight="bold" text-anchor="start" fill="#1a1a1a" stroke="#1a1a1a" stroke-width="0.07">Relationship between Clinical−radiomics score and Ki−67 labeling index</text>
<text x="477.9" y="243.9" font-size="5.4" fill="#1a1a1a"><tspan font-style="italic">S</tspan> = 6.93e+05, <tspan font-style="italic">p</tspan> = 2.03e−05, <tspan font-style="italic">ρ̂</tspan><tspan font-size="3.6" dy="1.2" font-style="italic">Spearman</tspan><tspan dy="-1.2"> = 0.31, CI</tspan><tspan font-size="3.6" dy="1.2">95%</tspan><tspan dy="-1.2"> [0.17, 0.44], </tspan><tspan font-style="italic">n</tspan><tspan font-size="3.6" dy="1.2" font-style="italic">pairs</tspan><tspan dy="-1.2"> = 182</tspan></text>
<line x1="497.6" y1="261" x2="497.6" y2="372.5" stroke="#ececec" stroke-width="0.5"/>
<line x1="497.6" y1="244" x2="497.6" y2="259" stroke="#f3f3f3" stroke-width="0.4"/>
<line x1="519.93" y1="261" x2="519.93" y2="372.5" stroke="#f5f5f5" stroke-width="0.5"/>
<line x1="519.93" y1="244" x2="519.93" y2="259" stroke="#f3f3f3" stroke-width="0.4"/>
<line x1="542.25" y1="261" x2="542.25" y2="372.5" stroke="#ececec" stroke-width="0.5"/>
<line x1="542.25" y1="244" x2="542.25" y2="259" stroke="#f3f3f3" stroke-width="0.4"/>
<line x1="564.58" y1="261" x2="564.58" y2="372.5" stroke="#f5f5f5" stroke-width="0.5"/>
<line x1="564.58" y1="244" x2="564.58" y2="259" stroke="#f3f3f3" stroke-width="0.4"/>
<line x1="586.9" y1="261" x2="586.9" y2="372.5" stroke="#ececec" stroke-width="0.5"/>
<line x1="586.9" y1="244" x2="586.9" y2="259" stroke="#f3f3f3" stroke-width="0.4"/>
<line x1="609.23" y1="261" x2="609.23" y2="372.5" stroke="#f5f5f5" stroke-width="0.5"/>
<line x1="609.23" y1="244" x2="609.23" y2="259" stroke="#f3f3f3" stroke-width="0.4"/>
<line x1="631.55" y1="261" x2="631.55" y2="372.5" stroke="#ececec" stroke-width="0.5"/>
<line x1="631.55" y1="244" x2="631.55" y2="259" stroke="#f3f3f3" stroke-width="0.4"/>
<line x1="653.88" y1="261" x2="653.88" y2="372.5" stroke="#f5f5f5" stroke-width="0.5"/>
<line x1="653.88" y1="244" x2="653.88" y2="259" stroke="#f3f3f3" stroke-width="0.4"/>
<line x1="486.5" y1="367.5" x2="662.5" y2="367.5" stroke="#ececec" stroke-width="0.5"/>
<line x1="486.5" y1="352.9" x2="662.5" y2="352.9" stroke="#f5f5f5" stroke-width="0.5"/>
<line x1="486.5" y1="338.3" x2="662.5" y2="338.3" stroke="#ececec" stroke-width="0.5"/>
<line x1="486.5" y1="323.7" x2="662.5" y2="323.7" stroke="#f5f5f5" stroke-width="0.5"/>
<line x1="486.5" y1="309.1" x2="662.5" y2="309.1" stroke="#ececec" stroke-width="0.5"/>
<line x1="486.5" y1="294.5" x2="662.5" y2="294.5" stroke="#f5f5f5" stroke-width="0.5"/>
<line x1="486.5" y1="279.9" x2="662.5" y2="279.9" stroke="#ececec" stroke-width="0.5"/>
<line x1="486.5" y1="265.3" x2="662.5" y2="265.3" stroke="#f5f5f5" stroke-width="0.5"/>
<text x="484.6" y="368.8" font-size="3.6" text-anchor="end" fill="#4d4d4d" stroke="#4d4d4d" stroke-width="0.07">0</text>
<line x1="485.2" y1="367.5" x2="486.5" y2="367.5" stroke="#888" stroke-width="0.3"/>
<text x="484.6" y="339.6" font-size="3.6" text-anchor="end" fill="#4d4d4d" stroke="#4d4d4d" stroke-width="0.07">20</text>
<line x1="485.2" y1="338.3" x2="486.5" y2="338.3" stroke="#888" stroke-width="0.3"/>
<text x="484.6" y="310.4" font-size="3.6" text-anchor="end" fill="#4d4d4d" stroke="#4d4d4d" stroke-width="0.07">40</text>
<line x1="485.2" y1="309.1" x2="486.5" y2="309.1" stroke="#888" stroke-width="0.3"/>
<text x="484.6" y="281.2" font-size="3.6" text-anchor="end" fill="#4d4d4d" stroke="#4d4d4d" stroke-width="0.07">60</text>
<line x1="485.2" y1="279.9" x2="486.5" y2="279.9" stroke="#888" stroke-width="0.3"/>
<text x="497.6" y="378.2" font-size="3.6" text-anchor="middle" fill="#4d4d4d" stroke="#4d4d4d" stroke-width="0.07">0.00</text>
<line x1="497.6" y1="372.5" x2="497.6" y2="373.6" stroke="#888" stroke-width="0.3"/>
<text x="542.25" y="378.2" font-size="3.6" text-anchor="middle" fill="#4d4d4d" stroke="#4d4d4d" stroke-width="0.07">0.25</text>
<line x1="542.25" y1="372.5" x2="542.25" y2="373.6" stroke="#888" stroke-width="0.3"/>
<text x="586.9" y="378.2" font-size="3.6" text-anchor="middle" fill="#4d4d4d" stroke="#4d4d4d" stroke-width="0.07">0.50</text>
<line x1="586.9" y1="372.5" x2="586.9" y2="373.6" stroke="#888" stroke-width="0.3"/>
<text x="631.55" y="378.2" font-size="3.6" text-anchor="middle" fill="#4d4d4d" stroke="#4d4d4d" stroke-width="0.07">0.75</text>
<line x1="631.55" y1="372.5" x2="631.55" y2="373.6" stroke="#888" stroke-width="0.3"/>
<polygon points="497.6,334.36 499.6,334.04 501.6,333.7 503.6,333.36 505.6,333.01 507.6,332.66 509.6,332.29 511.6,331.91 513.6,331.53 515.6,331.14 517.6,330.73 519.6,330.32 521.6,329.9 523.6,329.47 525.6,329.03 527.6,328.58 529.6,328.12 531.6,327.66 533.6,327.19 535.6,326.71 537.6,326.23 539.6,325.74 541.6,325.25 543.6,324.75 545.6,324.25 547.6,323.74 549.6,323.23 551.6,322.71 553.6,322.2 555.6,321.67 557.6,321.15 559.6,320.63 561.6,320.1 563.6,319.57 565.6,319.03 567.6,318.5 569.6,317.96 571.6,317.43 573.6,316.89 575.6,316.35 577.6,315.81 579.6,315.26 581.6,314.72 583.6,314.18 585.6,313.63 587.6,313.08 589.6,312.54 591.6,311.99 593.6,311.44 595.6,310.89 597.6,310.34 599.6,309.79 601.6,309.24 603.6,308.69 605.6,308.14 607.6,307.58 609.6,307.03 611.6,306.48 613.6,305.92 615.6,305.37 617.6,304.81 619.6,304.26 621.6,303.7 623.6,303.15 625.6,302.59 627.6,302.04 629.6,301.48 631.6,300.93 633.6,300.37 635.6,299.81 637.6,299.25 639.6,298.7 641.6,298.14 643.6,297.58 645.6,297.02 647.6,296.47 649.6,295.91 651.6,295.35 653.6,294.79 655.6,294.23 655.6,318.61 653.6,318.84 651.6,319.07 649.6,319.31 647.6,319.54 645.6,319.78 643.6,320.01 641.6,320.24 639.6,320.48 637.6,320.71 635.6,320.95 633.6,321.18 631.6,321.42 629.6,321.65 627.6,321.89 625.6,322.12 623.6,322.36 621.6,322.6 619.6,322.83 617.6,323.07 615.6,323.31 613.6,323.55 611.6,323.78 609.6,324.02 607.6,324.26 605.6,324.5 603.6,324.74 601.6,324.98 599.6,325.22 597.6,325.46 595.6,325.71 593.6,325.95 591.6,326.19 589.6,326.44 587.6,326.68 585.6,326.93 583.6,327.17 581.6,327.42 579.6,327.67 577.6,327.92 575.6,328.17 573.6,328.42 571.6,328.67 569.6,328.93 567.6,329.18 565.6,329.44 563.6,329.7 561.6,329.96 559.6,330.23 557.6,330.49 555.6,330.76 553.6,331.03 551.6,331.31 549.6,331.58 547.6,331.86 545.6,332.15 543.6,332.44 541.6,332.73 539.6,333.03 537.6,333.33 535.6,333.64 533.6,333.96 531.6,334.28 529.6,334.61 527.6,334.94 525.6,335.29 523.6,335.64 521.6,336 519.6,336.37 517.6,336.75 515.6,337.14 513.6,337.53 511.6,337.94 509.6,338.36 507.6,338.78 505.6,339.22 503.6,339.66 501.6,340.11 499.6,340.57 497.6,341.04" fill="#cfcfcf" fill-opacity="0.8"/>
<rect x="508.47" y="264.7" width="1.2" height="1.2" fill="#111" stroke="none" stroke-width="0.5" fill-opacity="0.8"/>
<rect x="558.55" y="264.7" width="1.2" height="1.2" fill="#111" stroke="none" stroke-width="0.5" fill-opacity="0.8"/>
<rect x="590.08" y="264.7" width="1.2" height="1.2" fill="#111" stroke="none" stroke-width="0.5" fill-opacity="0.8"/>
<rect x="619.67" y="264.7" width="1.2" height="1.2" fill="#111" stroke="none" stroke-width="0.5" fill-opacity="0.8"/>
<rect x="636.54" y="264.7" width="1.2" height="1.2" fill="#111" stroke="none" stroke-width="0.5" fill-opacity="0.8"/>
<rect x="499.15" y="279.3" width="1.2" height="1.2" fill="#111" stroke="none" stroke-width="0.5" fill-opacity="0.8"/>
<rect x="499.62" y="279.3" width="1.2" height="1.2" fill="#111" stroke="none" stroke-width="0.5" fill-opacity="0.8"/>
<rect x="507.38" y="279.3" width="1.2" height="1.2" fill="#111" stroke="none" stroke-width="0.5" fill-opacity="0.8"/>
<rect x="509.17" y="279.3" width="1.2" height="1.2" fill="#111" stroke="none" stroke-width="0.5" fill-opacity="0.8"/>
<rect x="518.99" y="279.3" width="1.2" height="1.2" fill="#111" stroke="none" stroke-width="0.5" fill-opacity="0.8"/>
<rect x="548.64" y="279.3" width="1.2" height="1.2" fill="#111" stroke="none" stroke-width="0.5" fill-opacity="0.8"/>
<rect x="595.47" y="279.3" width="1.2" height="1.2" fill="#111" stroke="none" stroke-width="0.5" fill-opacity="0.8"/>
<rect x="544.38" y="286.6" width="1.2" height="1.2" fill="#111" stroke="none" stroke-width="0.5" fill-opacity="0.8"/>
<rect x="498.75" y="293.9" width="1.2" height="1.2" fill="#111" stroke="none" stroke-width="0.5" fill-opacity="0.8"/>
<rect x="499.93" y="293.9" width="1.2" height="1.2" fill="#111" stroke="none" stroke-width="0.5" fill-opacity="0.8"/>
<rect x="501.44" y="293.9" width="1.2" height="1.2" fill="#111" stroke="none" stroke-width="0.5" fill-opacity="0.8"/>
<rect x="507.11" y="293.9" width="1.2" height="1.2" fill="#111" stroke="none" stroke-width="0.5" fill-opacity="0.8"/>
<rect x="510.23" y="293.9" width="1.2" height="1.2" fill="#111" stroke="none" stroke-width="0.5" fill-opacity="0.8"/>
<rect x="521.67" y="293.9" width="1.2" height="1.2" fill="#111" stroke="none" stroke-width="0.5" fill-opacity="0.8"/>
<rect x="526.35" y="293.9" width="1.2" height="1.2" fill="#111" stroke="none" stroke-width="0.5" fill-opacity="0.8"/>
<rect x="610.56" y="293.9" width="1.2" height="1.2" fill="#111" stroke="none" stroke-width="0.5" fill-opacity="0.8"/>
<rect x="616.2" y="293.9" width="1.2" height="1.2" fill="#111" stroke="none" stroke-width="0.5" fill-opacity="0.8"/>
<rect x="634.58" y="293.9" width="1.2" height="1.2" fill="#111" stroke="none" stroke-width="0.5" fill-opacity="0.8"/>
<rect x="636.18" y="293.9" width="1.2" height="1.2" fill="#111" stroke="none" stroke-width="0.5" fill-opacity="0.8"/>
<rect x="503.07" y="301.2" width="1.2" height="1.2" fill="#111" stroke="none" stroke-width="0.5" fill-opacity="0.8"/>
<rect x="525.88" y="301.2" width="1.2" height="1.2" fill="#111" stroke="none" stroke-width="0.5" fill-opacity="0.8"/>
<rect x="496.6" y="308.6" width="1.2" height="1.2" fill="#111" stroke="none" stroke-width="0.5" fill-opacity="0.8"/>
<rect x="498.12" y="308.6" width="1.2" height="1.2" fill="#111" stroke="none" stroke-width="0.5" fill-opacity="0.8"/>
<rect x="498.73" y="308.6" width="1.2" height="1.2" fill="#111" stroke="none" stroke-width="0.5" fill-opacity="0.8"/>
<rect x="499.73" y="308.6" width="1.2" height="1.2" fill="#111" stroke="none" stroke-width="0.5" fill-opacity="0.8"/>
<rect x="501.19" y="308.6" width="1.2" height="1.2" fill="#111" stroke="none" stroke-width="0.5" fill-opacity="0.8"/>
<rect x="505.12" y="308.6" width="1.2" height="1.2" fill="#111" stroke="none" stroke-width="0.5" fill-opacity="0.8"/>
<rect x="511.97" y="308.6" width="1.2" height="1.2" fill="#111" stroke="none" stroke-width="0.5" fill-opacity="0.8"/>
<rect x="515.68" y="308.6" width="1.2" height="1.2" fill="#111" stroke="none" stroke-width="0.5" fill-opacity="0.8"/>
<rect x="516.92" y="308.6" width="1.2" height="1.2" fill="#111" stroke="none" stroke-width="0.5" fill-opacity="0.8"/>
<rect x="518.51" y="308.6" width="1.2" height="1.2" fill="#111" stroke="none" stroke-width="0.5" fill-opacity="0.8"/>
<rect x="541.62" y="308.6" width="1.2" height="1.2" fill="#111" stroke="none" stroke-width="0.5" fill-opacity="0.8"/>
<rect x="558.16" y="308.6" width="1.2" height="1.2" fill="#111" stroke="none" stroke-width="0.5" fill-opacity="0.8"/>
<rect x="575.51" y="308.6" width="1.2" height="1.2" fill="#111" stroke="none" stroke-width="0.5" fill-opacity="0.8"/>
<rect x="588.28" y="308.6" width="1.2" height="1.2" fill="#111" stroke="none" stroke-width="0.5" fill-opacity="0.8"/>
<rect x="609.14" y="308.6" width="1.2" height="1.2" fill="#111" stroke="none" stroke-width="0.5" fill-opacity="0.8"/>
<rect x="498.58" y="315.9" width="1.2" height="1.2" fill="#111" stroke="none" stroke-width="0.5" fill-opacity="0.8"/>
<rect x="511.32" y="315.9" width="1.2" height="1.2" fill="#111" stroke="none" stroke-width="0.5" fill-opacity="0.8"/>
<rect x="513.2" y="315.9" width="1.2" height="1.2" fill="#111" stroke="none" stroke-width="0.5" fill-opacity="0.8"/>
<rect x="531.09" y="315.9" width="1.2" height="1.2" fill="#111" stroke="none" stroke-width="0.5" fill-opacity="0.8"/>
<rect x="650.44" y="315.9" width="1.2" height="1.2" fill="#111" stroke="none" stroke-width="0.5" fill-opacity="0.8"/>
<rect x="498.28" y="323.2" width="1.2" height="1.2" fill="#111" stroke="none" stroke-width="0.5" fill-opacity="0.8"/>
<rect x="499.66" y="323.2" width="1.2" height="1.2" fill="#111" stroke="none" stroke-width="0.5" fill-opacity="0.8"/>
<rect x="500.6" y="323.2" width="1.2" height="1.2" fill="#111" stroke="none" stroke-width="0.5" fill-opacity="0.8"/>
<rect x="504.51" y="323.2" width="1.2" height="1.2" fill="#111" stroke="none" stroke-width="0.5" fill-opacity="0.8"/>
<rect x="505.8" y="323.2" width="1.2" height="1.2" fill="#111" stroke="none" stroke-width="0.5" fill-opacity="0.8"/>
<rect x="507.29" y="323.2" width="1.2" height="1.2" fill="#111" stroke="none" stroke-width="0.5" fill-opacity="0.8"/>
<rect x="509.09" y="323.2" width="1.2" height="1.2" fill="#111" stroke="none" stroke-width="0.5" fill-opacity="0.8"/>
<rect x="511.39" y="323.2" width="1.2" height="1.2" fill="#111" stroke="none" stroke-width="0.5" fill-opacity="0.8"/>
<rect x="518.29" y="323.2" width="1.2" height="1.2" fill="#111" stroke="none" stroke-width="0.5" fill-opacity="0.8"/>
<rect x="530.29" y="323.2" width="1.2" height="1.2" fill="#111" stroke="none" stroke-width="0.5" fill-opacity="0.8"/>
<rect x="590.92" y="323.2" width="1.2" height="1.2" fill="#111" stroke="none" stroke-width="0.5" fill-opacity="0.8"/>
<rect x="603.83" y="323.2" width="1.2" height="1.2" fill="#111" stroke="none" stroke-width="0.5" fill-opacity="0.8"/>
<rect x="648.49" y="323.2" width="1.2" height="1.2" fill="#111" stroke="none" stroke-width="0.5" fill-opacity="0.8"/>
<rect x="655.11" y="323.2" width="1.2" height="1.2" fill="#111" stroke="none" stroke-width="0.5" fill-opacity="0.8"/>
<rect x="497.55" y="330.4" width="1.2" height="1.2" fill="#111" stroke="none" stroke-width="0.5" fill-opacity="0.8"/>
<rect x="499.11" y="330.4" width="1.2" height="1.2" fill="#111" stroke="none" stroke-width="0.5" fill-opacity="0.8"/>
<rect x="651.61" y="330.4" width="1.2" height="1.2" fill="#111" stroke="none" stroke-width="0.5" fill-opacity="0.8"/>
<rect x="497.07" y="337.8" width="1.2" height="1.2" fill="#111" stroke="none" stroke-width="0.5" fill-opacity="0.8"/>
<rect x="497.82" y="337.8" width="1.2" height="1.2" fill="#111" stroke="none" stroke-width="0.5" fill-opacity="0.8"/>
<rect x="498.95" y="337.8" width="1.2" height="1.2" fill="#111" stroke="none" stroke-width="0.5" fill-opacity="0.8"/>
<rect x="499.61" y="337.8" width="1.2" height="1.2" fill="#111" stroke="none" stroke-width="0.5" fill-opacity="0.8"/>
<rect x="500.63" y="337.8" width="1.2" height="1.2" fill="#111" stroke="none" stroke-width="0.5" fill-opacity="0.8"/>
<rect x="502.21" y="337.8" width="1.2" height="1.2" fill="#111" stroke="none" stroke-width="0.5" fill-opacity="0.8"/>
<rect x="507.67" y="337.8" width="1.2" height="1.2" fill="#111" stroke="none" stroke-width="0.5" fill-opacity="0.8"/>
<rect x="518.22" y="337.8" width="1.2" height="1.2" fill="#111" stroke="none" stroke-width="0.5" fill-opacity="0.8"/>
<rect x="526.55" y="337.8" width="1.2" height="1.2" fill="#111" stroke="none" stroke-width="0.5" fill-opacity="0.8"/>
<rect x="555.16" y="337.8" width="1.2" height="1.2" fill="#111" stroke="none" stroke-width="0.5" fill-opacity="0.8"/>
<rect x="570.67" y="337.8" width="1.2" height="1.2" fill="#111" stroke="none" stroke-width="0.5" fill-opacity="0.8"/>
<rect x="623.81" y="337.8" width="1.2" height="1.2" fill="#111" stroke="none" stroke-width="0.5" fill-opacity="0.8"/>
<rect x="634.31" y="337.8" width="1.2" height="1.2" fill="#111" stroke="none" stroke-width="0.5" fill-opacity="0.8"/>
<rect x="498.41" y="345" width="1.2" height="1.2" fill="#111" stroke="none" stroke-width="0.5" fill-opacity="0.8"/>
<rect x="499.57" y="345" width="1.2" height="1.2" fill="#111" stroke="none" stroke-width="0.5" fill-opacity="0.8"/>
<rect x="500.16" y="345" width="1.2" height="1.2" fill="#111" stroke="none" stroke-width="0.5" fill-opacity="0.8"/>
<rect x="501.55" y="345" width="1.2" height="1.2" fill="#111" stroke="none" stroke-width="0.5" fill-opacity="0.8"/>
<rect x="502.58" y="345" width="1.2" height="1.2" fill="#111" stroke="none" stroke-width="0.5" fill-opacity="0.8"/>
<rect x="503.62" y="345" width="1.2" height="1.2" fill="#111" stroke="none" stroke-width="0.5" fill-opacity="0.8"/>
<rect x="504.62" y="345" width="1.2" height="1.2" fill="#111" stroke="none" stroke-width="0.5" fill-opacity="0.8"/>
<rect x="506.67" y="345" width="1.2" height="1.2" fill="#111" stroke="none" stroke-width="0.5" fill-opacity="0.8"/>
<rect x="507.65" y="345" width="1.2" height="1.2" fill="#111" stroke="none" stroke-width="0.5" fill-opacity="0.8"/>
<rect x="509.3" y="345" width="1.2" height="1.2" fill="#111" stroke="none" stroke-width="0.5" fill-opacity="0.8"/>
<rect x="511.47" y="345" width="1.2" height="1.2" fill="#111" stroke="none" stroke-width="0.5" fill-opacity="0.8"/>
<rect x="523.65" y="345" width="1.2" height="1.2" fill="#111" stroke="none" stroke-width="0.5" fill-opacity="0.8"/>
<rect x="528.3" y="345" width="1.2" height="1.2" fill="#111" stroke="none" stroke-width="0.5" fill-opacity="0.8"/>
<rect x="651.65" y="345" width="1.2" height="1.2" fill="#111" stroke="none" stroke-width="0.5" fill-opacity="0.8"/>
<rect x="498.43" y="349.3" width="1.2" height="1.2" fill="#111" stroke="none" stroke-width="0.5" fill-opacity="0.8"/>
<rect x="504.29" y="349.3" width="1.2" height="1.2" fill="#111" stroke="none" stroke-width="0.5" fill-opacity="0.8"/>
<rect x="496.79" y="352.3" width="1.2" height="1.2" fill="#111" stroke="none" stroke-width="0.5" fill-opacity="0.8"/>
<rect x="497.71" y="352.3" width="1.2" height="1.2" fill="#111" stroke="none" stroke-width="0.5" fill-opacity="0.8"/>
<rect x="498.65" y="352.3" width="1.2" height="1.2" fill="#111" stroke="none" stroke-width="0.5" fill-opacity="0.8"/>
<rect x="499.69" y="352.3" width="1.2" height="1.2" fill="#111" stroke="none" stroke-width="0.5" fill-opacity="0.8"/>
<rect x="501.01" y="352.3" width="1.2" height="1.2" fill="#111" stroke="none" stroke-width="0.5" fill-opacity="0.8"/>
<rect x="502.2" y="352.3" width="1.2" height="1.2" fill="#111" stroke="none" stroke-width="0.5" fill-opacity="0.8"/>
<rect x="502.7" y="352.3" width="1.2" height="1.2" fill="#111" stroke="none" stroke-width="0.5" fill-opacity="0.8"/>
<rect x="504.13" y="352.3" width="1.2" height="1.2" fill="#111" stroke="none" stroke-width="0.5" fill-opacity="0.8"/>
<rect x="506.19" y="352.3" width="1.2" height="1.2" fill="#111" stroke="none" stroke-width="0.5" fill-opacity="0.8"/>
<rect x="507.42" y="352.3" width="1.2" height="1.2" fill="#111" stroke="none" stroke-width="0.5" fill-opacity="0.8"/>
<rect x="509.34" y="352.3" width="1.2" height="1.2" fill="#111" stroke="none" stroke-width="0.5" fill-opacity="0.8"/>
<rect x="511.24" y="352.3" width="1.2" height="1.2" fill="#111" stroke="none" stroke-width="0.5" fill-opacity="0.8"/>
<rect x="520.46" y="352.3" width="1.2" height="1.2" fill="#111" stroke="none" stroke-width="0.5" fill-opacity="0.8"/>
<rect x="525.6" y="352.3" width="1.2" height="1.2" fill="#111" stroke="none" stroke-width="0.5" fill-opacity="0.8"/>
<rect x="530.37" y="352.3" width="1.2" height="1.2" fill="#111" stroke="none" stroke-width="0.5" fill-opacity="0.8"/>
<rect x="555.35" y="352.3" width="1.2" height="1.2" fill="#111" stroke="none" stroke-width="0.5" fill-opacity="0.8"/>
<rect x="633.63" y="352.3" width="1.2" height="1.2" fill="#111" stroke="none" stroke-width="0.5" fill-opacity="0.8"/>
<rect x="498.65" y="355.2" width="1.2" height="1.2" fill="#111" stroke="none" stroke-width="0.5" fill-opacity="0.8"/>
<rect x="504.12" y="355.2" width="1.2" height="1.2" fill="#111" stroke="none" stroke-width="0.5" fill-opacity="0.8"/>
<rect x="511.4" y="355.2" width="1.2" height="1.2" fill="#111" stroke="none" stroke-width="0.5" fill-opacity="0.8"/>
<rect x="604.6" y="355.2" width="1.2" height="1.2" fill="#111" stroke="none" stroke-width="0.5" fill-opacity="0.8"/>
<rect x="496.68" y="359.6" width="1.2" height="1.2" fill="#111" stroke="none" stroke-width="0.5" fill-opacity="0.8"/>
<rect x="498.04" y="359.6" width="1.2" height="1.2" fill="#111" stroke="none" stroke-width="0.5" fill-opacity="0.8"/>
<rect x="499.17" y="359.6" width="1.2" height="1.2" fill="#111" stroke="none" stroke-width="0.5" fill-opacity="0.8"/>
<rect x="499.98" y="359.6" width="1.2" height="1.2" fill="#111" stroke="none" stroke-width="0.5" fill-opacity="0.8"/>
<rect x="501.07" y="359.6" width="1.2" height="1.2" fill="#111" stroke="none" stroke-width="0.5" fill-opacity="0.8"/>
<rect x="501.66" y="359.6" width="1.2" height="1.2" fill="#111" stroke="none" stroke-width="0.5" fill-opacity="0.8"/>
<rect x="503.36" y="359.6" width="1.2" height="1.2" fill="#111" stroke="none" stroke-width="0.5" fill-opacity="0.8"/>
<rect x="504.69" y="359.6" width="1.2" height="1.2" fill="#111" stroke="none" stroke-width="0.5" fill-opacity="0.8"/>
<rect x="506.61" y="359.6" width="1.2" height="1.2" fill="#111" stroke="none" stroke-width="0.5" fill-opacity="0.8"/>
<rect x="509.28" y="359.6" width="1.2" height="1.2" fill="#111" stroke="none" stroke-width="0.5" fill-opacity="0.8"/>
<rect x="514.37" y="359.6" width="1.2" height="1.2" fill="#111" stroke="none" stroke-width="0.5" fill-opacity="0.8"/>
<rect x="582.7" y="359.6" width="1.2" height="1.2" fill="#111" stroke="none" stroke-width="0.5" fill-opacity="0.8"/>
<rect x="497.61" y="362.5" width="1.2" height="1.2" fill="#111" stroke="none" stroke-width="0.5" fill-opacity="0.8"/>
<rect x="499.19" y="362.5" width="1.2" height="1.2" fill="#111" stroke="none" stroke-width="0.5" fill-opacity="0.8"/>
<rect x="500.37" y="362.5" width="1.2" height="1.2" fill="#111" stroke="none" stroke-width="0.5" fill-opacity="0.8"/>
<rect x="502.39" y="362.5" width="1.2" height="1.2" fill="#111" stroke="none" stroke-width="0.5" fill-opacity="0.8"/>
<rect x="504.54" y="362.5" width="1.2" height="1.2" fill="#111" stroke="none" stroke-width="0.5" fill-opacity="0.8"/>
<rect x="525.39" y="362.5" width="1.2" height="1.2" fill="#111" stroke="none" stroke-width="0.5" fill-opacity="0.8"/>
<rect x="529.27" y="362.5" width="1.2" height="1.2" fill="#111" stroke="none" stroke-width="0.5" fill-opacity="0.8"/>
<rect x="615.34" y="362.5" width="1.2" height="1.2" fill="#111" stroke="none" stroke-width="0.5" fill-opacity="0.8"/>
<rect x="496.69" y="364.8" width="1.2" height="1.2" fill="#111" stroke="none" stroke-width="0.5" fill-opacity="0.8"/>
<rect x="498.33" y="364.8" width="1.2" height="1.2" fill="#111" stroke="none" stroke-width="0.5" fill-opacity="0.8"/>
<rect x="500.19" y="364.8" width="1.2" height="1.2" fill="#111" stroke="none" stroke-width="0.5" fill-opacity="0.8"/>
<rect x="501.68" y="364.8" width="1.2" height="1.2" fill="#111" stroke="none" stroke-width="0.5" fill-opacity="0.8"/>
<rect x="502.98" y="364.8" width="1.2" height="1.2" fill="#111" stroke="none" stroke-width="0.5" fill-opacity="0.8"/>
<rect x="497.4" y="365.7" width="1.2" height="1.2" fill="#111" stroke="none" stroke-width="0.5" fill-opacity="0.8"/>
<rect x="499.3" y="365.7" width="1.2" height="1.2" fill="#111" stroke="none" stroke-width="0.5" fill-opacity="0.8"/>
<rect x="504.15" y="365.7" width="1.2" height="1.2" fill="#111" stroke="none" stroke-width="0.5" fill-opacity="0.8"/>
<rect x="627.26" y="365.7" width="1.2" height="1.2" fill="#111" stroke="none" stroke-width="0.5" fill-opacity="0.8"/>
<rect x="497.57" y="366.9" width="1.2" height="1.2" fill="#111" stroke="none" stroke-width="0.5" fill-opacity="0.8"/>
<rect x="499.12" y="366.9" width="1.2" height="1.2" fill="#111" stroke="none" stroke-width="0.5" fill-opacity="0.8"/>
<rect x="500.32" y="366.9" width="1.2" height="1.2" fill="#111" stroke="none" stroke-width="0.5" fill-opacity="0.8"/>
<rect x="501.57" y="366.9" width="1.2" height="1.2" fill="#111" stroke="none" stroke-width="0.5" fill-opacity="0.8"/>
<rect x="521.56" y="366.9" width="1.2" height="1.2" fill="#111" stroke="none" stroke-width="0.5" fill-opacity="0.8"/>
<line x1="497.6" y1="337.7" x2="655.7" y2="306.4" stroke="#1f2ee8" stroke-width="0.9"/>
<rect x="494.4" y="249.4" width="5.6" height="9.5" fill="#3cb371" stroke="#2a6e46" stroke-width="0.25"/>
<rect x="500" y="248.2" width="5.5" height="10.7" fill="#3cb371" stroke="#2a6e46" stroke-width="0.25"/>
<rect x="505.5" y="254.8" width="5.3" height="4.1" fill="#3cb371" stroke="#2a6e46" stroke-width="0.25"/>
<rect x="510.8" y="256.9" width="5.6" height="2" fill="#3cb371" stroke="#2a6e46" stroke-width="0.25"/>
<rect x="516.4" y="257.6" width="5.4" height="1.3" fill="#3cb371" stroke="#2a6e46" stroke-width="0.25"/>
<rect x="521.8" y="257.2" width="5.5" height="1.7" fill="#3cb371" stroke="#2a6e46" stroke-width="0.25"/>
<rect x="527.3" y="257.9" width="5.4" height="1" fill="#3cb371" stroke="#2a6e46" stroke-width="0.25"/>
<rect x="532.7" y="258.4" width="5.4" height="0.5" fill="#3cb371" stroke="#2a6e46" stroke-width="0.25"/>
<rect x="538.1" y="258.4" width="5.4" height="0.5" fill="#3cb371" stroke="#2a6e46" stroke-width="0.25"/>
<rect x="543.5" y="258.6" width="5.5" height="0.3" fill="#3cb371" stroke="#2a6e46" stroke-width="0.25"/>
<rect x="549" y="258.4" width="5.4" height="0.5" fill="#3cb371" stroke="#2a6e46" stroke-width="0.25"/>
<rect x="554.4" y="258.6" width="5.4" height="0.3" fill="#3cb371" stroke="#2a6e46" stroke-width="0.25"/>
<rect x="559.8" y="258.4" width="5.4" height="0.5" fill="#3cb371" stroke="#2a6e46" stroke-width="0.25"/>
<rect x="565.2" y="258.6" width="5.4" height="0.3" fill="#3cb371" stroke="#2a6e46" stroke-width="0.25"/>
<rect x="570.6" y="258.2" width="5.4" height="0.7" fill="#3cb371" stroke="#2a6e46" stroke-width="0.25"/>
<rect x="576" y="258.4" width="5.4" height="0.5" fill="#3cb371" stroke="#2a6e46" stroke-width="0.25"/>
<rect x="581.4" y="258.6" width="5.4" height="0.3" fill="#3cb371" stroke="#2a6e46" stroke-width="0.25"/>
<rect x="586.8" y="258.4" width="5.4" height="0.5" fill="#3cb371" stroke="#2a6e46" stroke-width="0.25"/>
<rect x="592.2" y="258.6" width="5.4" height="0.3" fill="#3cb371" stroke="#2a6e46" stroke-width="0.25"/>
<rect x="597.6" y="258.4" width="5.4" height="0.5" fill="#3cb371" stroke="#2a6e46" stroke-width="0.25"/>
<rect x="603" y="258.3" width="5.4" height="0.6" fill="#3cb371" stroke="#2a6e46" stroke-width="0.25"/>
<rect x="608.4" y="258.6" width="5.4" height="0.3" fill="#3cb371" stroke="#2a6e46" stroke-width="0.25"/>
<rect x="613.8" y="258.4" width="5.4" height="0.5" fill="#3cb371" stroke="#2a6e46" stroke-width="0.25"/>
<rect x="619.2" y="258.6" width="5.4" height="0.3" fill="#3cb371" stroke="#2a6e46" stroke-width="0.25"/>
<rect x="624.6" y="258.3" width="5.4" height="0.6" fill="#3cb371" stroke="#2a6e46" stroke-width="0.25"/>
<rect x="630" y="258.6" width="5.4" height="0.3" fill="#3cb371" stroke="#2a6e46" stroke-width="0.25"/>
<rect x="635.4" y="258.4" width="5.4" height="0.5" fill="#3cb371" stroke="#2a6e46" stroke-width="0.25"/>
<rect x="640.8" y="258.3" width="5.4" height="0.6" fill="#3cb371" stroke="#2a6e46" stroke-width="0.25"/>
<rect x="646.2" y="258.6" width="5.4" height="0.3" fill="#3cb371" stroke="#2a6e46" stroke-width="0.25"/>
<rect x="651.6" y="258.2" width="5.4" height="0.7" fill="#3cb371" stroke="#2a6e46" stroke-width="0.25"/>
<text x="485.2" y="252.4" font-size="2.8" text-anchor="end" fill="#4d4d4d" stroke="#4d4d4d" stroke-width="0.06">40</text>
<text x="485.2" y="256.1" font-size="2.8" text-anchor="end" fill="#4d4d4d" stroke="#4d4d4d" stroke-width="0.06">20</text>
<text x="485.2" y="259.7" font-size="2.8" text-anchor="end" fill="#4d4d4d" stroke="#4d4d4d" stroke-width="0.06">0</text>
<rect x="666.2" y="264.9" width="3.2" height="3.4" fill="#e0661e" stroke="#7a3510" stroke-width="0.25"/>
<rect x="666.2" y="279.2" width="4.3" height="3.4" fill="#e0661e" stroke="#7a3510" stroke-width="0.25"/>
<rect x="666.2" y="286" width="0.8" height="3.2" fill="#e0661e" stroke="#7a3510" stroke-width="0.25"/>
<rect x="666.2" y="293" width="7.4" height="3.5" fill="#e0661e" stroke="#7a3510" stroke-width="0.25"/>
<rect x="666.2" y="299.7" width="1.3" height="3.2" fill="#e0661e" stroke="#7a3510" stroke-width="0.25"/>
<rect x="666.2" y="306.7" width="13.1" height="3.5" fill="#e0661e" stroke="#7a3510" stroke-width="0.25"/>
<rect x="666.2" y="314" width="4.3" height="3.4" fill="#e0661e" stroke="#7a3510" stroke-width="0.25"/>
<rect x="666.2" y="320.6" width="13.1" height="3.3" fill="#e0661e" stroke="#7a3510" stroke-width="0.25"/>
<rect x="666.2" y="327.3" width="0.8" height="3.4" fill="#e0661e" stroke="#7a3510" stroke-width="0.25"/>
<rect x="666.2" y="338.1" width="15" height="3.4" fill="#e0661e" stroke="#7a3510" stroke-width="0.25"/>
<rect x="666.2" y="345" width="13.1" height="3.6" fill="#e0661e" stroke="#7a3510" stroke-width="0.25"/>
<rect x="666.2" y="348.6" width="1.3" height="3.4" fill="#e0661e" stroke="#7a3510" stroke-width="0.25"/>
<rect x="666.2" y="352" width="16.5" height="3.4" fill="#e0661e" stroke="#7a3510" stroke-width="0.25"/>
<rect x="666.2" y="355.4" width="3.8" height="3.5" fill="#e0661e" stroke="#7a3510" stroke-width="0.25"/>
<rect x="666.2" y="358.9" width="10.4" height="3.6" fill="#e0661e" stroke="#7a3510" stroke-width="0.25"/>
<rect x="666.2" y="362.5" width="5.5" height="3.4" fill="#e0661e" stroke="#7a3510" stroke-width="0.25"/>
<rect x="666.2" y="365.9" width="5.5" height="3.4" fill="#e0661e" stroke="#7a3510" stroke-width="0.25"/>
<line x1="666.2" y1="262" x2="666.2" y2="372.5" stroke="#eeeeee" stroke-width="0.4"/>
<text x="674.5" y="377.5" font-size="2.6" text-anchor="middle" fill="#4d4d4d" stroke="#4d4d4d" stroke-width="0.05">0  5 10 15 20 25</text>
<text x="580.1" y="384.2" font-size="4.86" font-weight="bold" text-anchor="middle" fill="#1a1a1a" stroke="#1a1a1a" stroke-width="0.06">Clinical−radiomics score</text>
<text x="480" y="313.2" font-size="5.04" font-weight="bold" text-anchor="middle" fill="#1a1a1a" stroke="#1a1a1a" stroke-width="0.06" transform="rotate(-90 480 313.2)">Ki−67  labeling index</text>
<text x="1.5" y="415.8" font-size="15" font-weight="bold" text-anchor="start" fill="#1a1a1a" stroke="#1a1a1a" stroke-width="0.18">f</text>
<line x1="24.5" y1="415.4" x2="24.5" y2="579.4" stroke="#333" stroke-width="0.7"/>
<line x1="24.5" y1="579.4" x2="347" y2="579.4" stroke="#333" stroke-width="0.7"/>
<text x="21.4" y="574.9" font-size="7.2" text-anchor="end" fill="#4d4d4d" stroke="#4d4d4d" stroke-width="0.22">0.0</text>
<line x1="22.6" y1="572.3" x2="24.5" y2="572.3" stroke="#333" stroke-width="0.5"/>
<text x="21.4" y="522.9" font-size="7.2" text-anchor="end" fill="#4d4d4d" stroke="#4d4d4d" stroke-width="0.22">0.2</text>
<line x1="22.6" y1="520.3" x2="24.5" y2="520.3" stroke="#333" stroke-width="0.5"/>
<text x="21.4" y="470.9" font-size="7.2" text-anchor="end" fill="#4d4d4d" stroke="#4d4d4d" stroke-width="0.22">0.4</text>
<line x1="22.6" y1="468.3" x2="24.5" y2="468.3" stroke="#333" stroke-width="0.5"/>
<text x="21.4" y="418.9" font-size="7.2" text-anchor="end" fill="#4d4d4d" stroke="#4d4d4d" stroke-width="0.22">0.6</text>
<line x1="22.6" y1="416.3" x2="24.5" y2="416.3" stroke="#333" stroke-width="0.5"/>
<text x="8.5" y="490" font-size="8.7" text-anchor="middle" fill="#1a1a1a" stroke="#1a1a1a" stroke-width="0.1" transform="rotate(-90 8.5 490)">immunecell expression</text>
<line x1="30.55" y1="541" x2="30.55" y2="557.1" stroke="#dc3d2c" stroke-width="0.55"/>
<line x1="30.55" y1="569.3" x2="30.55" y2="572.3" stroke="#dc3d2c" stroke-width="0.55"/>
<rect x="27.9" y="557.1" width="5.3" height="12.2" fill="#e27465" stroke="#dc3d2c" stroke-width="0.55"/>
<line x1="27.9" y1="564.4" x2="33.2" y2="564.4" stroke="#dc3d2c" stroke-width="1"/>
<line x1="36.05" y1="548.7" x2="36.05" y2="553.2" stroke="#4c79b6" stroke-width="0.55"/>
<line x1="36.05" y1="566.2" x2="36.05" y2="572" stroke="#4c79b6" stroke-width="0.55"/>
<rect x="33.4" y="553.2" width="5.3" height="13" fill="#7d9fcc" stroke="#4c79b6" stroke-width="0.55"/>
<line x1="33.4" y1="558.8" x2="38.7" y2="558.8" stroke="#4c79b6" stroke-width="1"/>
<circle cx="36.05" cy="532.9" r="0.85" fill="#4c79b6" stroke="none" stroke-width="0.4"/>
<line x1="33.3" y1="579.4" x2="33.3" y2="581.4" stroke="#333" stroke-width="0.5"/>
<text x="36.1" y="585.8" font-size="7.53" font-weight="bold" font-style="italic" text-anchor="end" fill="#111" stroke="#111" stroke-width="0.09" transform="rotate(-45 36.1 585.8)">B cells naive</text>
<line x1="45.1" y1="568.8" x2="45.1" y2="571.5" stroke="#dc3d2c" stroke-width="0.55"/>
<line x1="45.1" y1="572.3" x2="45.1" y2="572.3" stroke="#dc3d2c" stroke-width="0.55"/>
<rect x="42.45" y="571.5" width="5.3" height="0.8" fill="#e27465" stroke="#dc3d2c" stroke-width="0.55"/>
<line x1="42.45" y1="572.3" x2="47.75" y2="572.3" stroke="#dc3d2c" stroke-width="1"/>
<circle cx="45.1" cy="569.5" r="0.85" fill="#dc3d2c" stroke="none" stroke-width="0.4"/>
<circle cx="45.1" cy="570.6" r="0.85" fill="#dc3d2c" stroke="none" stroke-width="0.4"/>
<line x1="50.6" y1="570.2" x2="50.6" y2="571.8" stroke="#4c79b6" stroke-width="0.55"/>
<line x1="50.6" y1="572.3" x2="50.6" y2="572.3" stroke="#4c79b6" stroke-width="0.55"/>
<rect x="47.95" y="571.8" width="5.3" height="0.5" fill="#7d9fcc" stroke="#4c79b6" stroke-width="0.55"/>
<line x1="47.95" y1="572.3" x2="53.25" y2="572.3" stroke="#4c79b6" stroke-width="1"/>
<circle cx="50.6" cy="566.5" r="0.85" fill="#4c79b6" stroke="none" stroke-width="0.4"/>
<line x1="47.85" y1="579.4" x2="47.85" y2="581.4" stroke="#333" stroke-width="0.5"/>
<text x="50.65" y="585.8" font-size="7.53" font-weight="bold" font-style="italic" text-anchor="end" fill="#111" stroke="#111" stroke-width="0.09" transform="rotate(-45 50.65 585.8)">B cells memory</text>
<line x1="59.65" y1="569.5" x2="59.65" y2="570.6" stroke="#dc3d2c" stroke-width="0.55"/>
<line x1="59.65" y1="572.3" x2="59.65" y2="572.3" stroke="#dc3d2c" stroke-width="0.55"/>
<rect x="57" y="570.6" width="5.3" height="1.7" fill="#e27465" stroke="#dc3d2c" stroke-width="0.55"/>
<line x1="57" y1="571.6" x2="62.3" y2="571.6" stroke="#dc3d2c" stroke-width="1"/>
<circle cx="59.65" cy="567.3" r="0.85" fill="#dc3d2c" stroke="none" stroke-width="0.4"/>
<line x1="65.15" y1="566.8" x2="65.15" y2="568.4" stroke="#4c79b6" stroke-width="0.55"/>
<line x1="65.15" y1="572.3" x2="65.15" y2="572.3" stroke="#4c79b6" stroke-width="0.55"/>
<rect x="62.5" y="568.4" width="5.3" height="3.9" fill="#7d9fcc" stroke="#4c79b6" stroke-width="0.55"/>
<line x1="62.5" y1="571" x2="67.8" y2="571" stroke="#4c79b6" stroke-width="1"/>
<circle cx="65.15" cy="553" r="0.85" fill="#4c79b6" stroke="none" stroke-width="0.4"/>
<line x1="62.4" y1="579.4" x2="62.4" y2="581.4" stroke="#333" stroke-width="0.5"/>
<text x="65.2" y="585.8" font-size="7.53" font-weight="bold" font-style="italic" text-anchor="end" fill="#111" stroke="#111" stroke-width="0.09" transform="rotate(-45 65.2 585.8)">Plasma cells</text>
<line x1="74.2" y1="522" x2="74.2" y2="544.3" stroke="#dc3d2c" stroke-width="0.55"/>
<line x1="74.2" y1="560.9" x2="74.2" y2="572.3" stroke="#dc3d2c" stroke-width="0.55"/>
<rect x="71.55" y="544.3" width="5.3" height="16.6" fill="#e27465" stroke="#dc3d2c" stroke-width="0.55"/>
<line x1="71.55" y1="555.3" x2="76.85" y2="555.3" stroke="#dc3d2c" stroke-width="1"/>
<circle cx="74.2" cy="514.2" r="0.85" fill="#dc3d2c" stroke="none" stroke-width="0.4"/>
<line x1="79.7" y1="512.4" x2="79.7" y2="522.9" stroke="#4c79b6" stroke-width="0.55"/>
<line x1="79.7" y1="562.3" x2="79.7" y2="572.3" stroke="#4c79b6" stroke-width="0.55"/>
<rect x="77.05" y="522.9" width="5.3" height="39.4" fill="#7d9fcc" stroke="#4c79b6" stroke-width="0.55"/>
<line x1="77.05" y1="552.2" x2="82.35" y2="552.2" stroke="#4c79b6" stroke-width="1"/>
<line x1="76.95" y1="579.4" x2="76.95" y2="581.4" stroke="#333" stroke-width="0.5"/>
<text x="79.75" y="585.8" font-size="7.53" font-weight="bold" font-style="italic" text-anchor="end" fill="#111" stroke="#111" stroke-width="0.09" transform="rotate(-45 79.75 585.8)">T cells CD8</text>
<line x1="88.75" y1="572.3" x2="88.75" y2="572.3" stroke="#dc3d2c" stroke-width="0.55"/>
<line x1="88.75" y1="572.3" x2="88.75" y2="572.3" stroke="#dc3d2c" stroke-width="0.55"/>
<rect x="86.1" y="572.3" width="5.3" height="0.4" fill="#e27465" stroke="#dc3d2c" stroke-width="0.55"/>
<line x1="86.1" y1="572.3" x2="91.4" y2="572.3" stroke="#dc3d2c" stroke-width="1"/>
<circle cx="88.75" cy="559.2" r="0.85" fill="#dc3d2c" stroke="none" stroke-width="0.4"/>
<circle cx="88.75" cy="568" r="0.85" fill="#dc3d2c" stroke="none" stroke-width="0.4"/>
<line x1="94.25" y1="572.3" x2="94.25" y2="572.3" stroke="#4c79b6" stroke-width="0.55"/>
<line x1="94.25" y1="572.3" x2="94.25" y2="572.3" stroke="#4c79b6" stroke-width="0.55"/>
<rect x="91.6" y="572.3" width="5.3" height="0.4" fill="#7d9fcc" stroke="#4c79b6" stroke-width="0.55"/>
<line x1="91.6" y1="572.3" x2="96.9" y2="572.3" stroke="#4c79b6" stroke-width="1"/>
<line x1="91.5" y1="579.4" x2="91.5" y2="581.4" stroke="#333" stroke-width="0.5"/>
<text x="94.3" y="585.8" font-size="7.53" font-weight="bold" font-style="italic" text-anchor="end" fill="#111" stroke="#111" stroke-width="0.09" transform="rotate(-45 94.3 585.8)">T cells CD4 naive</text>
<line x1="103.3" y1="494.6" x2="103.3" y2="511.9" stroke="#dc3d2c" stroke-width="0.55"/>
<line x1="103.3" y1="550.6" x2="103.3" y2="572.2" stroke="#dc3d2c" stroke-width="0.55"/>
<rect x="100.65" y="511.9" width="5.3" height="38.7" fill="#e27465" stroke="#dc3d2c" stroke-width="0.55"/>
<line x1="100.65" y1="532.1" x2="105.95" y2="532.1" stroke="#dc3d2c" stroke-width="1"/>
<line x1="108.8" y1="533.9" x2="108.8" y2="538.1" stroke="#4c79b6" stroke-width="0.55"/>
<line x1="108.8" y1="554.7" x2="108.8" y2="556.4" stroke="#4c79b6" stroke-width="0.55"/>
<rect x="106.15" y="538.1" width="5.3" height="16.6" fill="#7d9fcc" stroke="#4c79b6" stroke-width="0.55"/>
<line x1="106.15" y1="545.2" x2="111.45" y2="545.2" stroke="#4c79b6" stroke-width="1"/>
<line x1="106.05" y1="579.4" x2="106.05" y2="581.4" stroke="#333" stroke-width="0.5"/>
<text x="108.85" y="585.8" font-size="7.53" font-weight="bold" font-style="italic" text-anchor="end" fill="#111" stroke="#111" stroke-width="0.09" transform="rotate(-45 108.85 585.8)">T cells CD4 memory resting</text>
<line x1="117.85" y1="570.5" x2="117.85" y2="572.3" stroke="#dc3d2c" stroke-width="0.55"/>
<line x1="117.85" y1="572.3" x2="117.85" y2="572.3" stroke="#dc3d2c" stroke-width="0.55"/>
<rect x="115.2" y="572.3" width="5.3" height="0.4" fill="#e27465" stroke="#dc3d2c" stroke-width="0.55"/>
<line x1="115.2" y1="572.3" x2="120.5" y2="572.3" stroke="#dc3d2c" stroke-width="1"/>
<circle cx="117.85" cy="568" r="0.85" fill="#dc3d2c" stroke="none" stroke-width="0.4"/>
<line x1="123.35" y1="565" x2="123.35" y2="567" stroke="#4c79b6" stroke-width="0.55"/>
<line x1="123.35" y1="572" x2="123.35" y2="572.3" stroke="#4c79b6" stroke-width="0.55"/>
<rect x="120.7" y="567" width="5.3" height="5" fill="#7d9fcc" stroke="#4c79b6" stroke-width="0.55"/>
<line x1="120.7" y1="571.5" x2="126" y2="571.5" stroke="#4c79b6" stroke-width="1"/>
<circle cx="123.35" cy="552.5" r="0.85" fill="#4c79b6" stroke="none" stroke-width="0.4"/>
<line x1="120.6" y1="579.4" x2="120.6" y2="581.4" stroke="#333" stroke-width="0.5"/>
<text x="123.4" y="585.8" font-size="7.53" font-weight="bold" font-style="italic" text-anchor="end" fill="#111" stroke="#111" stroke-width="0.09" transform="rotate(-45 123.4 585.8)">T cells CD4 memory activated</text>
<line x1="132.4" y1="554.6" x2="132.4" y2="565.1" stroke="#dc3d2c" stroke-width="0.55"/>
<line x1="132.4" y1="572" x2="132.4" y2="572.3" stroke="#dc3d2c" stroke-width="0.55"/>
<rect x="129.75" y="565.1" width="5.3" height="6.9" fill="#e27465" stroke="#dc3d2c" stroke-width="0.55"/>
<line x1="129.75" y1="569.1" x2="135.05" y2="569.1" stroke="#dc3d2c" stroke-width="1"/>
<line x1="137.9" y1="553.8" x2="137.9" y2="558.5" stroke="#4c79b6" stroke-width="0.55"/>
<line x1="137.9" y1="567.8" x2="137.9" y2="571.5" stroke="#4c79b6" stroke-width="0.55"/>
<rect x="135.25" y="558.5" width="5.3" height="9.3" fill="#7d9fcc" stroke="#4c79b6" stroke-width="0.55"/>
<line x1="135.25" y1="561.2" x2="140.55" y2="561.2" stroke="#4c79b6" stroke-width="1"/>
<line x1="135.15" y1="579.4" x2="135.15" y2="581.4" stroke="#333" stroke-width="0.5"/>
<text x="137.95" y="585.8" font-size="7.53" font-weight="bold" font-style="italic" text-anchor="end" fill="#111" stroke="#111" stroke-width="0.09" transform="rotate(-45 137.95 585.8)">T cells follicular helper</text>
<line x1="146.95" y1="538.8" x2="146.95" y2="554.6" stroke="#dc3d2c" stroke-width="0.55"/>
<line x1="146.95" y1="566.5" x2="146.95" y2="571.5" stroke="#dc3d2c" stroke-width="0.55"/>
<rect x="144.3" y="554.6" width="5.3" height="11.9" fill="#e27465" stroke="#dc3d2c" stroke-width="0.55"/>
<line x1="144.3" y1="558.5" x2="149.6" y2="558.5" stroke="#dc3d2c" stroke-width="1"/>
<line x1="152.45" y1="549.3" x2="152.45" y2="551.7" stroke="#4c79b6" stroke-width="0.55"/>
<line x1="152.45" y1="557.8" x2="152.45" y2="565.7" stroke="#4c79b6" stroke-width="0.55"/>
<rect x="149.8" y="551.7" width="5.3" height="6.1" fill="#7d9fcc" stroke="#4c79b6" stroke-width="0.55"/>
<line x1="149.8" y1="554.6" x2="155.1" y2="554.6" stroke="#4c79b6" stroke-width="1"/>
<circle cx="152.45" cy="534.8" r="0.85" fill="#4c79b6" stroke="none" stroke-width="0.4"/>
<line x1="149.7" y1="579.4" x2="149.7" y2="581.4" stroke="#333" stroke-width="0.5"/>
<text x="152.5" y="585.8" font-size="7.53" font-weight="bold" font-style="italic" text-anchor="end" fill="#111" stroke="#111" stroke-width="0.09" transform="rotate(-45 152.5 585.8)">T cells regulatory (Tregs)</text>
<line x1="161.5" y1="569.8" x2="161.5" y2="571.4" stroke="#dc3d2c" stroke-width="0.55"/>
<line x1="161.5" y1="572.3" x2="161.5" y2="572.3" stroke="#dc3d2c" stroke-width="0.55"/>
<rect x="158.85" y="571.4" width="5.3" height="0.9" fill="#e27465" stroke="#dc3d2c" stroke-width="0.55"/>
<line x1="158.85" y1="572.3" x2="164.15" y2="572.3" stroke="#dc3d2c" stroke-width="1"/>
<circle cx="161.5" cy="563.8" r="0.85" fill="#dc3d2c" stroke="none" stroke-width="0.4"/>
<circle cx="161.5" cy="567" r="0.85" fill="#dc3d2c" stroke="none" stroke-width="0.4"/>
<line x1="167" y1="569.8" x2="167" y2="571" stroke="#4c79b6" stroke-width="0.55"/>
<line x1="167" y1="572.3" x2="167" y2="572.3" stroke="#4c79b6" stroke-width="0.55"/>
<rect x="164.35" y="571" width="5.3" height="1.3" fill="#7d9fcc" stroke="#4c79b6" stroke-width="0.55"/>
<line x1="164.35" y1="571.8" x2="169.65" y2="571.8" stroke="#4c79b6" stroke-width="1"/>
<circle cx="167" cy="568.5" r="0.85" fill="#4c79b6" stroke="none" stroke-width="0.4"/>
<line x1="164.25" y1="579.4" x2="164.25" y2="581.4" stroke="#333" stroke-width="0.5"/>
<text x="167.05" y="585.8" font-size="7.53" font-weight="bold" font-style="italic" text-anchor="end" fill="#111" stroke="#111" stroke-width="0.09" transform="rotate(-45 167.05 585.8)">T cells gamma delta</text>
<line x1="176.05" y1="562.5" x2="176.05" y2="567.8" stroke="#dc3d2c" stroke-width="0.55"/>
<line x1="176.05" y1="572" x2="176.05" y2="572.3" stroke="#dc3d2c" stroke-width="0.55"/>
<rect x="173.4" y="567.8" width="5.3" height="4.2" fill="#e27465" stroke="#dc3d2c" stroke-width="0.55"/>
<line x1="173.4" y1="571" x2="178.7" y2="571" stroke="#dc3d2c" stroke-width="1"/>
<circle cx="176.05" cy="545.4" r="0.85" fill="#dc3d2c" stroke="none" stroke-width="0.4"/>
<circle cx="176.05" cy="557" r="0.85" fill="#dc3d2c" stroke="none" stroke-width="0.4"/>
<line x1="181.55" y1="569.6" x2="181.55" y2="571.5" stroke="#4c79b6" stroke-width="0.55"/>
<line x1="181.55" y1="572.3" x2="181.55" y2="572.3" stroke="#4c79b6" stroke-width="0.55"/>
<rect x="178.9" y="571.5" width="5.3" height="0.8" fill="#7d9fcc" stroke="#4c79b6" stroke-width="0.55"/>
<line x1="178.9" y1="572.3" x2="184.2" y2="572.3" stroke="#4c79b6" stroke-width="1"/>
<line x1="178.8" y1="579.4" x2="178.8" y2="581.4" stroke="#333" stroke-width="0.5"/>
<text x="181.6" y="585.8" font-size="7.53" font-weight="bold" font-style="italic" text-anchor="end" fill="#111" stroke="#111" stroke-width="0.09" transform="rotate(-45 181.6 585.8)">NK cells resting</text>
<line x1="190.6" y1="547.2" x2="190.6" y2="555.6" stroke="#dc3d2c" stroke-width="0.55"/>
<line x1="190.6" y1="563" x2="190.6" y2="571.5" stroke="#dc3d2c" stroke-width="0.55"/>
<rect x="187.95" y="555.6" width="5.3" height="7.4" fill="#e27465" stroke="#dc3d2c" stroke-width="0.55"/>
<line x1="187.95" y1="559.1" x2="193.25" y2="559.1" stroke="#dc3d2c" stroke-width="1"/>
<circle cx="190.6" cy="534" r="0.85" fill="#dc3d2c" stroke="none" stroke-width="0.4"/>
<line x1="196.1" y1="559.9" x2="196.1" y2="562.5" stroke="#4c79b6" stroke-width="0.55"/>
<line x1="196.1" y1="570.4" x2="196.1" y2="572.3" stroke="#4c79b6" stroke-width="0.55"/>
<rect x="193.45" y="562.5" width="5.3" height="7.9" fill="#7d9fcc" stroke="#4c79b6" stroke-width="0.55"/>
<line x1="193.45" y1="565.7" x2="198.75" y2="565.7" stroke="#4c79b6" stroke-width="1"/>
<line x1="193.35" y1="579.4" x2="193.35" y2="581.4" stroke="#333" stroke-width="0.5"/>
<text x="196.15" y="585.8" font-size="7.53" font-weight="bold" font-style="italic" text-anchor="end" fill="#111" stroke="#111" stroke-width="0.09" transform="rotate(-45 196.15 585.8)">NK cells activated</text>
<line x1="205.15" y1="549.3" x2="205.15" y2="561.2" stroke="#dc3d2c" stroke-width="0.55"/>
<line x1="205.15" y1="570.4" x2="205.15" y2="572.3" stroke="#dc3d2c" stroke-width="0.55"/>
<rect x="202.5" y="561.2" width="5.3" height="9.2" fill="#e27465" stroke="#dc3d2c" stroke-width="0.55"/>
<line x1="202.5" y1="567.5" x2="207.8" y2="567.5" stroke="#dc3d2c" stroke-width="1"/>
<line x1="210.65" y1="567" x2="210.65" y2="567.8" stroke="#4c79b6" stroke-width="0.55"/>
<line x1="210.65" y1="572.3" x2="210.65" y2="572.3" stroke="#4c79b6" stroke-width="0.55"/>
<rect x="208" y="567.8" width="5.3" height="4.5" fill="#7d9fcc" stroke="#4c79b6" stroke-width="0.55"/>
<line x1="208" y1="570" x2="213.3" y2="570" stroke="#4c79b6" stroke-width="1"/>
<circle cx="210.65" cy="549" r="0.85" fill="#4c79b6" stroke="none" stroke-width="0.4"/>
<line x1="207.9" y1="579.4" x2="207.9" y2="581.4" stroke="#333" stroke-width="0.5"/>
<text x="210.7" y="585.8" font-size="7.53" font-weight="bold" font-style="italic" text-anchor="end" fill="#111" stroke="#111" stroke-width="0.09" transform="rotate(-45 210.7 585.8)">Monocytes</text>
<line x1="219.7" y1="501" x2="219.7" y2="529.3" stroke="#dc3d2c" stroke-width="0.55"/>
<line x1="219.7" y1="563.6" x2="219.7" y2="571.5" stroke="#dc3d2c" stroke-width="0.55"/>
<rect x="217.05" y="529.3" width="5.3" height="34.3" fill="#e27465" stroke="#dc3d2c" stroke-width="0.55"/>
<line x1="217.05" y1="556.4" x2="222.35" y2="556.4" stroke="#dc3d2c" stroke-width="1"/>
<circle cx="219.7" cy="473.9" r="0.85" fill="#dc3d2c" stroke="none" stroke-width="0.4"/>
<line x1="225.2" y1="511.6" x2="225.2" y2="528" stroke="#4c79b6" stroke-width="0.55"/>
<line x1="225.2" y1="542.7" x2="225.2" y2="549.8" stroke="#4c79b6" stroke-width="0.55"/>
<rect x="222.55" y="528" width="5.3" height="14.7" fill="#7d9fcc" stroke="#4c79b6" stroke-width="0.55"/>
<line x1="222.55" y1="539.3" x2="227.85" y2="539.3" stroke="#4c79b6" stroke-width="1"/>
<circle cx="225.2" cy="436.4" r="0.85" fill="#4c79b6" stroke="none" stroke-width="0.4"/>
<line x1="222.45" y1="579.4" x2="222.45" y2="581.4" stroke="#333" stroke-width="0.5"/>
<text x="225.25" y="585.8" font-size="7.53" font-weight="bold" font-style="italic" text-anchor="end" fill="#111" stroke="#111" stroke-width="0.09" transform="rotate(-45 225.25 585.8)">Macrophages M0</text>
<line x1="234.25" y1="532.7" x2="234.25" y2="545.9" stroke="#dc3d2c" stroke-width="0.55"/>
<line x1="234.25" y1="559.6" x2="234.25" y2="570.4" stroke="#dc3d2c" stroke-width="0.55"/>
<rect x="231.6" y="545.9" width="5.3" height="13.7" fill="#e27465" stroke="#dc3d2c" stroke-width="0.55"/>
<line x1="231.6" y1="554.6" x2="236.9" y2="554.6" stroke="#dc3d2c" stroke-width="1"/>
<line x1="239.75" y1="538.5" x2="239.75" y2="549" stroke="#4c79b6" stroke-width="0.55"/>
<line x1="239.75" y1="559.1" x2="239.75" y2="565.1" stroke="#4c79b6" stroke-width="0.55"/>
<rect x="237.1" y="549" width="5.3" height="10.1" fill="#7d9fcc" stroke="#4c79b6" stroke-width="0.55"/>
<line x1="237.1" y1="555.9" x2="242.4" y2="555.9" stroke="#4c79b6" stroke-width="1"/>
<circle cx="239.75" cy="523.5" r="0.85" fill="#4c79b6" stroke="none" stroke-width="0.4"/>
<line x1="237" y1="579.4" x2="237" y2="581.4" stroke="#333" stroke-width="0.5"/>
<text x="239.8" y="585.8" font-size="7.53" font-weight="bold" font-style="italic" text-anchor="end" fill="#111" stroke="#111" stroke-width="0.09" transform="rotate(-45 239.8 585.8)">Macrophages M1</text>
<line x1="248.8" y1="489.2" x2="248.8" y2="506.3" stroke="#dc3d2c" stroke-width="0.55"/>
<line x1="248.8" y1="526.9" x2="248.8" y2="550.4" stroke="#dc3d2c" stroke-width="0.55"/>
<rect x="246.15" y="506.3" width="5.3" height="20.6" fill="#e27465" stroke="#dc3d2c" stroke-width="0.55"/>
<line x1="246.15" y1="520.3" x2="251.45" y2="520.3" stroke="#dc3d2c" stroke-width="1"/>
<circle cx="248.8" cy="471.5" r="0.85" fill="#dc3d2c" stroke="none" stroke-width="0.4"/>
<line x1="254.3" y1="511" x2="254.3" y2="533.2" stroke="#4c79b6" stroke-width="0.55"/>
<line x1="254.3" y1="551.7" x2="254.3" y2="569.6" stroke="#4c79b6" stroke-width="0.55"/>
<rect x="251.65" y="533.2" width="5.3" height="18.5" fill="#7d9fcc" stroke="#4c79b6" stroke-width="0.55"/>
<line x1="251.65" y1="542.5" x2="256.95" y2="542.5" stroke="#4c79b6" stroke-width="1"/>
<line x1="251.55" y1="579.4" x2="251.55" y2="581.4" stroke="#333" stroke-width="0.5"/>
<text x="254.35" y="585.8" font-size="7.53" font-weight="bold" font-style="italic" text-anchor="end" fill="#111" stroke="#111" stroke-width="0.09" transform="rotate(-45 254.35 585.8)">Macrophages M2</text>
<line x1="263.35" y1="553.3" x2="263.35" y2="562.5" stroke="#dc3d2c" stroke-width="0.55"/>
<line x1="263.35" y1="569.1" x2="263.35" y2="572.3" stroke="#dc3d2c" stroke-width="0.55"/>
<rect x="260.7" y="562.5" width="5.3" height="6.6" fill="#e27465" stroke="#dc3d2c" stroke-width="0.55"/>
<line x1="260.7" y1="566.5" x2="266" y2="566.5" stroke="#dc3d2c" stroke-width="1"/>
<circle cx="263.35" cy="522.9" r="0.85" fill="#dc3d2c" stroke="none" stroke-width="0.4"/>
<circle cx="263.35" cy="547.2" r="0.85" fill="#dc3d2c" stroke="none" stroke-width="0.4"/>
<line x1="268.85" y1="522.1" x2="268.85" y2="545.4" stroke="#4c79b6" stroke-width="0.55"/>
<line x1="268.85" y1="566.5" x2="268.85" y2="572.3" stroke="#4c79b6" stroke-width="0.55"/>
<rect x="266.2" y="545.4" width="5.3" height="21.1" fill="#7d9fcc" stroke="#4c79b6" stroke-width="0.55"/>
<line x1="266.2" y1="559.9" x2="271.5" y2="559.9" stroke="#4c79b6" stroke-width="1"/>
<line x1="266.1" y1="579.4" x2="266.1" y2="581.4" stroke="#333" stroke-width="0.5"/>
<text x="268.9" y="585.8" font-size="7.53" font-weight="bold" font-style="italic" text-anchor="end" fill="#111" stroke="#111" stroke-width="0.09" transform="rotate(-45 268.9 585.8)">Dendritic cells resting</text>
<line x1="277.9" y1="571" x2="277.9" y2="572.3" stroke="#dc3d2c" stroke-width="0.55"/>
<line x1="277.9" y1="572.3" x2="277.9" y2="572.3" stroke="#dc3d2c" stroke-width="0.55"/>
<rect x="275.25" y="572.3" width="5.3" height="0.4" fill="#e27465" stroke="#dc3d2c" stroke-width="0.55"/>
<line x1="275.25" y1="572.3" x2="280.55" y2="572.3" stroke="#dc3d2c" stroke-width="1"/>
<circle cx="277.9" cy="568.8" r="0.85" fill="#dc3d2c" stroke="none" stroke-width="0.4"/>
<line x1="283.4" y1="572.3" x2="283.4" y2="572.3" stroke="#4c79b6" stroke-width="0.55"/>
<line x1="283.4" y1="572.3" x2="283.4" y2="572.3" stroke="#4c79b6" stroke-width="0.55"/>
<rect x="280.75" y="572.3" width="5.3" height="0.4" fill="#7d9fcc" stroke="#4c79b6" stroke-width="0.55"/>
<line x1="280.75" y1="572.3" x2="286.05" y2="572.3" stroke="#4c79b6" stroke-width="1"/>
<line x1="280.65" y1="579.4" x2="280.65" y2="581.4" stroke="#333" stroke-width="0.5"/>
<text x="283.45" y="585.8" font-size="7.53" font-weight="bold" font-style="italic" text-anchor="end" fill="#111" stroke="#111" stroke-width="0.09" transform="rotate(-45 283.45 585.8)">Dendritic cells activated</text>
<line x1="292.45" y1="491.8" x2="292.45" y2="532.2" stroke="#dc3d2c" stroke-width="0.55"/>
<line x1="292.45" y1="561.7" x2="292.45" y2="572.3" stroke="#dc3d2c" stroke-width="0.55"/>
<rect x="289.8" y="532.2" width="5.3" height="29.5" fill="#e27465" stroke="#dc3d2c" stroke-width="0.55"/>
<line x1="289.8" y1="553.8" x2="295.1" y2="553.8" stroke="#dc3d2c" stroke-width="1"/>
<line x1="297.95" y1="551.7" x2="297.95" y2="554.3" stroke="#4c79b6" stroke-width="0.55"/>
<line x1="297.95" y1="564.9" x2="297.95" y2="569.6" stroke="#4c79b6" stroke-width="0.55"/>
<rect x="295.3" y="554.3" width="5.3" height="10.6" fill="#7d9fcc" stroke="#4c79b6" stroke-width="0.55"/>
<line x1="295.3" y1="561.7" x2="300.6" y2="561.7" stroke="#4c79b6" stroke-width="1"/>
<circle cx="297.95" cy="530.8" r="0.85" fill="#4c79b6" stroke="none" stroke-width="0.4"/>
<line x1="295.2" y1="579.4" x2="295.2" y2="581.4" stroke="#333" stroke-width="0.5"/>
<text x="298" y="585.8" font-size="7.53" font-weight="bold" font-style="italic" text-anchor="end" fill="#111" stroke="#111" stroke-width="0.09" transform="rotate(-45 298 585.8)">Mast cells resting</text>
<line x1="307" y1="571" x2="307" y2="572.3" stroke="#dc3d2c" stroke-width="0.55"/>
<line x1="307" y1="572.3" x2="307" y2="572.3" stroke="#dc3d2c" stroke-width="0.55"/>
<rect x="304.35" y="572.3" width="5.3" height="0.4" fill="#e27465" stroke="#dc3d2c" stroke-width="0.55"/>
<line x1="304.35" y1="572.3" x2="309.65" y2="572.3" stroke="#dc3d2c" stroke-width="1"/>
<circle cx="307" cy="566.2" r="0.85" fill="#dc3d2c" stroke="none" stroke-width="0.4"/>
<circle cx="307" cy="569.9" r="0.85" fill="#dc3d2c" stroke="none" stroke-width="0.4"/>
<line x1="312.5" y1="572.3" x2="312.5" y2="572.3" stroke="#4c79b6" stroke-width="0.55"/>
<line x1="312.5" y1="572.3" x2="312.5" y2="572.3" stroke="#4c79b6" stroke-width="0.55"/>
<rect x="309.85" y="572.3" width="5.3" height="0.4" fill="#7d9fcc" stroke="#4c79b6" stroke-width="0.55"/>
<line x1="309.85" y1="572.3" x2="315.15" y2="572.3" stroke="#4c79b6" stroke-width="1"/>
<line x1="309.75" y1="579.4" x2="309.75" y2="581.4" stroke="#333" stroke-width="0.5"/>
<text x="312.55" y="585.8" font-size="7.53" font-weight="bold" font-style="italic" text-anchor="end" fill="#111" stroke="#111" stroke-width="0.09" transform="rotate(-45 312.55 585.8)">Mast cells activated</text>
<line x1="321.55" y1="572.3" x2="321.55" y2="571.6" stroke="#dc3d2c" stroke-width="0.55"/>
<line x1="321.55" y1="572.3" x2="321.55" y2="572.3" stroke="#dc3d2c" stroke-width="0.55"/>
<rect x="318.9" y="571.6" width="5.3" height="0.7" fill="#e27465" stroke="#dc3d2c" stroke-width="0.55"/>
<line x1="318.9" y1="572.3" x2="324.2" y2="572.3" stroke="#dc3d2c" stroke-width="1"/>
<circle cx="321.55" cy="570.4" r="0.85" fill="#dc3d2c" stroke="none" stroke-width="0.4"/>
<line x1="327.05" y1="572.3" x2="327.05" y2="571.6" stroke="#4c79b6" stroke-width="0.55"/>
<line x1="327.05" y1="572.3" x2="327.05" y2="572.3" stroke="#4c79b6" stroke-width="0.55"/>
<rect x="324.4" y="571.6" width="5.3" height="0.7" fill="#7d9fcc" stroke="#4c79b6" stroke-width="0.55"/>
<line x1="324.4" y1="572.3" x2="329.7" y2="572.3" stroke="#4c79b6" stroke-width="1"/>
<circle cx="327.05" cy="567" r="0.85" fill="#4c79b6" stroke="none" stroke-width="0.4"/>
<line x1="324.3" y1="579.4" x2="324.3" y2="581.4" stroke="#333" stroke-width="0.5"/>
<text x="327.1" y="585.8" font-size="7.53" font-weight="bold" font-style="italic" text-anchor="end" fill="#111" stroke="#111" stroke-width="0.09" transform="rotate(-45 327.1 585.8)">Eosinophils</text>
<line x1="336.1" y1="566.5" x2="336.1" y2="569.1" stroke="#dc3d2c" stroke-width="0.55"/>
<line x1="336.1" y1="572.3" x2="336.1" y2="572.3" stroke="#dc3d2c" stroke-width="0.55"/>
<rect x="333.45" y="569.1" width="5.3" height="3.2" fill="#e27465" stroke="#dc3d2c" stroke-width="0.55"/>
<line x1="333.45" y1="571" x2="338.75" y2="571" stroke="#dc3d2c" stroke-width="1"/>
<circle cx="336.1" cy="551.7" r="0.85" fill="#dc3d2c" stroke="none" stroke-width="0.4"/>
<circle cx="336.1" cy="559.1" r="0.85" fill="#dc3d2c" stroke="none" stroke-width="0.4"/>
<line x1="341.6" y1="563" x2="341.6" y2="565.7" stroke="#4c79b6" stroke-width="0.55"/>
<line x1="341.6" y1="572.3" x2="341.6" y2="572.3" stroke="#4c79b6" stroke-width="0.55"/>
<rect x="338.95" y="565.7" width="5.3" height="6.6" fill="#7d9fcc" stroke="#4c79b6" stroke-width="0.55"/>
<line x1="338.95" y1="571" x2="344.25" y2="571" stroke="#4c79b6" stroke-width="1"/>
<circle cx="341.6" cy="552.5" r="0.85" fill="#4c79b6" stroke="none" stroke-width="0.4"/>
<circle cx="341.6" cy="507.6" r="0.85" fill="#4c79b6" stroke="none" stroke-width="0.4"/>
<line x1="338.85" y1="579.4" x2="338.85" y2="581.4" stroke="#333" stroke-width="0.5"/>
<text x="341.65" y="585.8" font-size="7.53" font-weight="bold" font-style="italic" text-anchor="end" fill="#111" stroke="#111" stroke-width="0.09" transform="rotate(-45 341.65 585.8)">Neutrophils</text>
<text x="106" y="423.6" font-size="5.6" text-anchor="middle" fill="#111" stroke="#111" stroke-width="0.17">*</text>
<text x="178.7" y="423.6" font-size="5.6" text-anchor="middle" fill="#111" stroke="#111" stroke-width="0.17">*</text>
<text x="193.2" y="423.6" font-size="5.6" text-anchor="middle" fill="#111" stroke="#111" stroke-width="0.17">**</text>
<text x="251.5" y="423.6" font-size="5.6" text-anchor="middle" fill="#111" stroke="#111" stroke-width="0.17">**</text>
<text x="165.5" y="661" font-size="8.19" font-weight="bold" font-style="italic" text-anchor="middle" fill="#111" stroke="#111" stroke-width="0.1">Immune cell types</text>
<text x="101.7" y="672.2" font-size="6.3" font-weight="bold" font-style="italic" text-anchor="start" fill="#111" stroke="#111" stroke-width="0.08">Group</text>
<rect x="128.2" y="667.6" width="5" height="4.6" fill="#e27465" stroke="#dc3d2c" stroke-width="0.5"/>
<line x1="128.2" y1="669.9" x2="133.2" y2="669.9" stroke="#dc3d2c" stroke-width="0.6"/>
<text x="134.5" y="672.2" font-size="6.58" font-weight="bold" font-style="italic" text-anchor="start" fill="#111" stroke="#111" stroke-width="0.08">High−risk group</text>
<rect x="190.3" y="667.6" width="5" height="4.6" fill="#7d9fcc" stroke="#4c79b6" stroke-width="0.5"/>
<line x1="190.3" y1="669.9" x2="195.3" y2="669.9" stroke="#4c79b6" stroke-width="0.6"/>
<text x="198.5" y="672.2" font-size="6.3" font-weight="bold" font-style="italic" text-anchor="start" fill="#111" stroke="#111" stroke-width="0.08">Low−risk group</text>
<text x="346.2" y="413.8" font-size="15" text-anchor="start" fill="#1a1a1a" stroke="#1a1a1a" stroke-width="0.18">g</text>
<rect x="369.6" y="431.6" width="312.5" height="140.4" fill="#fff" stroke="none" stroke-width="0.5"/>
<line x1="369.6" y1="569.6" x2="682.1" y2="569.6" stroke="#f6f6f6" stroke-width="0.4"/>
<line x1="369.6" y1="537.6" x2="682.1" y2="537.6" stroke="#f6f6f6" stroke-width="0.4"/>
<line x1="369.6" y1="505.6" x2="682.1" y2="505.6" stroke="#f6f6f6" stroke-width="0.4"/>
<line x1="369.6" y1="473.6" x2="682.1" y2="473.6" stroke="#f6f6f6" stroke-width="0.4"/>
<line x1="369.6" y1="441.6" x2="682.1" y2="441.6" stroke="#f6f6f6" stroke-width="0.4"/>
<line x1="369.6" y1="553.6" x2="682.1" y2="553.6" stroke="#efefef" stroke-width="0.6"/>
<line x1="369.6" y1="521.6" x2="682.1" y2="521.6" stroke="#efefef" stroke-width="0.6"/>
<line x1="369.6" y1="489.6" x2="682.1" y2="489.6" stroke="#efefef" stroke-width="0.6"/>
<line x1="369.6" y1="457.6" x2="682.1" y2="457.6" stroke="#efefef" stroke-width="0.6"/>
<line x1="376.3" y1="431.6" x2="376.3" y2="572" stroke="#ececec" stroke-width="1.3"/>
<line x1="387.4" y1="431.6" x2="387.4" y2="572" stroke="#ececec" stroke-width="1.3"/>
<line x1="398.5" y1="431.6" x2="398.5" y2="572" stroke="#ececec" stroke-width="1.3"/>
<line x1="409.6" y1="431.6" x2="409.6" y2="572" stroke="#ececec" stroke-width="1.3"/>
<line x1="420.7" y1="431.6" x2="420.7" y2="572" stroke="#ececec" stroke-width="1.3"/>
<line x1="431.8" y1="431.6" x2="431.8" y2="572" stroke="#ececec" stroke-width="1.3"/>
<line x1="442.9" y1="431.6" x2="442.9" y2="572" stroke="#ececec" stroke-width="1.3"/>
<line x1="454" y1="431.6" x2="454" y2="572" stroke="#ececec" stroke-width="1.3"/>
<line x1="465.1" y1="431.6" x2="465.1" y2="572" stroke="#ececec" stroke-width="1.3"/>
<line x1="476.2" y1="431.6" x2="476.2" y2="572" stroke="#ececec" stroke-width="1.3"/>
<line x1="487.3" y1="431.6" x2="487.3" y2="572" stroke="#ececec" stroke-width="1.3"/>
<line x1="498.4" y1="431.6" x2="498.4" y2="572" stroke="#ececec" stroke-width="1.3"/>
<line x1="509.5" y1="431.6" x2="509.5" y2="572" stroke="#ececec" stroke-width="1.3"/>
<line x1="520.6" y1="431.6" x2="520.6" y2="572" stroke="#ececec" stroke-width="1.3"/>
<line x1="531.7" y1="431.6" x2="531.7" y2="572" stroke="#ececec" stroke-width="1.3"/>
<line x1="542.8" y1="431.6" x2="542.8" y2="572" stroke="#ececec" stroke-width="1.3"/>
<line x1="553.9" y1="431.6" x2="553.9" y2="572" stroke="#ececec" stroke-width="1.3"/>
<line x1="565" y1="431.6" x2="565" y2="572" stroke="#ececec" stroke-width="1.3"/>
<line x1="576.1" y1="431.6" x2="576.1" y2="572" stroke="#ececec" stroke-width="1.3"/>
<line x1="587.2" y1="431.6" x2="587.2" y2="572" stroke="#ececec" stroke-width="1.3"/>
<line x1="598.3" y1="431.6" x2="598.3" y2="572" stroke="#ececec" stroke-width="1.3"/>
<line x1="609.4" y1="431.6" x2="609.4" y2="572" stroke="#ececec" stroke-width="1.3"/>
<line x1="620.5" y1="431.6" x2="620.5" y2="572" stroke="#ececec" stroke-width="1.3"/>
<line x1="631.6" y1="431.6" x2="631.6" y2="572" stroke="#ececec" stroke-width="1.3"/>
<line x1="642.7" y1="431.6" x2="642.7" y2="572" stroke="#ececec" stroke-width="1.3"/>
<line x1="653.8" y1="431.6" x2="653.8" y2="572" stroke="#ececec" stroke-width="1.3"/>
<line x1="664.9" y1="431.6" x2="664.9" y2="572" stroke="#ececec" stroke-width="1.3"/>
<line x1="676" y1="431.6" x2="676" y2="572" stroke="#ececec" stroke-width="1.3"/>
<line x1="374.05" y1="464.5" x2="374.05" y2="466.8" stroke="#444" stroke-width="0.55"/>
<line x1="374.05" y1="470.7" x2="374.05" y2="472" stroke="#444" stroke-width="0.55"/>
<rect x="371.9" y="466.8" width="4.3" height="3.9" fill="#e47b78" stroke="#333" stroke-width="0.45"/>
<line x1="371.9" y1="469.1" x2="376.2" y2="469.1" stroke="#111" stroke-width="0.9"/>
<circle cx="374.05" cy="454.5" r="0.55" fill="#c0504d" stroke="none" stroke-width="0.4"/>
<circle cx="374.05" cy="477" r="0.55" fill="#c0504d" stroke="none" stroke-width="0.4"/>
<line x1="378.55" y1="457.6" x2="378.55" y2="461.2" stroke="#707070" stroke-width="0.55"/>
<line x1="378.55" y1="467.3" x2="378.55" y2="470.3" stroke="#707070" stroke-width="0.55"/>
<rect x="376.4" y="461.2" width="4.3" height="6.1" fill="#8fb5e0" stroke="#333" stroke-width="0.45"/>
<line x1="376.4" y1="464.3" x2="380.7" y2="464.3" stroke="#111" stroke-width="0.9"/>
<circle cx="378.55" cy="480" r="0.55" fill="#4f7fbf" stroke="none" stroke-width="0.4"/>
<text x="380" y="575.5" font-size="7.5" text-anchor="end" fill="#3a3a3a" stroke="#3a3a3a" stroke-width="0.22" transform="rotate(-60 380 575.5)">Central memory CD4 T cell</text>
<line x1="385.15" y1="461.5" x2="385.15" y2="465.9" stroke="#444" stroke-width="0.55"/>
<line x1="385.15" y1="475.6" x2="385.15" y2="482.6" stroke="#444" stroke-width="0.55"/>
<rect x="383" y="465.9" width="4.3" height="9.7" fill="#e47b78" stroke="#333" stroke-width="0.45"/>
<line x1="383" y1="472" x2="387.3" y2="472" stroke="#111" stroke-width="0.9"/>
<circle cx="385.15" cy="448" r="0.55" fill="#c0504d" stroke="none" stroke-width="0.4"/>
<line x1="389.65" y1="458" x2="389.65" y2="464.1" stroke="#707070" stroke-width="0.55"/>
<line x1="389.65" y1="470.3" x2="389.65" y2="479.1" stroke="#707070" stroke-width="0.55"/>
<rect x="387.5" y="464.1" width="4.3" height="6.2" fill="#8fb5e0" stroke="#333" stroke-width="0.45"/>
<line x1="387.5" y1="466.8" x2="391.8" y2="466.8" stroke="#111" stroke-width="0.9"/>
<text x="391.1" y="575.5" font-size="7.5" text-anchor="end" fill="#3a3a3a" stroke="#3a3a3a" stroke-width="0.22" transform="rotate(-60 391.1 575.5)">Monocyte</text>
<line x1="396.25" y1="474.7" x2="396.25" y2="476.4" stroke="#444" stroke-width="0.55"/>
<line x1="396.25" y1="484" x2="396.25" y2="486" stroke="#444" stroke-width="0.55"/>
<rect x="394.1" y="476.4" width="4.3" height="7.6" fill="#e47b78" stroke="#333" stroke-width="0.45"/>
<line x1="394.1" y1="483" x2="398.4" y2="483" stroke="#111" stroke-width="0.9"/>
<circle cx="396.25" cy="464.1" r="0.55" fill="#c0504d" stroke="none" stroke-width="0.4"/>
<line x1="400.75" y1="469.9" x2="400.75" y2="470.3" stroke="#707070" stroke-width="0.55"/>
<line x1="400.75" y1="480.5" x2="400.75" y2="489.6" stroke="#707070" stroke-width="0.55"/>
<rect x="398.6" y="470.3" width="4.3" height="10.2" fill="#8fb5e0" stroke="#333" stroke-width="0.45"/>
<line x1="398.6" y1="473.5" x2="402.9" y2="473.5" stroke="#111" stroke-width="0.9"/>
<text x="402.2" y="575.5" font-size="7.5" text-anchor="end" fill="#3a3a3a" stroke="#3a3a3a" stroke-width="0.22" transform="rotate(-60 402.2 575.5)">CD56dim natural killer cell</text>
<line x1="407.35" y1="482.5" x2="407.35" y2="483.1" stroke="#444" stroke-width="0.55"/>
<line x1="407.35" y1="486.5" x2="407.35" y2="489.6" stroke="#444" stroke-width="0.55"/>
<rect x="405.2" y="483.1" width="4.3" height="3.4" fill="#e47b78" stroke="#333" stroke-width="0.45"/>
<line x1="405.2" y1="484" x2="409.5" y2="484" stroke="#111" stroke-width="0.9"/>
<circle cx="407.35" cy="470.7" r="0.55" fill="#c0504d" stroke="none" stroke-width="0.4"/>
<line x1="411.85" y1="477.3" x2="411.85" y2="480.3" stroke="#707070" stroke-width="0.55"/>
<line x1="411.85" y1="483.5" x2="411.85" y2="486.1" stroke="#707070" stroke-width="0.55"/>
<rect x="409.7" y="480.3" width="4.3" height="3.2" fill="#8fb5e0" stroke="#333" stroke-width="0.45"/>
<line x1="409.7" y1="481.2" x2="414" y2="481.2" stroke="#111" stroke-width="0.9"/>
<circle cx="411.85" cy="473.8" r="0.55" fill="#4f7fbf" stroke="none" stroke-width="0.4"/>
<circle cx="411.85" cy="490" r="0.55" fill="#4f7fbf" stroke="none" stroke-width="0.4"/>
<text x="413.3" y="575.5" font-size="7.5" text-anchor="end" fill="#3a3a3a" stroke="#3a3a3a" stroke-width="0.22" transform="rotate(-60 413.3 575.5)">Central memory CD8 T cell</text>
<line x1="418.45" y1="474.7" x2="418.45" y2="477.3" stroke="#444" stroke-width="0.55"/>
<line x1="418.45" y1="484" x2="418.45" y2="486" stroke="#444" stroke-width="0.55"/>
<rect x="416.3" y="477.3" width="4.3" height="6.7" fill="#e47b78" stroke="#333" stroke-width="0.45"/>
<line x1="416.3" y1="480.3" x2="420.6" y2="480.3" stroke="#111" stroke-width="0.9"/>
<line x1="422.95" y1="473.8" x2="422.95" y2="480.3" stroke="#707070" stroke-width="0.55"/>
<line x1="422.95" y1="486.1" x2="422.95" y2="492.6" stroke="#707070" stroke-width="0.55"/>
<rect x="420.8" y="480.3" width="4.3" height="5.8" fill="#8fb5e0" stroke="#333" stroke-width="0.45"/>
<line x1="420.8" y1="483" x2="425.1" y2="483" stroke="#111" stroke-width="0.9"/>
<circle cx="422.95" cy="467.3" r="0.55" fill="#4f7fbf" stroke="none" stroke-width="0.4"/>
<text x="424.4" y="575.5" font-size="7.5" text-anchor="end" fill="#3a3a3a" stroke="#3a3a3a" stroke-width="0.22" transform="rotate(-60 424.4 575.5)">Myeloid derived suppressor cell</text>
<line x1="429.55" y1="471.2" x2="429.55" y2="482" stroke="#444" stroke-width="0.55"/>
<line x1="429.55" y1="493.1" x2="429.55" y2="495.8" stroke="#444" stroke-width="0.55"/>
<rect x="427.4" y="482" width="4.3" height="11.1" fill="#e47b78" stroke="#333" stroke-width="0.45"/>
<line x1="427.4" y1="488.2" x2="431.7" y2="488.2" stroke="#111" stroke-width="0.9"/>
<line x1="434.05" y1="473.8" x2="434.05" y2="480.3" stroke="#707070" stroke-width="0.55"/>
<line x1="434.05" y1="486.1" x2="434.05" y2="492.8" stroke="#707070" stroke-width="0.55"/>
<rect x="431.9" y="480.3" width="4.3" height="5.8" fill="#8fb5e0" stroke="#333" stroke-width="0.45"/>
<line x1="431.9" y1="483.5" x2="436.2" y2="483.5" stroke="#111" stroke-width="0.9"/>
<text x="435.5" y="575.5" font-size="7.5" text-anchor="end" fill="#3a3a3a" stroke="#3a3a3a" stroke-width="0.22" transform="rotate(-60 435.5 575.5)">Plasmacytoid dendritic cell</text>
<line x1="440.65" y1="480.5" x2="440.65" y2="483.1" stroke="#444" stroke-width="0.55"/>
<line x1="440.65" y1="488.2" x2="440.65" y2="495.8" stroke="#444" stroke-width="0.55"/>
<rect x="438.5" y="483.1" width="4.3" height="5.1" fill="#e47b78" stroke="#333" stroke-width="0.45"/>
<line x1="438.5" y1="485.8" x2="442.8" y2="485.8" stroke="#111" stroke-width="0.9"/>
<circle cx="440.65" cy="473.8" r="0.55" fill="#c0504d" stroke="none" stroke-width="0.4"/>
<line x1="445.15" y1="482.5" x2="445.15" y2="483.1" stroke="#707070" stroke-width="0.55"/>
<line x1="445.15" y1="486.5" x2="445.15" y2="490" stroke="#707070" stroke-width="0.55"/>
<rect x="443" y="483.1" width="4.3" height="3.4" fill="#8fb5e0" stroke="#333" stroke-width="0.45"/>
<line x1="443" y1="483.8" x2="447.3" y2="483.8" stroke="#111" stroke-width="0.9"/>
<circle cx="445.15" cy="470.3" r="0.55" fill="#4f7fbf" stroke="none" stroke-width="0.4"/>
<circle cx="445.15" cy="476.8" r="0.55" fill="#4f7fbf" stroke="none" stroke-width="0.4"/>
<circle cx="445.15" cy="493.1" r="0.55" fill="#4f7fbf" stroke="none" stroke-width="0.4"/>
<circle cx="445.15" cy="496.3" r="0.55" fill="#4f7fbf" stroke="none" stroke-width="0.4"/>
<text x="446.6" y="575.5" font-size="7.5" text-anchor="end" fill="#3a3a3a" stroke="#3a3a3a" stroke-width="0.22" transform="rotate(-60 446.6 575.5)">Activated CD8 T cell</text>
<line x1="451.75" y1="480.6" x2="451.75" y2="486.8" stroke="#444" stroke-width="0.55"/>
<line x1="451.75" y1="492.6" x2="451.75" y2="495.6" stroke="#444" stroke-width="0.55"/>
<rect x="449.6" y="486.8" width="4.3" height="5.8" fill="#e47b78" stroke="#333" stroke-width="0.45"/>
<line x1="449.6" y1="489.8" x2="453.9" y2="489.8" stroke="#111" stroke-width="0.9"/>
<line x1="456.25" y1="477.1" x2="456.25" y2="482.9" stroke="#707070" stroke-width="0.55"/>
<line x1="456.25" y1="490" x2="456.25" y2="495.6" stroke="#707070" stroke-width="0.55"/>
<rect x="454.1" y="482.9" width="4.3" height="7.1" fill="#8fb5e0" stroke="#333" stroke-width="0.45"/>
<line x1="454.1" y1="486.4" x2="458.4" y2="486.4" stroke="#111" stroke-width="0.9"/>
<text x="457.7" y="575.5" font-size="7.5" text-anchor="end" fill="#3a3a3a" stroke="#3a3a3a" stroke-width="0.22" transform="rotate(-60 457.7 575.5)">Gamma delta T cell</text>
<line x1="462.85" y1="486.8" x2="462.85" y2="489.4" stroke="#444" stroke-width="0.55"/>
<line x1="462.85" y1="492.9" x2="462.85" y2="493.6" stroke="#444" stroke-width="0.55"/>
<rect x="460.7" y="489.4" width="4.3" height="3.5" fill="#e47b78" stroke="#333" stroke-width="0.45"/>
<line x1="460.7" y1="490.8" x2="465" y2="490.8" stroke="#111" stroke-width="0.9"/>
<circle cx="462.85" cy="480.3" r="0.55" fill="#c0504d" stroke="none" stroke-width="0.4"/>
<line x1="467.35" y1="480.3" x2="467.35" y2="483.3" stroke="#707070" stroke-width="0.55"/>
<line x1="467.35" y1="489.4" x2="467.35" y2="495.6" stroke="#707070" stroke-width="0.55"/>
<rect x="465.2" y="483.3" width="4.3" height="6.1" fill="#8fb5e0" stroke="#333" stroke-width="0.45"/>
<line x1="465.2" y1="486.4" x2="469.5" y2="486.4" stroke="#111" stroke-width="0.9"/>
<text x="468.8" y="575.5" font-size="7.5" text-anchor="end" fill="#3a3a3a" stroke="#3a3a3a" stroke-width="0.22" transform="rotate(-60 468.8 575.5)">Natural killer cell</text>
<line x1="473.95" y1="486.4" x2="473.95" y2="489.4" stroke="#444" stroke-width="0.55"/>
<line x1="473.95" y1="493.5" x2="473.95" y2="495.6" stroke="#444" stroke-width="0.55"/>
<rect x="471.8" y="489.4" width="4.3" height="4.1" fill="#e47b78" stroke="#333" stroke-width="0.45"/>
<line x1="471.8" y1="491.2" x2="476.1" y2="491.2" stroke="#111" stroke-width="0.9"/>
<circle cx="473.95" cy="470.6" r="0.55" fill="#c0504d" stroke="none" stroke-width="0.4"/>
<circle cx="473.95" cy="502.6" r="0.55" fill="#c0504d" stroke="none" stroke-width="0.4"/>
<line x1="478.45" y1="480.3" x2="478.45" y2="483.3" stroke="#707070" stroke-width="0.55"/>
<line x1="478.45" y1="489.8" x2="478.45" y2="495.6" stroke="#707070" stroke-width="0.55"/>
<rect x="476.3" y="483.3" width="4.3" height="6.5" fill="#8fb5e0" stroke="#333" stroke-width="0.45"/>
<line x1="476.3" y1="486.4" x2="480.6" y2="486.4" stroke="#111" stroke-width="0.9"/>
<text x="479.9" y="575.5" font-size="7.5" text-anchor="end" fill="#3a3a3a" stroke="#3a3a3a" stroke-width="0.22" transform="rotate(-60 479.9 575.5)">CD56bright natural killer cell</text>
<line x1="485.05" y1="483.8" x2="485.05" y2="485.9" stroke="#444" stroke-width="0.55"/>
<line x1="485.05" y1="493.5" x2="485.05" y2="499.1" stroke="#444" stroke-width="0.55"/>
<rect x="482.9" y="485.9" width="4.3" height="7.6" fill="#e47b78" stroke="#333" stroke-width="0.45"/>
<line x1="482.9" y1="491.2" x2="487.2" y2="491.2" stroke="#111" stroke-width="0.9"/>
<line x1="489.55" y1="477.1" x2="489.55" y2="483.3" stroke="#707070" stroke-width="0.55"/>
<line x1="489.55" y1="489.4" x2="489.55" y2="492.1" stroke="#707070" stroke-width="0.55"/>
<rect x="487.4" y="483.3" width="4.3" height="6.1" fill="#8fb5e0" stroke="#333" stroke-width="0.45"/>
<line x1="487.4" y1="486.4" x2="491.7" y2="486.4" stroke="#111" stroke-width="0.9"/>
<text x="491" y="575.5" font-size="7.5" text-anchor="end" fill="#3a3a3a" stroke="#3a3a3a" stroke-width="0.22" transform="rotate(-60 491 575.5)">Immature dendritic cell</text>
<line x1="496.15" y1="490" x2="496.15" y2="492.1" stroke="#444" stroke-width="0.55"/>
<line x1="496.15" y1="499.4" x2="496.15" y2="500" stroke="#444" stroke-width="0.55"/>
<rect x="494" y="492.1" width="4.3" height="7.3" fill="#e47b78" stroke="#333" stroke-width="0.45"/>
<line x1="494" y1="495.9" x2="498.3" y2="495.9" stroke="#111" stroke-width="0.9"/>
<circle cx="496.15" cy="515.4" r="0.55" fill="#c0504d" stroke="none" stroke-width="0.4"/>
<line x1="500.65" y1="493.5" x2="500.65" y2="496.4" stroke="#707070" stroke-width="0.55"/>
<line x1="500.65" y1="509.1" x2="500.65" y2="518.4" stroke="#707070" stroke-width="0.55"/>
<rect x="498.5" y="496.4" width="4.3" height="12.7" fill="#8fb5e0" stroke="#333" stroke-width="0.45"/>
<line x1="498.5" y1="502.2" x2="502.8" y2="502.2" stroke="#111" stroke-width="0.9"/>
<text x="502.1" y="575.5" font-size="7.5" text-anchor="end" fill="#3a3a3a" stroke="#3a3a3a" stroke-width="0.22" transform="rotate(-60 502.1 575.5)">Regulatory T cell</text>
<line x1="507.25" y1="500" x2="507.25" y2="501.7" stroke="#444" stroke-width="0.55"/>
<line x1="507.25" y1="506.1" x2="507.25" y2="506.1" stroke="#444" stroke-width="0.55"/>
<rect x="505.1" y="501.7" width="4.3" height="4.4" fill="#e47b78" stroke="#333" stroke-width="0.45"/>
<line x1="505.1" y1="503.5" x2="509.4" y2="503.5" stroke="#111" stroke-width="0.9"/>
<circle cx="507.25" cy="515.4" r="0.55" fill="#c0504d" stroke="none" stroke-width="0.4"/>
<line x1="511.75" y1="501.8" x2="511.75" y2="501.8" stroke="#707070" stroke-width="0.55"/>
<line x1="511.75" y1="502.4" x2="511.75" y2="502.4" stroke="#707070" stroke-width="0.55"/>
<rect x="509.6" y="501.8" width="4.3" height="0.6" fill="#8fb5e0" stroke="#333" stroke-width="0.45"/>
<line x1="509.6" y1="502.1" x2="513.9" y2="502.1" stroke="#111" stroke-width="0.9"/>
<circle cx="511.75" cy="495.9" r="0.55" fill="#4f7fbf" stroke="none" stroke-width="0.4"/>
<circle cx="511.75" cy="500.5" r="0.55" fill="#4f7fbf" stroke="none" stroke-width="0.4"/>
<circle cx="511.75" cy="506.1" r="0.55" fill="#4f7fbf" stroke="none" stroke-width="0.4"/>
<circle cx="511.75" cy="508.8" r="0.55" fill="#4f7fbf" stroke="none" stroke-width="0.4"/>
<text x="513.2" y="575.5" font-size="7.5" text-anchor="end" fill="#3a3a3a" stroke="#3a3a3a" stroke-width="0.22" transform="rotate(-60 513.2 575.5)">Effector memeory CD8 T cell</text>
<line x1="518.35" y1="493.5" x2="518.35" y2="498.7" stroke="#444" stroke-width="0.55"/>
<line x1="518.35" y1="506.5" x2="518.35" y2="511.7" stroke="#444" stroke-width="0.55"/>
<rect x="516.2" y="498.7" width="4.3" height="7.8" fill="#e47b78" stroke="#333" stroke-width="0.45"/>
<line x1="516.2" y1="504.4" x2="520.5" y2="504.4" stroke="#111" stroke-width="0.9"/>
<line x1="522.85" y1="500" x2="522.85" y2="502.2" stroke="#707070" stroke-width="0.55"/>
<line x1="522.85" y1="505.8" x2="522.85" y2="506.1" stroke="#707070" stroke-width="0.55"/>
<rect x="520.7" y="502.2" width="4.3" height="3.6" fill="#8fb5e0" stroke="#333" stroke-width="0.45"/>
<line x1="520.7" y1="502.6" x2="525" y2="502.6" stroke="#111" stroke-width="0.9"/>
<circle cx="522.85" cy="492.9" r="0.55" fill="#4f7fbf" stroke="none" stroke-width="0.4"/>
<circle cx="522.85" cy="511.9" r="0.55" fill="#4f7fbf" stroke="none" stroke-width="0.4"/>
<text x="524.3" y="575.5" font-size="7.5" text-anchor="end" fill="#3a3a3a" stroke="#3a3a3a" stroke-width="0.22" transform="rotate(-60 524.3 575.5)">Activated dendritic cell</text>
<line x1="529.45" y1="493.5" x2="529.45" y2="499.1" stroke="#444" stroke-width="0.55"/>
<line x1="529.45" y1="505.8" x2="529.45" y2="506.1" stroke="#444" stroke-width="0.55"/>
<rect x="527.3" y="499.1" width="4.3" height="6.7" fill="#e47b78" stroke="#333" stroke-width="0.45"/>
<line x1="527.3" y1="499.6" x2="531.6" y2="499.6" stroke="#111" stroke-width="0.9"/>
<circle cx="529.45" cy="521.6" r="0.55" fill="#c0504d" stroke="none" stroke-width="0.4"/>
<line x1="533.95" y1="483.6" x2="533.95" y2="499.4" stroke="#707070" stroke-width="0.55"/>
<line x1="533.95" y1="518.4" x2="533.95" y2="531.1" stroke="#707070" stroke-width="0.55"/>
<rect x="531.8" y="499.4" width="4.3" height="19" fill="#8fb5e0" stroke="#333" stroke-width="0.45"/>
<line x1="531.8" y1="509.3" x2="536.1" y2="509.3" stroke="#111" stroke-width="0.9"/>
<text x="535.4" y="575.5" font-size="7.5" text-anchor="end" fill="#3a3a3a" stroke="#3a3a3a" stroke-width="0.22" transform="rotate(-60 535.4 575.5)">Activated CD4 T cell</text>
<line x1="540.55" y1="505.4" x2="540.55" y2="505.6" stroke="#444" stroke-width="0.55"/>
<line x1="540.55" y1="506.6" x2="540.55" y2="506.8" stroke="#444" stroke-width="0.55"/>
<rect x="538.4" y="505.6" width="4.3" height="1" fill="#e47b78" stroke="#333" stroke-width="0.45"/>
<line x1="538.4" y1="506.1" x2="542.7" y2="506.1" stroke="#111" stroke-width="0.9"/>
<circle cx="540.55" cy="502.2" r="0.55" fill="#c0504d" stroke="none" stroke-width="0.4"/>
<circle cx="540.55" cy="508.8" r="0.55" fill="#c0504d" stroke="none" stroke-width="0.4"/>
<line x1="545.05" y1="505" x2="545.05" y2="505.2" stroke="#707070" stroke-width="0.55"/>
<line x1="545.05" y1="506" x2="545.05" y2="506.2" stroke="#707070" stroke-width="0.55"/>
<rect x="542.9" y="505.2" width="4.3" height="0.8" fill="#8fb5e0" stroke="#333" stroke-width="0.45"/>
<line x1="542.9" y1="505.6" x2="547.2" y2="505.6" stroke="#111" stroke-width="0.9"/>
<circle cx="545.05" cy="499.1" r="0.55" fill="#4f7fbf" stroke="none" stroke-width="0.4"/>
<circle cx="545.05" cy="502.2" r="0.55" fill="#4f7fbf" stroke="none" stroke-width="0.4"/>
<circle cx="545.05" cy="508.8" r="0.55" fill="#4f7fbf" stroke="none" stroke-width="0.4"/>
<text x="546.5" y="575.5" font-size="7.5" text-anchor="end" fill="#3a3a3a" stroke="#3a3a3a" stroke-width="0.22" transform="rotate(-60 546.5 575.5)">Type 1 T helper cell</text>
<line x1="551.65" y1="501.5" x2="551.65" y2="502.2" stroke="#444" stroke-width="0.55"/>
<line x1="551.65" y1="504.4" x2="551.65" y2="505" stroke="#444" stroke-width="0.55"/>
<rect x="549.5" y="502.2" width="4.3" height="2.2" fill="#e47b78" stroke="#333" stroke-width="0.45"/>
<line x1="549.5" y1="503" x2="553.8" y2="503" stroke="#111" stroke-width="0.9"/>
<circle cx="551.65" cy="496.4" r="0.55" fill="#c0504d" stroke="none" stroke-width="0.4"/>
<circle cx="551.65" cy="508.8" r="0.55" fill="#c0504d" stroke="none" stroke-width="0.4"/>
<circle cx="551.65" cy="515.3" r="0.55" fill="#c0504d" stroke="none" stroke-width="0.4"/>
<line x1="556.15" y1="502.2" x2="556.15" y2="505.2" stroke="#707070" stroke-width="0.55"/>
<line x1="556.15" y1="508.8" x2="556.15" y2="510" stroke="#707070" stroke-width="0.55"/>
<rect x="554" y="505.2" width="4.3" height="3.6" fill="#8fb5e0" stroke="#333" stroke-width="0.45"/>
<line x1="554" y1="506.1" x2="558.3" y2="506.1" stroke="#111" stroke-width="0.9"/>
<circle cx="556.15" cy="492.6" r="0.55" fill="#4f7fbf" stroke="none" stroke-width="0.4"/>
<circle cx="556.15" cy="515.3" r="0.55" fill="#4f7fbf" stroke="none" stroke-width="0.4"/>
<text x="557.6" y="575.5" font-size="7.5" text-anchor="end" fill="#3a3a3a" stroke="#3a3a3a" stroke-width="0.22" transform="rotate(-60 557.6 575.5)">Type 2 T helper cell</text>
<line x1="562.75" y1="504.7" x2="562.75" y2="505.7" stroke="#444" stroke-width="0.55"/>
<line x1="562.75" y1="508.5" x2="562.75" y2="511.4" stroke="#444" stroke-width="0.55"/>
<rect x="560.6" y="505.7" width="4.3" height="2.8" fill="#e47b78" stroke="#333" stroke-width="0.45"/>
<line x1="560.6" y1="507" x2="564.9" y2="507" stroke="#111" stroke-width="0.9"/>
<line x1="567.25" y1="499.4" x2="567.25" y2="505.7" stroke="#707070" stroke-width="0.55"/>
<line x1="567.25" y1="512" x2="567.25" y2="518" stroke="#707070" stroke-width="0.55"/>
<rect x="565.1" y="505.7" width="4.3" height="6.3" fill="#8fb5e0" stroke="#333" stroke-width="0.45"/>
<line x1="565.1" y1="508.5" x2="569.4" y2="508.5" stroke="#111" stroke-width="0.9"/>
<text x="568.7" y="575.5" font-size="7.5" text-anchor="end" fill="#3a3a3a" stroke="#3a3a3a" stroke-width="0.22" transform="rotate(-60 568.7 575.5)">T follicular helper cell</text>
<line x1="573.85" y1="506.2" x2="573.85" y2="509.1" stroke="#444" stroke-width="0.55"/>
<line x1="573.85" y1="519.6" x2="573.85" y2="521.5" stroke="#444" stroke-width="0.55"/>
<rect x="571.7" y="509.1" width="4.3" height="10.5" fill="#e47b78" stroke="#333" stroke-width="0.45"/>
<line x1="571.7" y1="517.1" x2="576" y2="517.1" stroke="#111" stroke-width="0.9"/>
<line x1="578.35" y1="509.5" x2="578.35" y2="512" stroke="#707070" stroke-width="0.55"/>
<line x1="578.35" y1="515.2" x2="578.35" y2="515.8" stroke="#707070" stroke-width="0.55"/>
<rect x="576.2" y="512" width="4.3" height="3.2" fill="#8fb5e0" stroke="#333" stroke-width="0.45"/>
<line x1="576.2" y1="512.9" x2="580.5" y2="512.9" stroke="#111" stroke-width="0.9"/>
<circle cx="578.35" cy="521.5" r="0.55" fill="#4f7fbf" stroke="none" stroke-width="0.4"/>
<circle cx="578.35" cy="524.7" r="0.55" fill="#4f7fbf" stroke="none" stroke-width="0.4"/>
<circle cx="578.35" cy="527.6" r="0.55" fill="#4f7fbf" stroke="none" stroke-width="0.4"/>
<text x="579.8" y="575.5" font-size="7.5" text-anchor="end" fill="#3a3a3a" stroke="#3a3a3a" stroke-width="0.22" transform="rotate(-60 579.8 575.5)">Effector memeory CD4 T cell</text>
<line x1="584.95" y1="513" x2="584.95" y2="513.8" stroke="#444" stroke-width="0.55"/>
<line x1="584.95" y1="515.8" x2="584.95" y2="516.4" stroke="#444" stroke-width="0.55"/>
<rect x="582.8" y="513.8" width="4.3" height="2" fill="#e47b78" stroke="#333" stroke-width="0.45"/>
<line x1="582.8" y1="514.6" x2="587.1" y2="514.6" stroke="#111" stroke-width="0.9"/>
<circle cx="584.95" cy="505.7" r="0.55" fill="#c0504d" stroke="none" stroke-width="0.4"/>
<circle cx="584.95" cy="508.5" r="0.55" fill="#c0504d" stroke="none" stroke-width="0.4"/>
<circle cx="584.95" cy="524.7" r="0.55" fill="#c0504d" stroke="none" stroke-width="0.4"/>
<line x1="589.45" y1="506.2" x2="589.45" y2="508.9" stroke="#707070" stroke-width="0.55"/>
<line x1="589.45" y1="518.4" x2="589.45" y2="521.5" stroke="#707070" stroke-width="0.55"/>
<rect x="587.3" y="508.9" width="4.3" height="9.5" fill="#8fb5e0" stroke="#333" stroke-width="0.45"/>
<line x1="587.3" y1="515.2" x2="591.6" y2="515.2" stroke="#111" stroke-width="0.9"/>
<text x="590.9" y="575.5" font-size="7.5" text-anchor="end" fill="#3a3a3a" stroke="#3a3a3a" stroke-width="0.22" transform="rotate(-60 590.9 575.5)">Memory B cell</text>
<line x1="596.05" y1="515.2" x2="596.05" y2="515.8" stroke="#444" stroke-width="0.55"/>
<line x1="596.05" y1="518.4" x2="596.05" y2="521.5" stroke="#444" stroke-width="0.55"/>
<rect x="593.9" y="515.8" width="4.3" height="2.6" fill="#e47b78" stroke="#333" stroke-width="0.45"/>
<line x1="593.9" y1="518" x2="598.2" y2="518" stroke="#111" stroke-width="0.9"/>
<line x1="600.55" y1="509.5" x2="600.55" y2="512.3" stroke="#707070" stroke-width="0.55"/>
<line x1="600.55" y1="515.2" x2="600.55" y2="518" stroke="#707070" stroke-width="0.55"/>
<rect x="598.4" y="512.3" width="4.3" height="2.9" fill="#8fb5e0" stroke="#333" stroke-width="0.45"/>
<line x1="598.4" y1="514.8" x2="602.7" y2="514.8" stroke="#111" stroke-width="0.9"/>
<text x="602" y="575.5" font-size="7.5" text-anchor="end" fill="#3a3a3a" stroke="#3a3a3a" stroke-width="0.22" transform="rotate(-60 602 575.5)">Natural killer T cell</text>
<line x1="607.15" y1="512.3" x2="607.15" y2="514.8" stroke="#444" stroke-width="0.55"/>
<line x1="607.15" y1="522.4" x2="607.15" y2="524.7" stroke="#444" stroke-width="0.55"/>
<rect x="605" y="514.8" width="4.3" height="7.6" fill="#e47b78" stroke="#333" stroke-width="0.45"/>
<line x1="605" y1="515.8" x2="609.3" y2="515.8" stroke="#111" stroke-width="0.9"/>
<line x1="611.65" y1="512.3" x2="611.65" y2="515.6" stroke="#707070" stroke-width="0.55"/>
<line x1="611.65" y1="518.6" x2="611.65" y2="521.8" stroke="#707070" stroke-width="0.55"/>
<rect x="609.5" y="515.6" width="4.3" height="3" fill="#8fb5e0" stroke="#333" stroke-width="0.45"/>
<line x1="609.5" y1="517.1" x2="613.8" y2="517.1" stroke="#111" stroke-width="0.9"/>
<circle cx="611.65" cy="508.5" r="0.55" fill="#4f7fbf" stroke="none" stroke-width="0.4"/>
<circle cx="611.65" cy="524.7" r="0.55" fill="#4f7fbf" stroke="none" stroke-width="0.4"/>
<text x="613.1" y="575.5" font-size="7.5" text-anchor="end" fill="#3a3a3a" stroke="#3a3a3a" stroke-width="0.22" transform="rotate(-60 613.1 575.5)">Macrophage</text>
<line x1="618.25" y1="519.6" x2="618.25" y2="523.4" stroke="#444" stroke-width="0.55"/>
<line x1="618.25" y1="529.5" x2="618.25" y2="534.6" stroke="#444" stroke-width="0.55"/>
<rect x="616.1" y="523.4" width="4.3" height="6.1" fill="#e47b78" stroke="#333" stroke-width="0.45"/>
<line x1="616.1" y1="528.1" x2="620.4" y2="528.1" stroke="#111" stroke-width="0.9"/>
<circle cx="618.25" cy="512" r="0.55" fill="#c0504d" stroke="none" stroke-width="0.4"/>
<line x1="622.75" y1="515.6" x2="622.75" y2="521.8" stroke="#707070" stroke-width="0.55"/>
<line x1="622.75" y1="528.1" x2="622.75" y2="534.6" stroke="#707070" stroke-width="0.55"/>
<rect x="620.6" y="521.8" width="4.3" height="6.3" fill="#8fb5e0" stroke="#333" stroke-width="0.45"/>
<line x1="620.6" y1="524.7" x2="624.9" y2="524.7" stroke="#111" stroke-width="0.9"/>
<text x="624.2" y="575.5" font-size="7.5" text-anchor="end" fill="#3a3a3a" stroke="#3a3a3a" stroke-width="0.22" transform="rotate(-60 624.2 575.5)">Type 17 T helper cell</text>
<line x1="629.35" y1="515.8" x2="629.35" y2="522.2" stroke="#444" stroke-width="0.55"/>
<line x1="629.35" y1="531.4" x2="629.35" y2="540.5" stroke="#444" stroke-width="0.55"/>
<rect x="627.2" y="522.2" width="4.3" height="9.2" fill="#e47b78" stroke="#333" stroke-width="0.45"/>
<line x1="627.2" y1="526.6" x2="631.5" y2="526.6" stroke="#111" stroke-width="0.9"/>
<line x1="633.85" y1="506.2" x2="633.85" y2="518.4" stroke="#707070" stroke-width="0.55"/>
<line x1="633.85" y1="527.9" x2="633.85" y2="540.5" stroke="#707070" stroke-width="0.55"/>
<rect x="631.7" y="518.4" width="4.3" height="9.5" fill="#8fb5e0" stroke="#333" stroke-width="0.45"/>
<line x1="631.7" y1="525.3" x2="636" y2="525.3" stroke="#111" stroke-width="0.9"/>
<circle cx="633.85" cy="550" r="0.55" fill="#4f7fbf" stroke="none" stroke-width="0.4"/>
<text x="635.3" y="575.5" font-size="7.5" text-anchor="end" fill="#3a3a3a" stroke="#3a3a3a" stroke-width="0.22" transform="rotate(-60 635.3 575.5)">Mast cell</text>
<line x1="640.45" y1="512.3" x2="640.45" y2="512.3" stroke="#444" stroke-width="0.55"/>
<line x1="640.45" y1="534.2" x2="640.45" y2="550.4" stroke="#444" stroke-width="0.55"/>
<rect x="638.3" y="512.3" width="4.3" height="21.9" fill="#e47b78" stroke="#333" stroke-width="0.45"/>
<line x1="638.3" y1="521.5" x2="642.6" y2="521.5" stroke="#111" stroke-width="0.9"/>
<line x1="644.95" y1="527.9" x2="644.95" y2="531.4" stroke="#707070" stroke-width="0.55"/>
<line x1="644.95" y1="537.6" x2="644.95" y2="543.7" stroke="#707070" stroke-width="0.55"/>
<rect x="642.8" y="531.4" width="4.3" height="6.2" fill="#8fb5e0" stroke="#333" stroke-width="0.45"/>
<line x1="642.8" y1="533.8" x2="647.1" y2="533.8" stroke="#111" stroke-width="0.9"/>
<circle cx="644.95" cy="515.2" r="0.55" fill="#4f7fbf" stroke="none" stroke-width="0.4"/>
<text x="646.4" y="575.5" font-size="7.5" text-anchor="end" fill="#3a3a3a" stroke="#3a3a3a" stroke-width="0.22" transform="rotate(-60 646.4 575.5)">Immature  B cell</text>
<line x1="651.55" y1="534.6" x2="651.55" y2="544.3" stroke="#444" stroke-width="0.55"/>
<line x1="651.55" y1="551.3" x2="651.55" y2="559.9" stroke="#444" stroke-width="0.55"/>
<rect x="649.4" y="544.3" width="4.3" height="7" fill="#e47b78" stroke="#333" stroke-width="0.45"/>
<line x1="649.4" y1="547.2" x2="653.7" y2="547.2" stroke="#111" stroke-width="0.9"/>
<line x1="656.05" y1="525.3" x2="656.05" y2="534.2" stroke="#707070" stroke-width="0.55"/>
<line x1="656.05" y1="544.1" x2="656.05" y2="556.5" stroke="#707070" stroke-width="0.55"/>
<rect x="653.9" y="534.2" width="4.3" height="9.9" fill="#8fb5e0" stroke="#333" stroke-width="0.45"/>
<line x1="653.9" y1="537.5" x2="658.2" y2="537.5" stroke="#111" stroke-width="0.9"/>
<text x="657.5" y="575.5" font-size="7.5" text-anchor="end" fill="#3a3a3a" stroke="#3a3a3a" stroke-width="0.22" transform="rotate(-60 657.5 575.5)">Eosinophil</text>
<line x1="662.65" y1="509.5" x2="662.65" y2="518" stroke="#444" stroke-width="0.55"/>
<line x1="662.65" y1="552.3" x2="662.65" y2="566.6" stroke="#444" stroke-width="0.55"/>
<rect x="660.5" y="518" width="4.3" height="34.3" fill="#e47b78" stroke="#333" stroke-width="0.45"/>
<line x1="660.5" y1="534.2" x2="664.8" y2="534.2" stroke="#111" stroke-width="0.9"/>
<line x1="667.15" y1="531.4" x2="667.15" y2="541.4" stroke="#707070" stroke-width="0.55"/>
<line x1="667.15" y1="553.8" x2="667.15" y2="566.6" stroke="#707070" stroke-width="0.55"/>
<rect x="665" y="541.4" width="4.3" height="12.4" fill="#8fb5e0" stroke="#333" stroke-width="0.45"/>
<line x1="665" y1="544.3" x2="669.3" y2="544.3" stroke="#111" stroke-width="0.9"/>
<circle cx="667.15" cy="518.4" r="0.55" fill="#4f7fbf" stroke="none" stroke-width="0.4"/>
<text x="668.6" y="575.5" font-size="7.5" text-anchor="end" fill="#3a3a3a" stroke="#3a3a3a" stroke-width="0.22" transform="rotate(-60 668.6 575.5)">Activated B cell</text>
<line x1="673.75" y1="512" x2="673.75" y2="529.1" stroke="#444" stroke-width="0.55"/>
<line x1="673.75" y1="545.3" x2="673.75" y2="559.9" stroke="#444" stroke-width="0.55"/>
<rect x="671.6" y="529.1" width="4.3" height="16.2" fill="#e47b78" stroke="#333" stroke-width="0.45"/>
<line x1="671.6" y1="540.9" x2="675.9" y2="540.9" stroke="#111" stroke-width="0.9"/>
<circle cx="673.75" cy="496.1" r="0.55" fill="#c0504d" stroke="none" stroke-width="0.4"/>
<line x1="678.25" y1="518.6" x2="678.25" y2="534.2" stroke="#707070" stroke-width="0.55"/>
<line x1="678.25" y1="547.5" x2="678.25" y2="561.8" stroke="#707070" stroke-width="0.55"/>
<rect x="676.1" y="534.2" width="4.3" height="13.3" fill="#8fb5e0" stroke="#333" stroke-width="0.45"/>
<line x1="676.1" y1="544.3" x2="680.4" y2="544.3" stroke="#111" stroke-width="0.9"/>
<text x="679.7" y="575.5" font-size="7.5" text-anchor="end" fill="#3a3a3a" stroke="#3a3a3a" stroke-width="0.22" transform="rotate(-60 679.7 575.5)">Neutrophil</text>
<line x1="596" y1="496.3" x2="600.2" y2="496.3" stroke="#555" stroke-width="0.9"/>
<path d="M596.2 501.6 V498.5 H600.2 V501.6" fill="none" stroke="#555" stroke-width="0.8"/>
<line x1="651.6" y1="512.3" x2="655.8" y2="512.3" stroke="#555" stroke-width="0.9"/>
<path d="M651.8 517.6 V514.5 H655.8 V517.6" fill="none" stroke="#555" stroke-width="0.8"/>
<rect x="369.6" y="431.6" width="312.5" height="140.4" fill="none" stroke="#9a9a9a" stroke-width="0.6"/>
<text x="366.8" y="556.1" font-size="7" text-anchor="end" fill="#4d4d4d" stroke="#4d4d4d" stroke-width="0.21">0.02</text>
<line x1="367.8" y1="553.6" x2="369.6" y2="553.6" stroke="#444" stroke-width="0.5"/>
<text x="366.8" y="524.1" font-size="7" text-anchor="end" fill="#4d4d4d" stroke="#4d4d4d" stroke-width="0.21">0.03</text>
<line x1="367.8" y1="521.6" x2="369.6" y2="521.6" stroke="#444" stroke-width="0.5"/>
<text x="366.8" y="492.1" font-size="7" text-anchor="end" fill="#4d4d4d" stroke="#4d4d4d" stroke-width="0.21">0.04</text>
<line x1="367.8" y1="489.6" x2="369.6" y2="489.6" stroke="#444" stroke-width="0.5"/>
<text x="366.8" y="460.1" font-size="7" text-anchor="end" fill="#4d4d4d" stroke="#4d4d4d" stroke-width="0.21">0.05</text>
<line x1="367.8" y1="457.6" x2="369.6" y2="457.6" stroke="#444" stroke-width="0.5"/>
<text x="349.3" y="504.2" font-size="7.62" text-anchor="middle" fill="#1a1a1a" stroke="#1a1a1a" stroke-width="0.23" transform="rotate(-90 349.3 504.2)">proportion</text>
<text x="521.9" y="670.3" font-size="7.91" font-weight="bold" font-style="italic" text-anchor="middle" fill="#111" stroke="#111" stroke-width="0.09">Immune cell types</text>
<text x="455" y="680.8" font-size="6" font-weight="bold" font-style="italic" text-anchor="start" fill="#111" stroke="#111" stroke-width="0.07">Group</text>
<rect x="479.6" y="676.5" width="4.8" height="4.4" fill="#e47b78" stroke="#333" stroke-width="0.4"/>
<line x1="479.6" y1="678.7" x2="484.4" y2="678.7" stroke="#111" stroke-width="0.6"/>
<text x="487.2" y="680.8" font-size="6.33" font-weight="bold" font-style="italic" text-anchor="start" fill="#111" stroke="#111" stroke-width="0.08">High−risk group</text>
<rect x="540.4" y="676.5" width="4.8" height="4.4" fill="#8fb5e0" stroke="#333" stroke-width="0.4"/>
<line x1="540.4" y1="678.7" x2="545.2" y2="678.7" stroke="#111" stroke-width="0.6"/>
<text x="549" y="680.8" font-size="6.36" font-weight="bold" font-style="italic" text-anchor="start" fill="#111" stroke="#111" stroke-width="0.08">Low−risk group</text></svg></body></html>
